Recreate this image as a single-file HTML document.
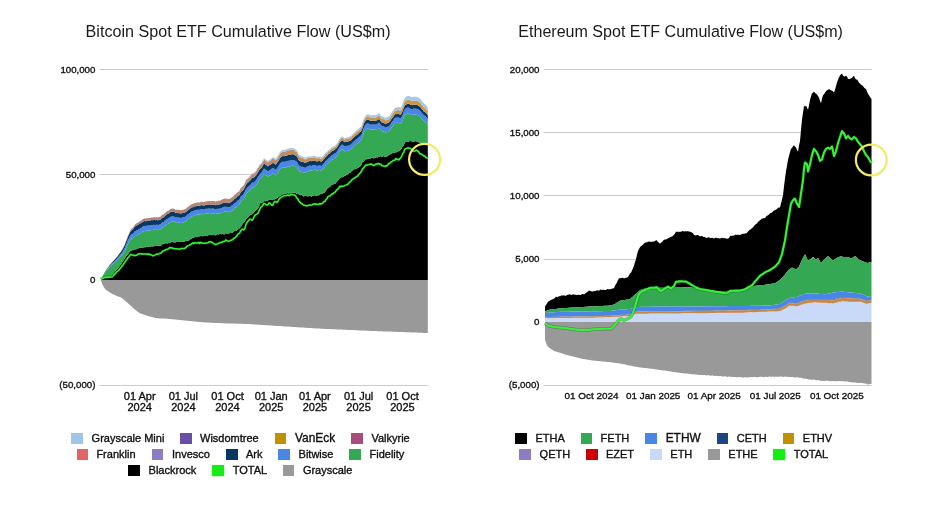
<!DOCTYPE html>
<html><head><meta charset="utf-8"><title>Spot ETF Cumulative Flow</title>
<style>
html,body{margin:0;padding:0;background:#fff;}
body{width:943px;height:506px;position:relative;overflow:hidden;font-family:"Liberation Sans",Arial,sans-serif;color:#222;}
svg{position:absolute;left:0;top:0;}
.t{position:absolute;white-space:nowrap;line-height:14px;height:14px;color:#111;-webkit-text-stroke:0.35px #111;}
.s{position:absolute;width:11.6px;height:11.4px;}
</style></head><body>
<svg width="943" height="506" viewBox="0 0 943 506">
<defs><linearGradient id="thinG" gradientUnits="userSpaceOnUse" x1="100" y1="0" x2="428" y2="0"><stop offset="0" stop-color="#b0807a"/><stop offset="0.45" stop-color="#b98872"/><stop offset="0.7" stop-color="#c6934f"/><stop offset="1" stop-color="#cc9647"/></linearGradient></defs>
<g><rect x="99.5" y="69" width="328.5" height="1" fill="#cacaca"/><rect x="99.5" y="174" width="328.5" height="1" fill="#cacaca"/><rect x="99.5" y="385" width="328.5" height="1" fill="#cacaca"/><rect x="543.5" y="69" width="328" height="1" fill="#cacaca"/><rect x="543.5" y="132" width="328" height="1" fill="#cacaca"/><rect x="543.5" y="195" width="328" height="1" fill="#cacaca"/><rect x="543.5" y="259" width="328" height="1" fill="#cacaca"/><rect x="543.5" y="385" width="328" height="1" fill="#cacaca"/></g>
<g><polygon fill="#999999" points="100.8,280.0 101.8,280.0 102.8,280.0 103.8,280.0 104.8,280.0 105.8,280.0 106.8,280.0 107.8,280.0 108.8,280.0 109.8,280.0 110.8,280.0 111.8,280.0 112.8,280.0 113.8,280.0 114.8,280.0 115.8,280.0 116.8,280.0 117.8,280.0 118.8,280.0 119.8,280.0 120.8,280.0 121.8,280.0 122.8,280.0 123.8,280.0 124.8,280.0 125.8,280.0 126.8,280.0 127.8,280.0 128.8,280.0 129.8,280.0 130.8,280.0 131.8,280.0 132.8,280.0 133.8,280.0 134.8,280.0 135.8,280.0 136.8,280.0 137.8,280.0 138.8,280.0 139.8,280.0 140.8,280.0 141.8,280.0 142.8,280.0 143.8,280.0 144.8,280.0 145.8,280.0 146.8,280.0 147.8,280.0 148.8,280.0 149.8,280.0 150.8,280.0 151.8,280.0 152.8,280.0 153.8,280.0 154.8,280.0 155.8,280.0 156.8,280.0 157.8,280.0 158.8,280.0 159.8,280.0 160.8,280.0 161.8,280.0 162.8,280.0 163.8,280.0 164.8,280.0 165.8,280.0 166.8,280.0 167.8,280.0 168.8,280.0 169.8,280.0 170.8,280.0 171.8,280.0 172.8,280.0 173.8,280.0 174.8,280.0 175.8,280.0 176.8,280.0 177.8,280.0 178.8,280.0 179.8,280.0 180.8,280.0 181.8,280.0 182.8,280.0 183.8,280.0 184.8,280.0 185.8,280.0 186.8,280.0 187.8,280.0 188.8,280.0 189.8,280.0 190.8,280.0 191.8,280.0 192.8,280.0 193.8,280.0 194.8,280.0 195.8,280.0 196.8,280.0 197.8,280.0 198.8,280.0 199.8,280.0 200.8,280.0 201.8,280.0 202.8,280.0 203.8,280.0 204.8,280.0 205.8,280.0 206.8,280.0 207.8,280.0 208.8,280.0 209.8,280.0 210.8,280.0 211.8,280.0 212.8,280.0 213.8,280.0 214.8,280.0 215.8,280.0 216.8,280.0 217.8,280.0 218.8,280.0 219.8,280.0 220.8,280.0 221.8,280.0 222.8,280.0 223.8,280.0 224.8,280.0 225.8,280.0 226.8,280.0 227.8,280.0 228.8,280.0 229.8,280.0 230.8,280.0 231.8,280.0 232.8,280.0 233.8,280.0 234.8,280.0 235.8,280.0 236.8,280.0 237.8,280.0 238.8,280.0 239.8,280.0 240.8,280.0 241.8,280.0 242.8,280.0 243.8,280.0 244.8,280.0 245.8,280.0 246.8,280.0 247.8,280.0 248.8,280.0 249.8,280.0 250.8,280.0 251.8,280.0 252.8,280.0 253.8,280.0 254.8,280.0 255.8,280.0 256.8,280.0 257.8,280.0 258.8,280.0 259.8,280.0 260.8,280.0 261.8,280.0 262.8,280.0 263.8,280.0 264.8,280.0 265.8,280.0 266.8,280.0 267.8,280.0 268.8,280.0 269.8,280.0 270.8,280.0 271.8,280.0 272.8,280.0 273.8,280.0 274.8,280.0 275.8,280.0 276.8,280.0 277.8,280.0 278.8,280.0 279.8,280.0 280.8,280.0 281.8,280.0 282.8,280.0 283.8,280.0 284.8,280.0 285.8,280.0 286.8,280.0 287.8,280.0 288.8,280.0 289.8,280.0 290.8,280.0 291.8,280.0 292.8,280.0 293.8,280.0 294.8,280.0 295.8,280.0 296.8,280.0 297.8,280.0 298.8,280.0 299.8,280.0 300.8,280.0 301.8,280.0 302.8,280.0 303.8,280.0 304.8,280.0 305.8,280.0 306.8,280.0 307.8,280.0 308.8,280.0 309.8,280.0 310.8,280.0 311.8,280.0 312.8,280.0 313.8,280.0 314.8,280.0 315.8,280.0 316.8,280.0 317.8,280.0 318.8,280.0 319.8,280.0 320.8,280.0 321.8,280.0 322.8,280.0 323.8,280.0 324.8,280.0 325.8,280.0 326.8,280.0 327.8,280.0 328.8,280.0 329.8,280.0 330.8,280.0 331.8,280.0 332.8,280.0 333.8,280.0 334.8,280.0 335.8,280.0 336.8,280.0 337.8,280.0 338.8,280.0 339.8,280.0 340.8,280.0 341.8,280.0 342.8,280.0 343.8,280.0 344.8,280.0 345.8,280.0 346.8,280.0 347.8,280.0 348.8,280.0 349.8,280.0 350.8,280.0 351.8,280.0 352.8,280.0 353.8,280.0 354.8,280.0 355.8,280.0 356.8,280.0 357.8,280.0 358.8,280.0 359.8,280.0 360.8,280.0 361.8,280.0 362.8,280.0 363.8,280.0 364.8,280.0 365.8,280.0 366.8,280.0 367.8,280.0 368.8,280.0 369.8,280.0 370.8,280.0 371.8,280.0 372.8,280.0 373.8,280.0 374.8,280.0 375.8,280.0 376.8,280.0 377.8,280.0 378.8,280.0 379.8,280.0 380.8,280.0 381.8,280.0 382.8,280.0 383.8,280.0 384.8,280.0 385.8,280.0 386.8,280.0 387.8,280.0 388.8,280.0 389.8,280.0 390.8,280.0 391.8,280.0 392.8,280.0 393.8,280.0 394.8,280.0 395.8,280.0 396.8,280.0 397.8,280.0 398.8,280.0 399.8,280.0 400.8,280.0 401.8,280.0 402.8,280.0 403.8,280.0 404.8,280.0 405.8,280.0 406.8,280.0 407.8,280.0 408.8,280.0 409.8,280.0 410.8,280.0 411.8,280.0 412.8,280.0 413.8,280.0 414.8,280.0 415.8,280.0 416.8,280.0 417.8,280.0 418.8,280.0 419.8,280.0 420.8,280.0 421.8,280.0 422.8,280.0 423.8,280.0 424.8,280.0 425.8,280.0 426.8,280.0 427.8,280.0 427.8,333.0 426.8,333.0 425.8,332.9 424.8,332.9 423.8,332.9 422.8,332.8 421.8,332.8 420.8,332.7 419.8,332.7 418.8,332.7 417.8,332.6 416.8,332.6 415.8,332.6 414.8,332.5 413.8,332.5 412.8,332.5 411.8,332.4 410.8,332.4 409.8,332.3 408.8,332.3 407.8,332.3 406.8,332.2 405.8,332.2 404.8,332.2 403.8,332.1 402.8,332.1 401.8,332.1 400.8,332.0 399.8,332.0 398.8,331.9 397.8,331.9 396.8,331.9 395.8,331.8 394.8,331.8 393.8,331.8 392.8,331.7 391.8,331.7 390.8,331.6 389.8,331.6 388.8,331.6 387.8,331.5 386.8,331.5 385.8,331.5 384.8,331.4 383.8,331.4 382.8,331.4 381.8,331.3 380.8,331.3 379.8,331.2 378.8,331.2 377.8,331.2 376.8,331.1 375.8,331.1 374.8,331.1 373.8,331.0 372.8,331.0 371.8,330.9 370.8,330.9 369.8,330.9 368.8,330.8 367.8,330.8 366.8,330.7 365.8,330.7 364.8,330.6 363.8,330.6 362.8,330.5 361.8,330.5 360.8,330.5 359.8,330.4 358.8,330.4 357.8,330.3 356.8,330.3 355.8,330.2 354.8,330.2 353.8,330.1 352.8,330.1 351.8,330.1 350.8,330.0 349.8,330.0 348.8,329.9 347.8,329.9 346.8,329.8 345.8,329.8 344.8,329.7 343.8,329.7 342.8,329.7 341.8,329.6 340.8,329.6 339.8,329.5 338.8,329.5 337.8,329.4 336.8,329.4 335.8,329.3 334.8,329.3 333.8,329.3 332.8,329.2 331.8,329.2 330.8,329.1 329.8,329.1 328.8,329.0 327.8,329.0 326.8,328.9 325.8,328.9 324.8,328.9 323.8,328.8 322.8,328.8 321.8,328.7 320.8,328.7 319.8,328.6 318.8,328.6 317.8,328.5 316.8,328.5 315.8,328.4 314.8,328.3 313.8,328.3 312.8,328.2 311.8,328.1 310.8,328.1 309.8,328.0 308.8,327.9 307.8,327.9 306.8,327.8 305.8,327.7 304.8,327.7 303.8,327.6 302.8,327.6 301.8,327.5 300.8,327.4 299.8,327.4 298.8,327.3 297.8,327.2 296.8,327.2 295.8,327.1 294.8,327.0 293.8,327.0 292.8,326.9 291.8,326.8 290.8,326.8 289.8,326.7 288.8,326.6 287.8,326.6 286.8,326.5 285.8,326.4 284.8,326.4 283.8,326.3 282.8,326.3 281.8,326.2 280.8,326.1 279.8,326.1 278.8,326.0 277.8,325.9 276.8,325.9 275.8,325.8 274.8,325.7 273.8,325.7 272.8,325.6 271.8,325.5 270.8,325.5 269.8,325.4 268.8,325.3 267.8,325.3 266.8,325.2 265.8,325.2 264.8,325.1 263.8,325.0 262.8,325.0 261.8,324.9 260.8,324.8 259.8,324.8 258.8,324.7 257.8,324.7 256.8,324.6 255.8,324.5 254.8,324.5 253.8,324.4 252.8,324.3 251.8,324.3 250.8,324.2 249.8,324.1 248.8,324.1 247.8,324.0 246.8,324.0 245.8,323.9 244.8,323.9 243.8,323.9 242.8,323.8 241.8,323.8 240.8,323.8 239.8,323.7 238.8,323.7 237.8,323.7 236.8,323.7 235.8,323.6 234.8,323.6 233.8,323.6 232.8,323.6 231.8,323.5 230.8,323.5 229.8,323.5 228.8,323.5 227.8,323.4 226.8,323.4 225.8,323.4 224.8,323.3 223.8,323.3 222.8,323.3 221.8,323.2 220.8,323.2 219.8,323.1 218.8,323.1 217.8,323.1 216.8,323.0 215.8,323.0 214.8,322.9 213.8,322.9 212.8,322.8 211.8,322.8 210.8,322.7 209.8,322.7 208.8,322.6 207.8,322.6 206.8,322.5 205.8,322.5 204.8,322.4 203.8,322.3 202.8,322.3 201.8,322.2 200.8,322.1 199.8,322.0 198.8,321.9 197.8,321.8 196.8,321.7 195.8,321.6 194.8,321.5 193.8,321.4 192.8,321.3 191.8,321.2 190.8,321.1 189.8,321.0 188.8,320.9 187.8,320.8 186.8,320.7 185.8,320.6 184.8,320.5 183.8,320.4 182.8,320.3 181.8,320.2 180.8,320.1 179.8,320.0 178.8,319.9 177.8,319.8 176.8,319.7 175.8,319.6 174.8,319.5 173.8,319.4 172.8,319.3 171.8,319.2 170.8,319.1 169.8,319.0 168.8,318.9 167.8,318.8 166.8,318.7 165.8,318.6 164.8,318.6 163.8,318.6 162.8,318.5 161.8,318.5 160.8,318.4 159.8,318.4 158.8,318.3 157.8,318.3 156.8,318.1 155.8,317.9 154.8,317.7 153.8,317.5 152.8,317.3 151.8,317.1 150.8,316.8 149.8,316.5 148.8,316.2 147.8,315.9 146.8,315.6 145.8,315.3 144.8,315.0 143.8,314.6 142.8,314.3 141.8,313.9 140.8,313.6 139.8,313.2 138.8,312.4 137.8,311.7 136.8,311.0 135.8,310.3 134.8,309.5 133.8,308.6 132.8,307.7 131.8,306.7 130.8,305.8 129.8,304.9 128.8,304.0 127.8,303.1 126.8,302.2 125.8,301.3 124.8,300.4 123.8,299.6 122.8,298.7 121.8,297.9 120.8,297.5 119.8,297.1 118.8,296.7 117.8,296.3 116.8,295.9 115.8,295.5 114.8,295.1 113.8,294.6 112.8,294.2 111.8,293.6 110.8,293.0 109.8,292.4 108.8,291.8 107.8,291.1 106.8,290.5 105.8,289.7 104.8,288.4 103.8,287.1 102.8,285.5 101.8,282.7 100.8,280.0"/>
<polygon fill="#000000" points="100.8,280.0 101.8,279.5 102.8,278.9 103.8,278.4 104.8,278.1 105.8,277.8 106.8,277.5 107.8,277.3 108.8,276.9 109.8,276.4 110.8,276.0 111.8,275.5 112.8,274.4 113.8,273.2 114.8,272.0 115.8,270.8 116.8,269.6 117.8,268.4 118.8,267.2 119.8,266.0 120.8,264.5 121.8,262.9 122.8,261.4 123.8,259.9 124.8,258.4 125.8,256.4 126.8,255.4 127.8,254.2 128.8,253.0 129.8,251.7 130.8,250.7 131.8,250.4 132.8,249.9 133.8,249.7 134.8,249.2 135.8,249.5 136.8,249.1 137.8,248.2 138.8,248.2 139.8,247.6 140.8,247.7 141.8,247.4 142.8,247.7 143.8,247.2 144.8,247.2 145.8,247.3 146.8,246.8 147.8,247.3 148.8,246.3 149.8,246.8 150.8,246.4 151.8,246.3 152.8,246.4 153.8,246.2 154.8,246.0 155.8,245.4 156.8,245.4 157.8,246.0 158.8,245.7 159.8,245.7 160.8,245.6 161.8,244.9 162.8,243.8 163.8,243.7 164.8,243.7 165.8,243.0 166.8,243.6 167.8,243.3 168.8,242.9 169.8,242.2 170.8,242.6 171.8,241.8 172.8,242.0 173.8,242.2 174.8,242.5 175.8,242.2 176.8,241.8 177.8,242.0 178.8,242.0 179.8,242.0 180.8,241.6 181.8,241.7 182.8,241.6 183.8,241.8 184.8,241.6 185.8,241.1 186.8,240.7 187.8,240.8 188.8,240.4 189.8,239.5 190.8,239.1 191.8,238.6 192.8,237.2 193.8,237.9 194.8,237.0 195.8,237.0 196.8,237.2 197.8,237.0 198.8,236.1 199.8,236.5 200.8,235.7 201.8,235.9 202.8,236.4 203.8,235.8 204.8,235.9 205.8,235.9 206.8,235.9 207.8,235.8 208.8,234.7 209.8,235.1 210.8,235.1 211.8,234.5 212.8,235.0 213.8,235.0 214.8,235.2 215.8,235.2 216.8,234.2 217.8,234.2 218.8,234.6 219.8,233.9 220.8,233.9 221.8,234.3 222.8,233.7 223.8,234.4 224.8,234.3 225.8,233.1 226.8,233.5 227.8,233.6 228.8,233.7 229.8,232.6 230.8,232.3 231.8,233.0 232.8,232.6 233.8,231.2 234.8,231.0 235.8,230.9 236.8,230.5 237.8,229.2 238.8,228.9 239.8,228.1 240.8,226.8 241.8,225.4 242.8,223.8 243.8,222.6 244.8,221.8 245.8,219.4 246.8,218.2 247.8,217.7 248.8,216.3 249.8,215.5 250.8,214.5 251.8,214.4 252.8,213.8 253.8,212.8 254.8,211.3 255.8,210.3 256.8,209.4 257.8,208.6 258.8,206.9 259.8,204.1 260.8,202.8 261.8,203.0 262.8,202.4 263.8,201.1 264.8,201.2 265.8,201.2 266.8,200.8 267.8,201.0 268.8,199.8 269.8,200.0 270.8,199.9 271.8,199.6 272.8,200.3 273.8,199.0 274.8,199.5 275.8,198.5 276.8,198.2 277.8,197.6 278.8,196.5 279.8,196.2 280.8,195.6 281.8,194.9 282.8,194.9 283.8,193.7 284.8,193.5 285.8,193.5 286.8,193.4 287.8,193.0 288.8,193.7 289.8,193.4 290.8,192.5 291.8,192.8 292.8,192.7 293.8,192.9 294.8,192.7 295.8,193.0 296.8,193.8 297.8,193.6 298.8,194.4 299.8,194.7 300.8,195.3 301.8,194.8 302.8,195.9 303.8,196.5 304.8,196.1 305.8,195.7 306.8,196.2 307.8,196.3 308.8,196.2 309.8,195.6 310.8,196.5 311.8,196.4 312.8,195.7 313.8,195.8 314.8,195.0 315.8,196.1 316.8,195.7 317.8,195.3 318.8,195.3 319.8,194.4 320.8,194.1 321.8,193.6 322.8,193.6 323.8,192.6 324.8,192.5 325.8,190.7 326.8,189.4 327.8,187.8 328.8,187.6 329.8,187.0 330.8,186.1 331.8,184.8 332.8,184.9 333.8,183.7 334.8,184.0 335.8,183.2 336.8,181.7 337.8,180.8 338.8,179.7 339.8,178.0 340.8,178.1 341.8,177.1 342.8,177.3 343.8,176.8 344.8,175.4 345.8,175.4 346.8,174.5 347.8,174.4 348.8,173.5 349.8,172.6 350.8,172.4 351.8,170.6 352.8,170.6 353.8,169.8 354.8,168.8 355.8,169.1 356.8,168.3 357.8,168.2 358.8,167.3 359.8,166.4 360.8,165.9 361.8,163.3 362.8,161.8 363.8,161.5 364.8,160.0 365.8,159.0 366.8,159.4 367.8,158.6 368.8,159.1 369.8,158.7 370.8,158.2 371.8,157.8 372.8,157.9 373.8,158.6 374.8,157.8 375.8,157.4 376.8,157.3 377.8,157.6 378.8,156.3 379.8,156.7 380.8,155.9 381.8,157.0 382.8,156.5 383.8,156.0 384.8,157.1 385.8,156.5 386.8,156.6 387.8,156.0 388.8,155.0 389.8,154.6 390.8,154.1 391.8,153.6 392.8,152.9 393.8,152.4 394.8,153.2 395.8,151.9 396.8,152.3 397.8,151.6 398.8,150.9 399.8,150.5 400.8,149.7 401.8,148.2 402.8,146.0 403.8,145.4 404.8,142.4 405.8,142.1 406.8,141.9 407.8,142.0 408.8,141.5 409.8,141.1 410.8,140.9 411.8,141.4 412.8,141.4 413.8,141.4 414.8,141.5 415.8,141.0 416.8,141.5 417.8,141.9 418.8,142.3 419.8,143.0 420.8,142.6 421.8,143.4 422.8,143.4 423.8,144.1 424.8,143.7 425.8,144.3 426.8,144.1 427.8,144.8 427.8,280.0 426.8,280.0 425.8,280.0 424.8,280.0 423.8,280.0 422.8,280.0 421.8,280.0 420.8,280.0 419.8,280.0 418.8,280.0 417.8,280.0 416.8,280.0 415.8,280.0 414.8,280.0 413.8,280.0 412.8,280.0 411.8,280.0 410.8,280.0 409.8,280.0 408.8,280.0 407.8,280.0 406.8,280.0 405.8,280.0 404.8,280.0 403.8,280.0 402.8,280.0 401.8,280.0 400.8,280.0 399.8,280.0 398.8,280.0 397.8,280.0 396.8,280.0 395.8,280.0 394.8,280.0 393.8,280.0 392.8,280.0 391.8,280.0 390.8,280.0 389.8,280.0 388.8,280.0 387.8,280.0 386.8,280.0 385.8,280.0 384.8,280.0 383.8,280.0 382.8,280.0 381.8,280.0 380.8,280.0 379.8,280.0 378.8,280.0 377.8,280.0 376.8,280.0 375.8,280.0 374.8,280.0 373.8,280.0 372.8,280.0 371.8,280.0 370.8,280.0 369.8,280.0 368.8,280.0 367.8,280.0 366.8,280.0 365.8,280.0 364.8,280.0 363.8,280.0 362.8,280.0 361.8,280.0 360.8,280.0 359.8,280.0 358.8,280.0 357.8,280.0 356.8,280.0 355.8,280.0 354.8,280.0 353.8,280.0 352.8,280.0 351.8,280.0 350.8,280.0 349.8,280.0 348.8,280.0 347.8,280.0 346.8,280.0 345.8,280.0 344.8,280.0 343.8,280.0 342.8,280.0 341.8,280.0 340.8,280.0 339.8,280.0 338.8,280.0 337.8,280.0 336.8,280.0 335.8,280.0 334.8,280.0 333.8,280.0 332.8,280.0 331.8,280.0 330.8,280.0 329.8,280.0 328.8,280.0 327.8,280.0 326.8,280.0 325.8,280.0 324.8,280.0 323.8,280.0 322.8,280.0 321.8,280.0 320.8,280.0 319.8,280.0 318.8,280.0 317.8,280.0 316.8,280.0 315.8,280.0 314.8,280.0 313.8,280.0 312.8,280.0 311.8,280.0 310.8,280.0 309.8,280.0 308.8,280.0 307.8,280.0 306.8,280.0 305.8,280.0 304.8,280.0 303.8,280.0 302.8,280.0 301.8,280.0 300.8,280.0 299.8,280.0 298.8,280.0 297.8,280.0 296.8,280.0 295.8,280.0 294.8,280.0 293.8,280.0 292.8,280.0 291.8,280.0 290.8,280.0 289.8,280.0 288.8,280.0 287.8,280.0 286.8,280.0 285.8,280.0 284.8,280.0 283.8,280.0 282.8,280.0 281.8,280.0 280.8,280.0 279.8,280.0 278.8,280.0 277.8,280.0 276.8,280.0 275.8,280.0 274.8,280.0 273.8,280.0 272.8,280.0 271.8,280.0 270.8,280.0 269.8,280.0 268.8,280.0 267.8,280.0 266.8,280.0 265.8,280.0 264.8,280.0 263.8,280.0 262.8,280.0 261.8,280.0 260.8,280.0 259.8,280.0 258.8,280.0 257.8,280.0 256.8,280.0 255.8,280.0 254.8,280.0 253.8,280.0 252.8,280.0 251.8,280.0 250.8,280.0 249.8,280.0 248.8,280.0 247.8,280.0 246.8,280.0 245.8,280.0 244.8,280.0 243.8,280.0 242.8,280.0 241.8,280.0 240.8,280.0 239.8,280.0 238.8,280.0 237.8,280.0 236.8,280.0 235.8,280.0 234.8,280.0 233.8,280.0 232.8,280.0 231.8,280.0 230.8,280.0 229.8,280.0 228.8,280.0 227.8,280.0 226.8,280.0 225.8,280.0 224.8,280.0 223.8,280.0 222.8,280.0 221.8,280.0 220.8,280.0 219.8,280.0 218.8,280.0 217.8,280.0 216.8,280.0 215.8,280.0 214.8,280.0 213.8,280.0 212.8,280.0 211.8,280.0 210.8,280.0 209.8,280.0 208.8,280.0 207.8,280.0 206.8,280.0 205.8,280.0 204.8,280.0 203.8,280.0 202.8,280.0 201.8,280.0 200.8,280.0 199.8,280.0 198.8,280.0 197.8,280.0 196.8,280.0 195.8,280.0 194.8,280.0 193.8,280.0 192.8,280.0 191.8,280.0 190.8,280.0 189.8,280.0 188.8,280.0 187.8,280.0 186.8,280.0 185.8,280.0 184.8,280.0 183.8,280.0 182.8,280.0 181.8,280.0 180.8,280.0 179.8,280.0 178.8,280.0 177.8,280.0 176.8,280.0 175.8,280.0 174.8,280.0 173.8,280.0 172.8,280.0 171.8,280.0 170.8,280.0 169.8,280.0 168.8,280.0 167.8,280.0 166.8,280.0 165.8,280.0 164.8,280.0 163.8,280.0 162.8,280.0 161.8,280.0 160.8,280.0 159.8,280.0 158.8,280.0 157.8,280.0 156.8,280.0 155.8,280.0 154.8,280.0 153.8,280.0 152.8,280.0 151.8,280.0 150.8,280.0 149.8,280.0 148.8,280.0 147.8,280.0 146.8,280.0 145.8,280.0 144.8,280.0 143.8,280.0 142.8,280.0 141.8,280.0 140.8,280.0 139.8,280.0 138.8,280.0 137.8,280.0 136.8,280.0 135.8,280.0 134.8,280.0 133.8,280.0 132.8,280.0 131.8,280.0 130.8,280.0 129.8,280.0 128.8,280.0 127.8,280.0 126.8,280.0 125.8,280.0 124.8,280.0 123.8,280.0 122.8,280.0 121.8,280.0 120.8,280.0 119.8,280.0 118.8,280.0 117.8,280.0 116.8,280.0 115.8,280.0 114.8,280.0 113.8,280.0 112.8,280.0 111.8,280.0 110.8,280.0 109.8,280.0 108.8,280.0 107.8,280.0 106.8,280.0 105.8,280.0 104.8,280.0 103.8,280.0 102.8,280.0 101.8,280.0 100.8,280.0"/>
<polygon fill="#34a853" points="100.8,280.0 101.8,277.9 102.8,275.9 103.8,274.5 104.8,273.0 105.8,271.4 106.8,270.2 107.8,269.1 108.8,268.0 109.8,267.0 110.8,266.0 111.8,265.0 112.8,264.1 113.8,263.3 114.8,262.5 115.8,261.7 116.8,260.6 117.8,259.6 118.8,258.5 119.8,257.3 120.8,256.3 121.8,255.4 122.8,254.0 123.8,252.4 124.8,250.9 125.8,248.4 126.8,246.5 127.8,244.0 128.8,242.5 129.8,240.5 130.8,239.0 131.8,238.4 132.8,238.2 133.8,237.3 134.8,236.1 135.8,236.0 136.8,235.1 137.8,234.9 138.8,234.2 139.8,233.8 140.8,233.1 141.8,232.7 142.8,231.6 143.8,231.2 144.8,230.7 145.8,231.3 146.8,230.5 147.8,230.7 148.8,230.5 149.8,230.6 150.8,230.2 151.8,229.9 152.8,230.0 153.8,229.7 154.8,229.8 155.8,230.0 156.8,229.4 157.8,230.2 158.8,229.7 159.8,229.4 160.8,229.2 161.8,227.8 162.8,227.2 163.8,227.0 164.8,225.7 165.8,225.4 166.8,224.1 167.8,223.9 168.8,223.4 169.8,222.4 170.8,221.9 171.8,221.6 172.8,221.7 173.8,221.6 174.8,222.1 175.8,222.9 176.8,222.4 177.8,222.9 178.8,222.4 179.8,222.7 180.8,222.9 181.8,222.7 182.8,222.5 183.8,222.2 184.8,221.8 185.8,221.2 186.8,220.5 187.8,219.2 188.8,218.8 189.8,217.9 190.8,217.0 191.8,216.3 192.8,216.2 193.8,215.8 194.8,215.0 195.8,215.2 196.8,214.5 197.8,214.5 198.8,214.5 199.8,214.5 200.8,213.9 201.8,213.8 202.8,214.2 203.8,214.3 204.8,214.1 205.8,213.5 206.8,213.5 207.8,213.4 208.8,213.3 209.8,213.0 210.8,213.5 211.8,213.2 212.8,213.2 213.8,213.5 214.8,213.8 215.8,213.9 216.8,213.5 217.8,213.7 218.8,213.2 219.8,213.5 220.8,213.1 221.8,212.6 222.8,212.0 223.8,211.9 224.8,211.5 225.8,211.6 226.8,211.9 227.8,211.8 228.8,212.4 229.8,211.7 230.8,211.5 231.8,210.5 232.8,210.2 233.8,208.9 234.8,207.8 235.8,207.6 236.8,206.4 237.8,205.4 238.8,205.1 239.8,203.6 240.8,201.5 241.8,200.6 242.8,199.8 243.8,198.7 244.8,196.7 245.8,194.6 246.8,193.2 247.8,192.1 248.8,191.7 249.8,190.3 250.8,189.6 251.8,187.9 252.8,187.8 253.8,187.6 254.8,186.5 255.8,185.7 256.8,184.1 257.8,182.4 258.8,180.8 259.8,179.2 260.8,178.7 261.8,177.3 262.8,175.8 263.8,174.0 264.8,174.0 265.8,175.3 266.8,175.5 267.8,176.7 268.8,176.0 269.8,175.5 270.8,175.1 271.8,173.9 272.8,173.6 273.8,173.9 274.8,174.6 275.8,175.5 276.8,174.0 277.8,172.7 278.8,171.2 279.8,169.3 280.8,168.4 281.8,167.7 282.8,167.0 283.8,167.5 284.8,167.5 285.8,167.2 286.8,167.2 287.8,166.5 288.8,166.7 289.8,166.7 290.8,166.1 291.8,165.8 292.8,165.7 293.8,165.7 294.8,166.0 295.8,167.0 296.8,167.1 297.8,168.9 298.8,170.8 299.8,171.4 300.8,171.8 301.8,172.2 302.8,171.9 303.8,172.4 304.8,172.8 305.8,172.7 306.8,171.6 307.8,171.3 308.8,170.9 309.8,170.2 310.8,170.5 311.8,170.7 312.8,169.9 313.8,169.9 314.8,169.6 315.8,170.1 316.8,170.6 317.8,170.4 318.8,170.1 319.8,170.1 320.8,170.4 321.8,170.6 322.8,169.2 323.8,168.0 324.8,167.0 325.8,165.3 326.8,165.0 327.8,163.4 328.8,162.4 329.8,162.0 330.8,160.7 331.8,159.8 332.8,159.2 333.8,158.9 334.8,157.7 335.8,157.6 336.8,156.1 337.8,155.0 338.8,152.8 339.8,151.3 340.8,150.5 341.8,149.2 342.8,149.7 343.8,150.6 344.8,151.5 345.8,150.7 346.8,150.9 347.8,150.7 348.8,150.4 349.8,149.9 350.8,149.6 351.8,148.5 352.8,147.4 353.8,146.5 354.8,145.7 355.8,144.5 356.8,144.0 357.8,143.3 358.8,142.2 359.8,141.3 360.8,140.5 361.8,139.1 362.8,135.8 363.8,132.7 364.8,130.7 365.8,129.5 366.8,128.7 367.8,128.5 368.8,128.7 369.8,129.3 370.8,129.7 371.8,129.6 372.8,129.5 373.8,129.7 374.8,129.7 375.8,129.7 376.8,129.0 377.8,128.9 378.8,127.8 379.8,128.4 380.8,130.1 381.8,131.2 382.8,131.3 383.8,131.5 384.8,132.2 385.8,132.8 386.8,132.0 387.8,131.9 388.8,131.3 389.8,130.5 390.8,128.8 391.8,127.3 392.8,126.1 393.8,124.7 394.8,123.0 395.8,122.8 396.8,123.1 397.8,122.8 398.8,122.9 399.8,123.6 400.8,123.7 401.8,122.0 402.8,120.0 403.8,116.8 404.8,115.0 405.8,114.2 406.8,113.9 407.8,113.4 408.8,113.5 409.8,114.2 410.8,114.9 411.8,114.8 412.8,115.1 413.8,114.3 414.8,114.7 415.8,114.5 416.8,114.8 417.8,115.0 418.8,115.7 419.8,116.2 420.8,117.2 421.8,118.9 422.8,119.8 423.8,121.1 424.8,121.6 425.8,122.4 426.8,123.7 427.8,124.6 427.8,144.8 426.8,144.1 425.8,144.3 424.8,143.7 423.8,144.1 422.8,143.4 421.8,143.4 420.8,142.6 419.8,143.0 418.8,142.3 417.8,141.9 416.8,141.5 415.8,141.0 414.8,141.5 413.8,141.4 412.8,141.4 411.8,141.4 410.8,140.9 409.8,141.1 408.8,141.5 407.8,142.0 406.8,141.9 405.8,142.1 404.8,142.4 403.8,145.4 402.8,146.0 401.8,148.2 400.8,149.7 399.8,150.5 398.8,150.9 397.8,151.6 396.8,152.3 395.8,151.9 394.8,153.2 393.8,152.4 392.8,152.9 391.8,153.6 390.8,154.1 389.8,154.6 388.8,155.0 387.8,156.0 386.8,156.6 385.8,156.5 384.8,157.1 383.8,156.0 382.8,156.5 381.8,157.0 380.8,155.9 379.8,156.7 378.8,156.3 377.8,157.6 376.8,157.3 375.8,157.4 374.8,157.8 373.8,158.6 372.8,157.9 371.8,157.8 370.8,158.2 369.8,158.7 368.8,159.1 367.8,158.6 366.8,159.4 365.8,159.0 364.8,160.0 363.8,161.5 362.8,161.8 361.8,163.3 360.8,165.9 359.8,166.4 358.8,167.3 357.8,168.2 356.8,168.3 355.8,169.1 354.8,168.8 353.8,169.8 352.8,170.6 351.8,170.6 350.8,172.4 349.8,172.6 348.8,173.5 347.8,174.4 346.8,174.5 345.8,175.4 344.8,175.4 343.8,176.8 342.8,177.3 341.8,177.1 340.8,178.1 339.8,178.0 338.8,179.7 337.8,180.8 336.8,181.7 335.8,183.2 334.8,184.0 333.8,183.7 332.8,184.9 331.8,184.8 330.8,186.1 329.8,187.0 328.8,187.6 327.8,187.8 326.8,189.4 325.8,190.7 324.8,192.5 323.8,192.6 322.8,193.6 321.8,193.6 320.8,194.1 319.8,194.4 318.8,195.3 317.8,195.3 316.8,195.7 315.8,196.1 314.8,195.0 313.8,195.8 312.8,195.7 311.8,196.4 310.8,196.5 309.8,195.6 308.8,196.2 307.8,196.3 306.8,196.2 305.8,195.7 304.8,196.1 303.8,196.5 302.8,195.9 301.8,194.8 300.8,195.3 299.8,194.7 298.8,194.4 297.8,193.6 296.8,193.8 295.8,193.0 294.8,192.7 293.8,192.9 292.8,192.7 291.8,192.8 290.8,192.5 289.8,193.4 288.8,193.7 287.8,193.0 286.8,193.4 285.8,193.5 284.8,193.5 283.8,193.7 282.8,194.9 281.8,194.9 280.8,195.6 279.8,196.2 278.8,196.5 277.8,197.6 276.8,198.2 275.8,198.5 274.8,199.5 273.8,199.0 272.8,200.3 271.8,199.6 270.8,199.9 269.8,200.0 268.8,199.8 267.8,201.0 266.8,200.8 265.8,201.2 264.8,201.2 263.8,201.1 262.8,202.4 261.8,203.0 260.8,202.8 259.8,204.1 258.8,206.9 257.8,208.6 256.8,209.4 255.8,210.3 254.8,211.3 253.8,212.8 252.8,213.8 251.8,214.4 250.8,214.5 249.8,215.5 248.8,216.3 247.8,217.7 246.8,218.2 245.8,219.4 244.8,221.8 243.8,222.6 242.8,223.8 241.8,225.4 240.8,226.8 239.8,228.1 238.8,228.9 237.8,229.2 236.8,230.5 235.8,230.9 234.8,231.0 233.8,231.2 232.8,232.6 231.8,233.0 230.8,232.3 229.8,232.6 228.8,233.7 227.8,233.6 226.8,233.5 225.8,233.1 224.8,234.3 223.8,234.4 222.8,233.7 221.8,234.3 220.8,233.9 219.8,233.9 218.8,234.6 217.8,234.2 216.8,234.2 215.8,235.2 214.8,235.2 213.8,235.0 212.8,235.0 211.8,234.5 210.8,235.1 209.8,235.1 208.8,234.7 207.8,235.8 206.8,235.9 205.8,235.9 204.8,235.9 203.8,235.8 202.8,236.4 201.8,235.9 200.8,235.7 199.8,236.5 198.8,236.1 197.8,237.0 196.8,237.2 195.8,237.0 194.8,237.0 193.8,237.9 192.8,237.2 191.8,238.6 190.8,239.1 189.8,239.5 188.8,240.4 187.8,240.8 186.8,240.7 185.8,241.1 184.8,241.6 183.8,241.8 182.8,241.6 181.8,241.7 180.8,241.6 179.8,242.0 178.8,242.0 177.8,242.0 176.8,241.8 175.8,242.2 174.8,242.5 173.8,242.2 172.8,242.0 171.8,241.8 170.8,242.6 169.8,242.2 168.8,242.9 167.8,243.3 166.8,243.6 165.8,243.0 164.8,243.7 163.8,243.7 162.8,243.8 161.8,244.9 160.8,245.6 159.8,245.7 158.8,245.7 157.8,246.0 156.8,245.4 155.8,245.4 154.8,246.0 153.8,246.2 152.8,246.4 151.8,246.3 150.8,246.4 149.8,246.8 148.8,246.3 147.8,247.3 146.8,246.8 145.8,247.3 144.8,247.2 143.8,247.2 142.8,247.7 141.8,247.4 140.8,247.7 139.8,247.6 138.8,248.2 137.8,248.2 136.8,249.1 135.8,249.5 134.8,249.2 133.8,249.7 132.8,249.9 131.8,250.4 130.8,250.7 129.8,251.7 128.8,253.0 127.8,254.2 126.8,255.4 125.8,256.4 124.8,258.4 123.8,259.9 122.8,261.4 121.8,262.9 120.8,264.5 119.8,266.0 118.8,267.2 117.8,268.4 116.8,269.6 115.8,270.8 114.8,272.0 113.8,273.2 112.8,274.4 111.8,275.5 110.8,276.0 109.8,276.4 108.8,276.9 107.8,277.3 106.8,277.5 105.8,277.8 104.8,278.1 103.8,278.4 102.8,278.9 101.8,279.5 100.8,280.0"/>
<polygon fill="#4a86e8" points="100.8,280.0 101.8,277.8 102.8,275.7 103.8,274.2 104.8,272.6 105.8,270.9 106.8,269.6 107.8,268.4 108.8,267.2 109.8,266.1 110.8,265.0 111.8,263.9 112.8,262.9 113.8,262.0 114.8,261.0 115.8,260.1 116.8,259.0 117.8,257.8 118.8,256.6 119.8,255.3 120.8,254.1 121.8,253.0 122.8,251.4 123.8,249.6 124.8,247.9 125.8,245.3 126.8,243.2 127.8,240.5 128.8,238.8 129.8,236.6 130.8,235.0 131.8,234.1 132.8,233.8 133.8,232.7 134.8,231.3 135.8,231.0 136.8,230.2 137.8,229.9 138.8,229.3 139.8,228.8 140.8,228.1 141.8,227.7 142.8,226.6 143.8,226.2 144.8,225.7 145.8,226.3 146.8,225.5 147.8,225.7 148.8,225.5 149.8,225.6 150.8,225.2 151.8,224.9 152.8,225.1 153.8,224.7 154.8,224.9 155.8,225.1 156.8,224.5 157.8,225.2 158.8,224.7 159.8,224.4 160.8,224.2 161.8,222.8 162.8,222.2 163.8,222.0 164.8,220.6 165.8,220.4 166.8,219.1 167.8,218.8 168.8,218.3 169.8,217.3 170.8,216.8 171.8,216.4 172.8,216.6 173.8,216.5 174.8,217.0 175.8,217.8 176.8,217.3 177.8,217.8 178.8,217.4 179.8,217.7 180.8,217.9 181.8,217.7 182.8,217.5 183.8,217.3 184.8,216.9 185.8,216.3 186.8,215.6 187.8,214.3 188.8,214.0 189.8,213.1 190.8,212.2 191.8,211.5 192.8,211.4 193.8,211.0 194.8,210.2 195.8,210.5 196.8,209.7 197.8,209.8 198.8,209.8 199.8,209.8 200.8,209.3 201.8,209.1 202.8,209.5 203.8,209.6 204.8,209.4 205.8,208.8 206.8,208.8 207.8,208.7 208.8,208.6 209.8,208.4 210.8,208.9 211.8,208.5 212.8,208.6 213.8,208.8 214.8,209.1 215.8,209.2 216.8,208.8 217.8,209.0 218.8,208.5 219.8,208.8 220.8,208.3 221.8,207.9 222.8,207.2 223.8,207.1 224.8,206.7 225.8,206.8 226.8,207.0 227.8,207.0 228.8,207.5 229.8,206.9 230.8,206.6 231.8,205.6 232.8,205.3 233.8,204.0 234.8,202.9 235.8,202.7 236.8,201.4 237.8,200.4 238.8,200.2 239.8,198.7 240.8,196.5 241.8,195.7 242.8,194.9 243.8,193.7 244.8,191.7 245.8,189.6 246.8,188.2 247.8,187.1 248.8,186.6 249.8,185.3 250.8,184.5 251.8,182.8 252.8,182.7 253.8,182.5 254.8,181.4 255.8,180.6 256.8,179.0 257.8,177.2 258.8,175.7 259.8,174.0 260.8,173.6 261.8,172.1 262.8,170.6 263.8,168.7 264.8,168.8 265.8,170.1 266.8,170.3 267.8,171.4 268.8,170.7 269.8,170.1 270.8,169.8 271.8,168.5 272.8,168.2 273.8,168.5 274.8,169.1 275.8,170.0 276.8,168.5 277.8,167.2 278.8,165.6 279.8,163.7 280.8,162.8 281.8,162.1 282.8,161.4 283.8,161.9 284.8,161.8 285.8,161.5 286.8,161.4 287.8,160.7 288.8,160.8 289.8,160.8 290.8,160.2 291.8,160.0 292.8,159.9 293.8,160.0 294.8,160.5 295.8,161.5 296.8,161.6 297.8,163.5 298.8,165.5 299.8,166.1 300.8,166.6 301.8,167.0 302.8,166.8 303.8,167.3 304.8,167.7 305.8,167.7 306.8,166.7 307.8,166.4 308.8,166.1 309.8,165.4 310.8,165.7 311.8,165.9 312.8,165.1 313.8,165.1 314.8,164.9 315.8,165.4 316.8,165.9 317.8,165.7 318.8,165.4 319.8,165.5 320.8,165.7 321.8,165.9 322.8,164.6 323.8,163.4 324.8,162.5 325.8,160.7 326.8,160.4 327.8,158.9 328.8,157.9 329.8,157.5 330.8,156.2 331.8,155.3 332.8,154.8 333.8,154.5 334.8,153.3 335.8,153.1 336.8,151.7 337.8,150.5 338.8,148.2 339.8,146.7 340.8,145.8 341.8,144.5 342.8,144.9 343.8,145.8 344.8,146.6 345.8,145.8 346.8,146.0 347.8,145.8 348.8,145.5 349.8,145.0 350.8,144.7 351.8,143.6 352.8,142.5 353.8,141.5 354.8,140.7 355.8,139.6 356.8,139.1 357.8,138.3 358.8,137.2 359.8,136.3 360.8,135.5 361.8,134.1 362.8,130.8 363.8,127.7 364.8,125.7 365.8,124.5 366.8,123.6 367.8,123.5 368.8,123.7 369.8,124.3 370.8,124.7 371.8,124.6 372.8,124.4 373.8,124.7 374.8,124.6 375.8,124.6 376.8,123.9 377.8,123.8 378.8,122.7 379.8,123.3 380.8,125.0 381.8,126.1 382.8,126.2 383.8,126.4 384.8,127.1 385.8,127.7 386.8,126.9 387.8,126.8 388.8,126.2 389.8,125.4 390.8,123.7 391.8,122.1 392.8,121.0 393.8,119.5 394.8,117.9 395.8,117.6 396.8,117.8 397.8,117.5 398.8,117.6 399.8,118.2 400.8,118.2 401.8,116.5 402.8,114.4 403.8,111.2 404.8,109.3 405.8,108.5 406.8,108.1 407.8,107.6 408.8,107.7 409.8,108.2 410.8,108.9 411.8,108.9 412.8,109.1 413.8,108.4 414.8,108.8 415.8,108.6 416.8,109.0 417.8,109.2 418.8,109.8 419.8,110.3 420.8,111.4 421.8,113.1 422.8,114.0 423.8,115.3 424.8,115.8 425.8,116.6 426.8,118.0 427.8,118.9 427.8,124.6 426.8,123.7 425.8,122.4 424.8,121.6 423.8,121.1 422.8,119.8 421.8,118.9 420.8,117.2 419.8,116.2 418.8,115.7 417.8,115.0 416.8,114.8 415.8,114.5 414.8,114.7 413.8,114.3 412.8,115.1 411.8,114.8 410.8,114.9 409.8,114.2 408.8,113.5 407.8,113.4 406.8,113.9 405.8,114.2 404.8,115.0 403.8,116.8 402.8,120.0 401.8,122.0 400.8,123.7 399.8,123.6 398.8,122.9 397.8,122.8 396.8,123.1 395.8,122.8 394.8,123.0 393.8,124.7 392.8,126.1 391.8,127.3 390.8,128.8 389.8,130.5 388.8,131.3 387.8,131.9 386.8,132.0 385.8,132.8 384.8,132.2 383.8,131.5 382.8,131.3 381.8,131.2 380.8,130.1 379.8,128.4 378.8,127.8 377.8,128.9 376.8,129.0 375.8,129.7 374.8,129.7 373.8,129.7 372.8,129.5 371.8,129.6 370.8,129.7 369.8,129.3 368.8,128.7 367.8,128.5 366.8,128.7 365.8,129.5 364.8,130.7 363.8,132.7 362.8,135.8 361.8,139.1 360.8,140.5 359.8,141.3 358.8,142.2 357.8,143.3 356.8,144.0 355.8,144.5 354.8,145.7 353.8,146.5 352.8,147.4 351.8,148.5 350.8,149.6 349.8,149.9 348.8,150.4 347.8,150.7 346.8,150.9 345.8,150.7 344.8,151.5 343.8,150.6 342.8,149.7 341.8,149.2 340.8,150.5 339.8,151.3 338.8,152.8 337.8,155.0 336.8,156.1 335.8,157.6 334.8,157.7 333.8,158.9 332.8,159.2 331.8,159.8 330.8,160.7 329.8,162.0 328.8,162.4 327.8,163.4 326.8,165.0 325.8,165.3 324.8,167.0 323.8,168.0 322.8,169.2 321.8,170.6 320.8,170.4 319.8,170.1 318.8,170.1 317.8,170.4 316.8,170.6 315.8,170.1 314.8,169.6 313.8,169.9 312.8,169.9 311.8,170.7 310.8,170.5 309.8,170.2 308.8,170.9 307.8,171.3 306.8,171.6 305.8,172.7 304.8,172.8 303.8,172.4 302.8,171.9 301.8,172.2 300.8,171.8 299.8,171.4 298.8,170.8 297.8,168.9 296.8,167.1 295.8,167.0 294.8,166.0 293.8,165.7 292.8,165.7 291.8,165.8 290.8,166.1 289.8,166.7 288.8,166.7 287.8,166.5 286.8,167.2 285.8,167.2 284.8,167.5 283.8,167.5 282.8,167.0 281.8,167.7 280.8,168.4 279.8,169.3 278.8,171.2 277.8,172.7 276.8,174.0 275.8,175.5 274.8,174.6 273.8,173.9 272.8,173.6 271.8,173.9 270.8,175.1 269.8,175.5 268.8,176.0 267.8,176.7 266.8,175.5 265.8,175.3 264.8,174.0 263.8,174.0 262.8,175.8 261.8,177.3 260.8,178.7 259.8,179.2 258.8,180.8 257.8,182.4 256.8,184.1 255.8,185.7 254.8,186.5 253.8,187.6 252.8,187.8 251.8,187.9 250.8,189.6 249.8,190.3 248.8,191.7 247.8,192.1 246.8,193.2 245.8,194.6 244.8,196.7 243.8,198.7 242.8,199.8 241.8,200.6 240.8,201.5 239.8,203.6 238.8,205.1 237.8,205.4 236.8,206.4 235.8,207.6 234.8,207.8 233.8,208.9 232.8,210.2 231.8,210.5 230.8,211.5 229.8,211.7 228.8,212.4 227.8,211.8 226.8,211.9 225.8,211.6 224.8,211.5 223.8,211.9 222.8,212.0 221.8,212.6 220.8,213.1 219.8,213.5 218.8,213.2 217.8,213.7 216.8,213.5 215.8,213.9 214.8,213.8 213.8,213.5 212.8,213.2 211.8,213.2 210.8,213.5 209.8,213.0 208.8,213.3 207.8,213.4 206.8,213.5 205.8,213.5 204.8,214.1 203.8,214.3 202.8,214.2 201.8,213.8 200.8,213.9 199.8,214.5 198.8,214.5 197.8,214.5 196.8,214.5 195.8,215.2 194.8,215.0 193.8,215.8 192.8,216.2 191.8,216.3 190.8,217.0 189.8,217.9 188.8,218.8 187.8,219.2 186.8,220.5 185.8,221.2 184.8,221.8 183.8,222.2 182.8,222.5 181.8,222.7 180.8,222.9 179.8,222.7 178.8,222.4 177.8,222.9 176.8,222.4 175.8,222.9 174.8,222.1 173.8,221.6 172.8,221.7 171.8,221.6 170.8,221.9 169.8,222.4 168.8,223.4 167.8,223.9 166.8,224.1 165.8,225.4 164.8,225.7 163.8,227.0 162.8,227.2 161.8,227.8 160.8,229.2 159.8,229.4 158.8,229.7 157.8,230.2 156.8,229.4 155.8,230.0 154.8,229.8 153.8,229.7 152.8,230.0 151.8,229.9 150.8,230.2 149.8,230.6 148.8,230.5 147.8,230.7 146.8,230.5 145.8,231.3 144.8,230.7 143.8,231.2 142.8,231.6 141.8,232.7 140.8,233.1 139.8,233.8 138.8,234.2 137.8,234.9 136.8,235.1 135.8,236.0 134.8,236.1 133.8,237.3 132.8,238.2 131.8,238.4 130.8,239.0 129.8,240.5 128.8,242.5 127.8,244.0 126.8,246.5 125.8,248.4 124.8,250.9 123.8,252.4 122.8,254.0 121.8,255.4 120.8,256.3 119.8,257.3 118.8,258.5 117.8,259.6 116.8,260.6 115.8,261.7 114.8,262.5 113.8,263.3 112.8,264.1 111.8,265.0 110.8,266.0 109.8,267.0 108.8,268.0 107.8,269.1 106.8,270.2 105.8,271.4 104.8,273.0 103.8,274.5 102.8,275.9 101.8,277.9 100.8,280.0"/>
<polygon fill="#073763" points="100.8,280.0 101.8,277.7 102.8,275.5 103.8,273.9 104.8,272.1 105.8,270.4 106.8,269.0 107.8,267.7 108.8,266.4 109.8,265.1 110.8,263.9 111.8,262.7 112.8,261.6 113.8,260.6 114.8,259.5 115.8,258.5 116.8,257.2 117.8,255.9 118.8,254.6 119.8,253.3 120.8,251.9 121.8,250.6 122.8,248.8 123.8,246.9 124.8,245.0 125.8,242.1 126.8,239.9 127.8,237.0 128.8,235.1 129.8,232.7 130.8,230.9 131.8,229.9 132.8,229.4 133.8,228.1 134.8,226.6 135.8,226.1 136.8,225.2 137.8,224.9 138.8,224.3 139.8,223.8 140.8,223.1 141.8,222.8 142.8,221.7 143.8,221.2 144.8,220.8 145.8,221.4 146.8,220.6 147.8,220.8 148.8,220.6 149.8,220.8 150.8,220.3 151.8,220.1 152.8,220.2 153.8,219.9 154.8,220.1 155.8,220.3 156.8,219.7 157.8,220.4 158.8,219.9 159.8,219.6 160.8,219.4 161.8,218.0 162.8,217.4 163.8,217.2 164.8,215.9 165.8,215.6 166.8,214.3 167.8,214.0 168.8,213.5 169.8,212.6 170.8,212.1 171.8,211.7 172.8,211.9 173.8,211.8 174.8,212.3 175.8,213.2 176.8,212.7 177.8,213.3 178.8,212.9 179.8,213.2 180.8,213.4 181.8,213.3 182.8,213.1 183.8,212.9 184.8,212.5 185.8,211.9 186.8,211.3 187.8,210.0 188.8,209.7 189.8,208.8 190.8,208.0 191.8,207.3 192.8,207.3 193.8,206.9 194.8,206.1 195.8,206.4 196.8,205.7 197.8,205.8 198.8,205.8 199.8,205.8 200.8,205.3 201.8,205.1 202.8,205.5 203.8,205.6 204.8,205.4 205.8,204.8 206.8,204.8 207.8,204.7 208.8,204.6 209.8,204.3 210.8,204.8 211.8,204.4 212.8,204.5 213.8,204.7 214.8,205.1 215.8,205.2 216.8,204.7 217.8,204.9 218.8,204.3 219.8,204.6 220.8,204.1 221.8,203.7 222.8,203.0 223.8,202.9 224.8,202.5 225.8,202.5 226.8,202.8 227.8,202.7 228.8,203.2 229.8,202.5 230.8,202.2 231.8,201.3 232.8,200.9 233.8,199.6 234.8,198.5 235.8,198.3 236.8,197.0 237.8,196.0 238.8,195.8 239.8,194.2 240.8,192.0 241.8,191.2 242.8,190.4 243.8,189.2 244.8,187.2 245.8,185.0 246.8,183.6 247.8,182.5 248.8,182.0 249.8,180.6 250.8,179.9 251.8,178.1 252.8,178.0 253.8,177.8 254.8,176.6 255.8,175.8 256.8,174.2 257.8,172.4 258.8,170.8 259.8,169.2 260.8,168.7 261.8,167.2 262.8,165.6 263.8,163.8 264.8,163.8 265.8,165.1 266.8,165.2 267.8,166.4 268.8,165.6 269.8,165.0 270.8,164.6 271.8,163.4 272.8,162.9 273.8,163.2 274.8,163.8 275.8,164.7 276.8,163.1 277.8,161.8 278.8,160.2 279.8,158.3 280.8,157.3 281.8,156.6 282.8,155.8 283.8,156.2 284.8,156.1 285.8,155.8 286.8,155.7 287.8,154.9 288.8,155.0 289.8,154.9 290.8,154.4 291.8,154.3 292.8,154.3 293.8,154.4 294.8,154.9 295.8,156.0 296.8,156.2 297.8,158.2 298.8,160.3 299.8,160.9 300.8,161.5 301.8,162.0 302.8,161.8 303.8,162.3 304.8,162.9 305.8,162.9 306.8,161.9 307.8,161.6 308.8,161.4 309.8,160.8 310.8,161.1 311.8,161.3 312.8,160.6 313.8,160.6 314.8,160.4 315.8,160.9 316.8,161.5 317.8,161.3 318.8,161.0 319.8,161.1 320.8,161.4 321.8,161.6 322.8,160.3 323.8,159.1 324.8,158.2 325.8,156.5 326.8,156.2 327.8,154.7 328.8,153.8 329.8,153.4 330.8,152.1 331.8,151.2 332.8,150.7 333.8,150.5 334.8,149.3 335.8,149.1 336.8,147.6 337.8,146.4 338.8,144.1 339.8,142.5 340.8,141.6 341.8,140.2 342.8,140.6 343.8,141.5 344.8,142.2 345.8,141.5 346.8,141.7 347.8,141.5 348.8,141.2 349.8,140.7 350.8,140.4 351.8,139.4 352.8,138.3 353.8,137.3 354.8,136.5 355.8,135.4 356.8,134.9 357.8,134.2 358.8,133.1 359.8,132.2 360.8,131.5 361.8,130.1 362.8,126.7 363.8,123.7 364.8,121.7 365.8,120.6 366.8,119.7 367.8,119.5 368.8,119.8 369.8,120.4 370.8,120.8 371.8,120.7 372.8,120.6 373.8,120.9 374.8,120.8 375.8,120.8 376.8,120.2 377.8,120.1 378.8,119.0 379.8,119.6 380.8,121.3 381.8,122.4 382.8,122.4 383.8,122.7 384.8,123.4 385.8,124.0 386.8,123.2 387.8,123.1 388.8,122.6 389.8,121.8 390.8,120.0 391.8,118.5 392.8,117.4 393.8,115.9 394.8,114.3 395.8,114.0 396.8,114.2 397.8,113.8 398.8,113.9 399.8,114.5 400.8,114.5 401.8,112.7 402.8,110.6 403.8,107.4 404.8,105.5 405.8,104.6 406.8,104.2 407.8,103.7 408.8,103.7 409.8,104.3 410.8,105.0 411.8,105.0 412.8,105.2 413.8,104.5 414.8,104.8 415.8,104.7 416.8,105.1 417.8,105.3 418.8,105.9 419.8,106.4 420.8,107.5 421.8,109.2 422.8,110.1 423.8,111.4 424.8,111.9 425.8,112.8 426.8,114.1 427.8,115.0 427.8,118.9 426.8,118.0 425.8,116.6 424.8,115.8 423.8,115.3 422.8,114.0 421.8,113.1 420.8,111.4 419.8,110.3 418.8,109.8 417.8,109.2 416.8,109.0 415.8,108.6 414.8,108.8 413.8,108.4 412.8,109.1 411.8,108.9 410.8,108.9 409.8,108.2 408.8,107.7 407.8,107.6 406.8,108.1 405.8,108.5 404.8,109.3 403.8,111.2 402.8,114.4 401.8,116.5 400.8,118.2 399.8,118.2 398.8,117.6 397.8,117.5 396.8,117.8 395.8,117.6 394.8,117.9 393.8,119.5 392.8,121.0 391.8,122.1 390.8,123.7 389.8,125.4 388.8,126.2 387.8,126.8 386.8,126.9 385.8,127.7 384.8,127.1 383.8,126.4 382.8,126.2 381.8,126.1 380.8,125.0 379.8,123.3 378.8,122.7 377.8,123.8 376.8,123.9 375.8,124.6 374.8,124.6 373.8,124.7 372.8,124.4 371.8,124.6 370.8,124.7 369.8,124.3 368.8,123.7 367.8,123.5 366.8,123.6 365.8,124.5 364.8,125.7 363.8,127.7 362.8,130.8 361.8,134.1 360.8,135.5 359.8,136.3 358.8,137.2 357.8,138.3 356.8,139.1 355.8,139.6 354.8,140.7 353.8,141.5 352.8,142.5 351.8,143.6 350.8,144.7 349.8,145.0 348.8,145.5 347.8,145.8 346.8,146.0 345.8,145.8 344.8,146.6 343.8,145.8 342.8,144.9 341.8,144.5 340.8,145.8 339.8,146.7 338.8,148.2 337.8,150.5 336.8,151.7 335.8,153.1 334.8,153.3 333.8,154.5 332.8,154.8 331.8,155.3 330.8,156.2 329.8,157.5 328.8,157.9 327.8,158.9 326.8,160.4 325.8,160.7 324.8,162.5 323.8,163.4 322.8,164.6 321.8,165.9 320.8,165.7 319.8,165.5 318.8,165.4 317.8,165.7 316.8,165.9 315.8,165.4 314.8,164.9 313.8,165.1 312.8,165.1 311.8,165.9 310.8,165.7 309.8,165.4 308.8,166.1 307.8,166.4 306.8,166.7 305.8,167.7 304.8,167.7 303.8,167.3 302.8,166.8 301.8,167.0 300.8,166.6 299.8,166.1 298.8,165.5 297.8,163.5 296.8,161.6 295.8,161.5 294.8,160.5 293.8,160.0 292.8,159.9 291.8,160.0 290.8,160.2 289.8,160.8 288.8,160.8 287.8,160.7 286.8,161.4 285.8,161.5 284.8,161.8 283.8,161.9 282.8,161.4 281.8,162.1 280.8,162.8 279.8,163.7 278.8,165.6 277.8,167.2 276.8,168.5 275.8,170.0 274.8,169.1 273.8,168.5 272.8,168.2 271.8,168.5 270.8,169.8 269.8,170.1 268.8,170.7 267.8,171.4 266.8,170.3 265.8,170.1 264.8,168.8 263.8,168.7 262.8,170.6 261.8,172.1 260.8,173.6 259.8,174.0 258.8,175.7 257.8,177.2 256.8,179.0 255.8,180.6 254.8,181.4 253.8,182.5 252.8,182.7 251.8,182.8 250.8,184.5 249.8,185.3 248.8,186.6 247.8,187.1 246.8,188.2 245.8,189.6 244.8,191.7 243.8,193.7 242.8,194.9 241.8,195.7 240.8,196.5 239.8,198.7 238.8,200.2 237.8,200.4 236.8,201.4 235.8,202.7 234.8,202.9 233.8,204.0 232.8,205.3 231.8,205.6 230.8,206.6 229.8,206.9 228.8,207.5 227.8,207.0 226.8,207.0 225.8,206.8 224.8,206.7 223.8,207.1 222.8,207.2 221.8,207.9 220.8,208.3 219.8,208.8 218.8,208.5 217.8,209.0 216.8,208.8 215.8,209.2 214.8,209.1 213.8,208.8 212.8,208.6 211.8,208.5 210.8,208.9 209.8,208.4 208.8,208.6 207.8,208.7 206.8,208.8 205.8,208.8 204.8,209.4 203.8,209.6 202.8,209.5 201.8,209.1 200.8,209.3 199.8,209.8 198.8,209.8 197.8,209.8 196.8,209.7 195.8,210.5 194.8,210.2 193.8,211.0 192.8,211.4 191.8,211.5 190.8,212.2 189.8,213.1 188.8,214.0 187.8,214.3 186.8,215.6 185.8,216.3 184.8,216.9 183.8,217.3 182.8,217.5 181.8,217.7 180.8,217.9 179.8,217.7 178.8,217.4 177.8,217.8 176.8,217.3 175.8,217.8 174.8,217.0 173.8,216.5 172.8,216.6 171.8,216.4 170.8,216.8 169.8,217.3 168.8,218.3 167.8,218.8 166.8,219.1 165.8,220.4 164.8,220.6 163.8,222.0 162.8,222.2 161.8,222.8 160.8,224.2 159.8,224.4 158.8,224.7 157.8,225.2 156.8,224.5 155.8,225.1 154.8,224.9 153.8,224.7 152.8,225.1 151.8,224.9 150.8,225.2 149.8,225.6 148.8,225.5 147.8,225.7 146.8,225.5 145.8,226.3 144.8,225.7 143.8,226.2 142.8,226.6 141.8,227.7 140.8,228.1 139.8,228.8 138.8,229.3 137.8,229.9 136.8,230.2 135.8,231.0 134.8,231.3 133.8,232.7 132.8,233.8 131.8,234.1 130.8,235.0 129.8,236.6 128.8,238.8 127.8,240.5 126.8,243.2 125.8,245.3 124.8,247.9 123.8,249.6 122.8,251.4 121.8,253.0 120.8,254.1 119.8,255.3 118.8,256.6 117.8,257.8 116.8,259.0 115.8,260.1 114.8,261.0 113.8,262.0 112.8,262.9 111.8,263.9 110.8,265.0 109.8,266.1 108.8,267.2 107.8,268.4 106.8,269.6 105.8,270.9 104.8,272.6 103.8,274.2 102.8,275.7 101.8,277.8 100.8,280.0"/>
<polygon fill="url(#thinG)" points="100.8,280.0 101.8,277.6 102.8,275.5 103.8,273.8 104.8,272.1 105.8,270.4 106.8,268.9 107.8,267.6 108.8,266.3 109.8,265.0 110.8,263.8 111.8,262.5 112.8,261.4 113.8,260.4 114.8,259.3 115.8,258.2 116.8,256.9 117.8,255.6 118.8,254.3 119.8,252.9 120.8,251.5 121.8,250.1 122.8,248.2 123.8,246.3 124.8,244.3 125.8,241.4 126.8,239.0 127.8,236.1 128.8,234.1 129.8,231.6 130.8,229.6 131.8,228.5 132.8,227.8 133.8,226.4 134.8,224.7 135.8,224.1 136.8,223.0 137.8,222.7 138.8,221.9 139.8,221.3 140.8,220.6 141.8,220.2 142.8,219.1 143.8,218.7 144.8,218.2 145.8,218.8 146.8,218.0 147.8,218.2 148.8,218.0 149.8,218.1 150.8,217.7 151.8,217.4 152.8,217.5 153.8,217.2 154.8,217.3 155.8,217.5 156.8,216.9 157.8,217.6 158.8,217.1 159.8,216.7 160.8,216.6 161.8,215.1 162.8,214.5 163.8,214.3 164.8,212.9 165.8,212.6 166.8,211.3 167.8,211.0 168.8,210.5 169.8,209.5 170.8,209.0 171.8,208.6 172.8,208.7 173.8,208.6 174.8,209.2 175.8,210.0 176.8,209.5 177.8,210.1 178.8,209.7 179.8,210.0 180.8,210.2 181.8,210.0 182.8,209.9 183.8,209.6 184.8,209.2 185.8,208.7 186.8,208.0 187.8,206.7 188.8,206.4 189.8,205.5 190.8,204.7 191.8,204.0 192.8,204.0 193.8,203.5 194.8,202.8 195.8,203.1 196.8,202.4 197.8,202.4 198.8,202.5 199.8,202.5 200.8,201.9 201.8,201.7 202.8,202.1 203.8,202.2 204.8,202.0 205.8,201.3 206.8,201.3 207.8,201.2 208.8,201.1 209.8,200.8 210.8,201.3 211.8,200.9 212.8,200.9 213.8,201.1 214.8,201.4 215.8,201.5 216.8,201.0 217.8,201.2 218.8,200.6 219.8,200.8 220.8,200.3 221.8,199.8 222.8,199.1 223.8,199.0 224.8,198.6 225.8,198.5 226.8,198.8 227.8,198.7 228.8,199.2 229.8,198.5 230.8,198.2 231.8,197.2 232.8,196.9 233.8,195.6 234.8,194.5 235.8,194.3 236.8,193.0 237.8,192.0 238.8,191.8 239.8,190.2 240.8,188.0 241.8,187.2 242.8,186.4 243.8,185.2 244.8,183.2 245.8,181.1 246.8,179.7 247.8,178.6 248.8,178.1 249.8,176.7 250.8,175.9 251.8,174.2 252.8,174.1 253.8,173.9 254.8,172.7 255.8,171.9 256.8,170.3 257.8,168.5 258.8,167.0 259.8,165.3 260.8,164.8 261.8,163.3 262.8,161.8 263.8,159.9 264.8,160.0 265.8,161.2 266.8,161.3 267.8,162.4 268.8,161.6 269.8,161.0 270.8,160.6 271.8,159.3 272.8,158.8 273.8,159.1 274.8,159.6 275.8,160.5 276.8,158.9 277.8,157.5 278.8,155.9 279.8,154.0 280.8,153.0 281.8,152.2 282.8,151.3 283.8,151.7 284.8,151.6 285.8,151.2 286.8,151.1 287.8,150.2 288.8,150.3 289.8,150.2 290.8,149.7 291.8,149.7 292.8,149.8 293.8,150.0 294.8,150.6 295.8,151.7 296.8,152.1 297.8,154.1 298.8,156.3 299.8,157.0 300.8,157.6 301.8,158.2 302.8,158.1 303.8,158.7 304.8,159.2 305.8,159.4 306.8,158.4 307.8,158.2 308.8,158.0 309.8,157.5 310.8,157.9 311.8,158.1 312.8,157.4 313.8,157.5 314.8,157.3 315.8,157.8 316.8,158.4 317.8,158.2 318.8,158.0 319.8,158.2 320.8,158.5 321.8,158.7 322.8,157.4 323.8,156.3 324.8,155.4 325.8,153.7 326.8,153.5 327.8,152.0 328.8,151.1 329.8,150.8 330.8,149.5 331.8,148.7 332.8,148.2 333.8,147.9 334.8,146.8 335.8,146.6 336.8,145.1 337.8,143.9 338.8,141.6 339.8,140.0 340.8,139.1 341.8,137.7 342.8,138.1 343.8,138.9 344.8,139.7 345.8,138.9 346.8,139.1 347.8,138.9 348.8,138.6 349.8,138.0 350.8,137.7 351.8,136.6 352.8,135.5 353.8,134.5 354.8,133.7 355.8,132.6 356.8,132.0 357.8,131.3 358.8,130.2 359.8,129.3 360.8,128.5 361.8,127.1 362.8,123.7 363.8,120.7 364.8,118.6 365.8,117.4 366.8,116.5 367.8,116.3 368.8,116.6 369.8,117.2 370.8,117.5 371.8,117.4 372.8,117.2 373.8,117.5 374.8,117.4 375.8,117.4 376.8,116.8 377.8,116.6 378.8,115.5 379.8,116.1 380.8,117.8 381.8,119.0 382.8,119.0 383.8,119.2 384.8,119.9 385.8,120.5 386.8,119.7 387.8,119.6 388.8,119.0 389.8,118.2 390.8,116.5 391.8,115.0 392.8,113.8 393.8,112.3 394.8,110.7 395.8,110.4 396.8,110.5 397.8,110.1 398.8,110.1 399.8,110.7 400.8,110.6 401.8,108.9 402.8,106.7 403.8,103.4 404.8,101.5 405.8,100.6 406.8,100.2 407.8,99.6 408.8,99.6 409.8,100.1 410.8,100.8 411.8,100.8 412.8,101.0 413.8,100.3 414.8,100.7 415.8,100.5 416.8,100.9 417.8,101.1 418.8,101.8 419.8,102.3 420.8,103.3 421.8,105.1 422.8,106.0 423.8,107.3 424.8,107.8 425.8,108.7 426.8,110.0 427.8,110.9 427.8,115.0 426.8,114.1 425.8,112.8 424.8,111.9 423.8,111.4 422.8,110.1 421.8,109.2 420.8,107.5 419.8,106.4 418.8,105.9 417.8,105.3 416.8,105.1 415.8,104.7 414.8,104.8 413.8,104.5 412.8,105.2 411.8,105.0 410.8,105.0 409.8,104.3 408.8,103.7 407.8,103.7 406.8,104.2 405.8,104.6 404.8,105.5 403.8,107.4 402.8,110.6 401.8,112.7 400.8,114.5 399.8,114.5 398.8,113.9 397.8,113.8 396.8,114.2 395.8,114.0 394.8,114.3 393.8,115.9 392.8,117.4 391.8,118.5 390.8,120.0 389.8,121.8 388.8,122.6 387.8,123.1 386.8,123.2 385.8,124.0 384.8,123.4 383.8,122.7 382.8,122.4 381.8,122.4 380.8,121.3 379.8,119.6 378.8,119.0 377.8,120.1 376.8,120.2 375.8,120.8 374.8,120.8 373.8,120.9 372.8,120.6 371.8,120.7 370.8,120.8 369.8,120.4 368.8,119.8 367.8,119.5 366.8,119.7 365.8,120.6 364.8,121.7 363.8,123.7 362.8,126.7 361.8,130.1 360.8,131.5 359.8,132.2 358.8,133.1 357.8,134.2 356.8,134.9 355.8,135.4 354.8,136.5 353.8,137.3 352.8,138.3 351.8,139.4 350.8,140.4 349.8,140.7 348.8,141.2 347.8,141.5 346.8,141.7 345.8,141.5 344.8,142.2 343.8,141.5 342.8,140.6 341.8,140.2 340.8,141.6 339.8,142.5 338.8,144.1 337.8,146.4 336.8,147.6 335.8,149.1 334.8,149.3 333.8,150.5 332.8,150.7 331.8,151.2 330.8,152.1 329.8,153.4 328.8,153.8 327.8,154.7 326.8,156.2 325.8,156.5 324.8,158.2 323.8,159.1 322.8,160.3 321.8,161.6 320.8,161.4 319.8,161.1 318.8,161.0 317.8,161.3 316.8,161.5 315.8,160.9 314.8,160.4 313.8,160.6 312.8,160.6 311.8,161.3 310.8,161.1 309.8,160.8 308.8,161.4 307.8,161.6 306.8,161.9 305.8,162.9 304.8,162.9 303.8,162.3 302.8,161.8 301.8,162.0 300.8,161.5 299.8,160.9 298.8,160.3 297.8,158.2 296.8,156.2 295.8,156.0 294.8,154.9 293.8,154.4 292.8,154.3 291.8,154.3 290.8,154.4 289.8,154.9 288.8,155.0 287.8,154.9 286.8,155.7 285.8,155.8 284.8,156.1 283.8,156.2 282.8,155.8 281.8,156.6 280.8,157.3 279.8,158.3 278.8,160.2 277.8,161.8 276.8,163.1 275.8,164.7 274.8,163.8 273.8,163.2 272.8,162.9 271.8,163.4 270.8,164.6 269.8,165.0 268.8,165.6 267.8,166.4 266.8,165.2 265.8,165.1 264.8,163.8 263.8,163.8 262.8,165.6 261.8,167.2 260.8,168.7 259.8,169.2 258.8,170.8 257.8,172.4 256.8,174.2 255.8,175.8 254.8,176.6 253.8,177.8 252.8,178.0 251.8,178.1 250.8,179.9 249.8,180.6 248.8,182.0 247.8,182.5 246.8,183.6 245.8,185.0 244.8,187.2 243.8,189.2 242.8,190.4 241.8,191.2 240.8,192.0 239.8,194.2 238.8,195.8 237.8,196.0 236.8,197.0 235.8,198.3 234.8,198.5 233.8,199.6 232.8,200.9 231.8,201.3 230.8,202.2 229.8,202.5 228.8,203.2 227.8,202.7 226.8,202.8 225.8,202.5 224.8,202.5 223.8,202.9 222.8,203.0 221.8,203.7 220.8,204.1 219.8,204.6 218.8,204.3 217.8,204.9 216.8,204.7 215.8,205.2 214.8,205.1 213.8,204.7 212.8,204.5 211.8,204.4 210.8,204.8 209.8,204.3 208.8,204.6 207.8,204.7 206.8,204.8 205.8,204.8 204.8,205.4 203.8,205.6 202.8,205.5 201.8,205.1 200.8,205.3 199.8,205.8 198.8,205.8 197.8,205.8 196.8,205.7 195.8,206.4 194.8,206.1 193.8,206.9 192.8,207.3 191.8,207.3 190.8,208.0 189.8,208.8 188.8,209.7 187.8,210.0 186.8,211.3 185.8,211.9 184.8,212.5 183.8,212.9 182.8,213.1 181.8,213.3 180.8,213.4 179.8,213.2 178.8,212.9 177.8,213.3 176.8,212.7 175.8,213.2 174.8,212.3 173.8,211.8 172.8,211.9 171.8,211.7 170.8,212.1 169.8,212.6 168.8,213.5 167.8,214.0 166.8,214.3 165.8,215.6 164.8,215.9 163.8,217.2 162.8,217.4 161.8,218.0 160.8,219.4 159.8,219.6 158.8,219.9 157.8,220.4 156.8,219.7 155.8,220.3 154.8,220.1 153.8,219.9 152.8,220.2 151.8,220.1 150.8,220.3 149.8,220.8 148.8,220.6 147.8,220.8 146.8,220.6 145.8,221.4 144.8,220.8 143.8,221.2 142.8,221.7 141.8,222.8 140.8,223.1 139.8,223.8 138.8,224.3 137.8,224.9 136.8,225.2 135.8,226.1 134.8,226.6 133.8,228.1 132.8,229.4 131.8,229.9 130.8,230.9 129.8,232.7 128.8,235.1 127.8,237.0 126.8,239.9 125.8,242.1 124.8,245.0 123.8,246.9 122.8,248.8 121.8,250.6 120.8,251.9 119.8,253.3 118.8,254.6 117.8,255.9 116.8,257.2 115.8,258.5 114.8,259.5 113.8,260.6 112.8,261.6 111.8,262.7 110.8,263.9 109.8,265.1 108.8,266.4 107.8,267.7 106.8,269.0 105.8,270.4 104.8,272.1 103.8,273.9 102.8,275.5 101.8,277.7 100.8,280.0"/>
<polygon fill="#a9c6e4" points="100.8,280.0 101.8,277.6 102.8,275.5 103.8,273.8 104.8,272.1 105.8,270.4 106.8,268.9 107.8,267.6 108.8,266.3 109.8,265.0 110.8,263.8 111.8,262.5 112.8,261.4 113.8,260.4 114.8,259.3 115.8,258.2 116.8,256.9 117.8,255.6 118.8,254.3 119.8,252.9 120.8,251.5 121.8,250.1 122.8,248.2 123.8,246.3 124.8,244.3 125.8,241.4 126.8,239.0 127.8,236.1 128.8,234.1 129.8,231.6 130.8,229.6 131.8,228.5 132.8,227.8 133.8,226.4 134.8,224.7 135.8,224.1 136.8,223.0 137.8,222.7 138.8,221.9 139.8,221.3 140.8,220.6 141.8,220.2 142.8,219.1 143.8,218.7 144.8,218.2 145.8,218.8 146.8,218.0 147.8,218.2 148.8,218.0 149.8,218.1 150.8,217.7 151.8,217.4 152.8,217.5 153.8,217.2 154.8,217.3 155.8,217.5 156.8,216.9 157.8,217.6 158.8,217.1 159.8,216.7 160.8,216.6 161.8,215.1 162.8,214.5 163.8,214.3 164.8,212.9 165.8,212.6 166.8,211.3 167.8,211.0 168.8,210.5 169.8,209.5 170.8,209.0 171.8,208.6 172.8,208.7 173.8,208.6 174.8,209.2 175.8,210.0 176.8,209.5 177.8,210.1 178.8,209.7 179.8,210.0 180.8,210.2 181.8,210.0 182.8,209.9 183.8,209.6 184.8,209.2 185.8,208.7 186.8,208.0 187.8,206.7 188.8,206.4 189.8,205.5 190.8,204.7 191.8,204.0 192.8,204.0 193.8,203.5 194.8,202.8 195.8,203.1 196.8,202.4 197.8,202.4 198.8,202.5 199.8,202.5 200.8,201.9 201.8,201.7 202.8,202.1 203.8,202.2 204.8,202.0 205.8,201.3 206.8,201.3 207.8,201.2 208.8,201.1 209.8,200.8 210.8,201.3 211.8,200.9 212.8,200.9 213.8,201.1 214.8,201.4 215.8,201.5 216.8,201.0 217.8,201.2 218.8,200.6 219.8,200.8 220.8,200.3 221.8,199.8 222.8,199.1 223.8,199.0 224.8,198.6 225.8,198.5 226.8,198.8 227.8,198.7 228.8,199.2 229.8,198.5 230.8,198.2 231.8,197.1 232.8,196.8 233.8,195.4 234.8,194.3 235.8,194.1 236.8,192.8 237.8,191.7 238.8,191.5 239.8,189.9 240.8,187.7 241.8,186.8 242.8,186.0 243.8,184.7 244.8,182.7 245.8,180.5 246.8,179.1 247.8,177.9 248.8,177.4 249.8,176.0 250.8,175.2 251.8,173.4 252.8,173.2 253.8,173.0 254.8,171.8 255.8,170.9 256.8,169.3 257.8,167.5 258.8,165.9 259.8,164.2 260.8,163.6 261.8,162.1 262.8,160.5 263.8,158.6 264.8,158.6 265.8,159.8 266.8,159.9 267.8,161.0 268.8,160.2 269.8,159.6 270.8,159.1 271.8,157.8 272.8,157.3 273.8,157.6 274.8,158.1 275.8,158.9 276.8,157.3 277.8,155.9 278.8,154.3 279.8,152.3 280.8,151.3 281.8,150.5 282.8,149.6 283.8,150.0 284.8,149.8 285.8,149.4 286.8,149.2 287.8,148.4 288.8,148.4 289.8,148.3 290.8,147.9 291.8,147.8 292.8,147.9 293.8,148.2 294.8,148.8 295.8,150.0 296.8,150.3 297.8,152.4 298.8,154.6 299.8,155.3 300.8,156.0 301.8,156.5 302.8,156.4 303.8,157.1 304.8,157.6 305.8,157.8 306.8,156.9 307.8,156.7 308.8,156.5 309.8,156.0 310.8,156.4 311.8,156.6 312.8,155.9 313.8,156.0 314.8,155.8 315.8,156.4 316.8,157.0 317.8,156.8 318.8,156.6 319.8,156.7 320.8,157.1 321.8,157.3 322.8,156.0 323.8,154.9 324.8,154.0 325.8,152.3 326.8,152.1 327.8,150.7 328.8,149.7 329.8,149.4 330.8,148.2 331.8,147.3 332.8,146.8 333.8,146.6 334.8,145.5 335.8,145.3 336.8,143.8 337.8,142.5 338.8,140.2 339.8,138.7 340.8,137.7 341.8,136.3 342.8,136.7 343.8,137.5 344.8,138.3 345.8,137.5 346.8,137.6 347.8,137.4 348.8,137.1 349.8,136.5 350.8,136.1 351.8,135.0 352.8,133.9 353.8,132.9 354.8,132.0 355.8,130.9 356.8,130.3 357.8,129.5 358.8,128.4 359.8,127.5 360.8,126.7 361.8,125.2 362.8,121.8 363.8,118.7 364.8,116.7 365.8,115.4 366.8,114.5 367.8,114.3 368.8,114.5 369.8,115.1 370.8,115.4 371.8,115.3 372.8,115.1 373.8,115.3 374.8,115.2 375.8,115.2 376.8,114.5 377.8,114.3 378.8,113.2 379.8,113.7 380.8,115.4 381.8,116.5 382.8,116.5 383.8,116.7 384.8,117.3 385.8,117.9 386.8,117.1 387.8,117.0 388.8,116.4 389.8,115.5 390.8,113.8 391.8,112.2 392.8,111.0 393.8,109.5 394.8,107.8 395.8,107.4 396.8,107.6 397.8,107.0 398.8,107.0 399.8,107.5 400.8,107.4 401.8,105.6 402.8,103.3 403.8,100.0 404.8,98.0 405.8,97.0 406.8,96.5 407.8,95.9 408.8,95.8 409.8,96.2 410.8,96.9 411.8,96.9 412.8,97.1 413.8,96.4 414.8,96.8 415.8,96.7 416.8,97.0 417.8,97.2 418.8,97.9 419.8,98.5 420.8,99.5 421.8,101.2 422.8,102.1 423.8,103.5 424.8,104.0 425.8,104.9 426.8,106.2 427.8,107.1 427.8,110.9 426.8,110.0 425.8,108.7 424.8,107.8 423.8,107.3 422.8,106.0 421.8,105.1 420.8,103.3 419.8,102.3 418.8,101.8 417.8,101.1 416.8,100.9 415.8,100.5 414.8,100.7 413.8,100.3 412.8,101.0 411.8,100.8 410.8,100.8 409.8,100.1 408.8,99.6 407.8,99.6 406.8,100.2 405.8,100.6 404.8,101.5 403.8,103.4 402.8,106.7 401.8,108.9 400.8,110.6 399.8,110.7 398.8,110.1 397.8,110.1 396.8,110.5 395.8,110.4 394.8,110.7 393.8,112.3 392.8,113.8 391.8,115.0 390.8,116.5 389.8,118.2 388.8,119.0 387.8,119.6 386.8,119.7 385.8,120.5 384.8,119.9 383.8,119.2 382.8,119.0 381.8,119.0 380.8,117.8 379.8,116.1 378.8,115.5 377.8,116.6 376.8,116.8 375.8,117.4 374.8,117.4 373.8,117.5 372.8,117.2 371.8,117.4 370.8,117.5 369.8,117.2 368.8,116.6 367.8,116.3 366.8,116.5 365.8,117.4 364.8,118.6 363.8,120.7 362.8,123.7 361.8,127.1 360.8,128.5 359.8,129.3 358.8,130.2 357.8,131.3 356.8,132.0 355.8,132.6 354.8,133.7 353.8,134.5 352.8,135.5 351.8,136.6 350.8,137.7 349.8,138.0 348.8,138.6 347.8,138.9 346.8,139.1 345.8,138.9 344.8,139.7 343.8,138.9 342.8,138.1 341.8,137.7 340.8,139.1 339.8,140.0 338.8,141.6 337.8,143.9 336.8,145.1 335.8,146.6 334.8,146.8 333.8,147.9 332.8,148.2 331.8,148.7 330.8,149.5 329.8,150.8 328.8,151.1 327.8,152.0 326.8,153.5 325.8,153.7 324.8,155.4 323.8,156.3 322.8,157.4 321.8,158.7 320.8,158.5 319.8,158.2 318.8,158.0 317.8,158.2 316.8,158.4 315.8,157.8 314.8,157.3 313.8,157.5 312.8,157.4 311.8,158.1 310.8,157.9 309.8,157.5 308.8,158.0 307.8,158.2 306.8,158.4 305.8,159.4 304.8,159.2 303.8,158.7 302.8,158.1 301.8,158.2 300.8,157.6 299.8,157.0 298.8,156.3 297.8,154.1 296.8,152.1 295.8,151.7 294.8,150.6 293.8,150.0 292.8,149.8 291.8,149.7 290.8,149.7 289.8,150.2 288.8,150.3 287.8,150.2 286.8,151.1 285.8,151.2 284.8,151.6 283.8,151.7 282.8,151.3 281.8,152.2 280.8,153.0 279.8,154.0 278.8,155.9 277.8,157.5 276.8,158.9 275.8,160.5 274.8,159.6 273.8,159.1 272.8,158.8 271.8,159.3 270.8,160.6 269.8,161.0 268.8,161.6 267.8,162.4 266.8,161.3 265.8,161.2 264.8,160.0 263.8,159.9 262.8,161.8 261.8,163.3 260.8,164.8 259.8,165.3 258.8,167.0 257.8,168.5 256.8,170.3 255.8,171.9 254.8,172.7 253.8,173.9 252.8,174.1 251.8,174.2 250.8,175.9 249.8,176.7 248.8,178.1 247.8,178.6 246.8,179.7 245.8,181.1 244.8,183.2 243.8,185.2 242.8,186.4 241.8,187.2 240.8,188.0 239.8,190.2 238.8,191.8 237.8,192.0 236.8,193.0 235.8,194.3 234.8,194.5 233.8,195.6 232.8,196.9 231.8,197.2 230.8,198.2 229.8,198.5 228.8,199.2 227.8,198.7 226.8,198.8 225.8,198.5 224.8,198.6 223.8,199.0 222.8,199.1 221.8,199.8 220.8,200.3 219.8,200.8 218.8,200.6 217.8,201.2 216.8,201.0 215.8,201.5 214.8,201.4 213.8,201.1 212.8,200.9 211.8,200.9 210.8,201.3 209.8,200.8 208.8,201.1 207.8,201.2 206.8,201.3 205.8,201.3 204.8,202.0 203.8,202.2 202.8,202.1 201.8,201.7 200.8,201.9 199.8,202.5 198.8,202.5 197.8,202.4 196.8,202.4 195.8,203.1 194.8,202.8 193.8,203.5 192.8,204.0 191.8,204.0 190.8,204.7 189.8,205.5 188.8,206.4 187.8,206.7 186.8,208.0 185.8,208.7 184.8,209.2 183.8,209.6 182.8,209.9 181.8,210.0 180.8,210.2 179.8,210.0 178.8,209.7 177.8,210.1 176.8,209.5 175.8,210.0 174.8,209.2 173.8,208.6 172.8,208.7 171.8,208.6 170.8,209.0 169.8,209.5 168.8,210.5 167.8,211.0 166.8,211.3 165.8,212.6 164.8,212.9 163.8,214.3 162.8,214.5 161.8,215.1 160.8,216.6 159.8,216.7 158.8,217.1 157.8,217.6 156.8,216.9 155.8,217.5 154.8,217.3 153.8,217.2 152.8,217.5 151.8,217.4 150.8,217.7 149.8,218.1 148.8,218.0 147.8,218.2 146.8,218.0 145.8,218.8 144.8,218.2 143.8,218.7 142.8,219.1 141.8,220.2 140.8,220.6 139.8,221.3 138.8,221.9 137.8,222.7 136.8,223.0 135.8,224.1 134.8,224.7 133.8,226.4 132.8,227.8 131.8,228.5 130.8,229.6 129.8,231.6 128.8,234.1 127.8,236.1 126.8,239.0 125.8,241.4 124.8,244.3 123.8,246.3 122.8,248.2 121.8,250.1 120.8,251.5 119.8,252.9 118.8,254.3 117.8,255.6 116.8,256.9 115.8,258.2 114.8,259.3 113.8,260.4 112.8,261.4 111.8,262.5 110.8,263.8 109.8,265.0 108.8,266.3 107.8,267.6 106.8,268.9 105.8,270.4 104.8,272.1 103.8,273.8 102.8,275.5 101.8,277.6 100.8,280.0"/>
<polyline fill="none" stroke="#0c5a0c" stroke-opacity="0.45" stroke-width="2.8" stroke-linejoin="round" points="100.8,279.3 101.8,278.4 102.8,278.3 103.8,277.6 104.8,277.2 105.8,277.6 106.8,277.1 107.8,277.5 108.8,276.9 109.8,277.2 110.8,276.9 111.8,276.9 112.8,276.4 113.8,275.1 114.8,274.1 115.8,273.1 116.8,271.8 117.8,271.2 118.8,270.2 119.8,268.8 120.8,267.7 121.8,266.3 122.8,265.3 123.8,263.6 124.8,262.4 125.8,260.7 126.8,259.5 127.8,257.9 128.8,257.0 129.8,255.3 130.8,254.5 131.8,254.9 132.8,254.9 133.8,255.6 134.8,255.3 135.8,255.4 136.8,255.2 137.8,254.1 138.8,254.1 139.8,253.6 140.8,254.0 141.8,253.8 142.8,254.1 143.8,253.9 144.8,253.9 145.8,254.0 146.8,254.0 147.8,254.4 148.8,253.9 149.8,254.8 150.8,254.5 151.8,255.2 152.8,255.8 153.8,255.5 154.8,255.2 155.8,254.7 156.8,254.0 157.8,254.4 158.8,253.9 159.8,253.3 160.8,253.3 161.8,252.3 162.8,251.0 163.8,250.8 164.8,250.3 165.8,249.6 166.8,249.5 167.8,249.3 168.8,248.5 169.8,247.4 170.8,248.0 171.8,247.8 172.8,248.2 173.8,248.4 174.8,248.8 175.8,248.7 176.8,248.9 177.8,248.7 178.8,249.2 179.8,249.3 180.8,248.6 181.8,248.5 182.8,248.4 183.8,248.5 184.8,248.3 185.8,247.7 186.8,246.5 187.8,245.9 188.8,245.6 189.8,244.9 190.8,244.5 191.8,243.7 192.8,242.8 193.8,243.6 194.8,242.7 195.8,242.7 196.8,243.1 197.8,243.2 198.8,242.2 199.8,243.4 200.8,242.4 201.8,242.8 202.8,243.3 203.8,243.2 204.8,243.2 205.8,243.1 206.8,243.0 207.8,243.0 208.8,242.0 209.8,241.7 210.8,242.0 211.8,242.1 212.8,242.9 213.8,243.6 214.8,244.0 215.8,244.7 216.8,244.0 217.8,243.7 218.8,243.3 219.8,242.6 220.8,242.5 221.8,242.6 222.8,241.6 223.8,241.6 224.8,241.2 225.8,239.9 226.8,240.8 227.8,241.1 228.8,241.2 229.8,240.9 230.8,240.2 231.8,240.2 232.8,239.5 233.8,238.2 234.8,237.9 235.8,237.0 236.8,236.2 237.8,234.2 238.8,233.7 239.8,232.5 240.8,230.8 241.8,229.4 242.8,229.2 243.8,230.0 244.8,228.6 245.8,224.9 246.8,223.0 247.8,221.5 248.8,220.2 249.8,219.2 250.8,219.3 251.8,220.3 252.8,219.5 253.8,217.3 254.8,215.4 255.8,214.6 256.8,214.3 257.8,213.4 258.8,211.6 259.8,209.1 260.8,207.2 261.8,206.7 262.8,205.3 263.8,203.3 264.8,204.0 265.8,204.3 266.8,205.0 267.8,205.1 268.8,203.1 269.8,202.9 270.8,204.1 271.8,205.2 272.8,205.3 273.8,202.5 274.8,201.5 275.8,201.6 276.8,202.4 277.8,201.8 278.8,199.5 279.8,198.3 280.8,197.6 281.8,196.9 282.8,196.6 283.8,195.7 284.8,195.4 285.8,195.7 286.8,195.4 287.8,194.8 288.8,195.6 289.8,195.4 290.8,194.3 291.8,194.4 292.8,194.8 293.8,195.1 294.8,195.1 295.8,196.2 296.8,198.0 297.8,198.9 298.8,200.9 299.8,202.0 300.8,203.3 301.8,203.4 302.8,204.7 303.8,205.2 304.8,205.3 305.8,205.7 306.8,205.8 307.8,205.5 308.8,205.4 309.8,204.9 310.8,205.1 311.8,205.2 312.8,204.3 313.8,204.2 314.8,203.8 315.8,204.2 316.8,204.1 317.8,204.4 318.8,204.5 319.8,203.4 320.8,204.0 321.8,203.5 322.8,203.1 323.8,201.6 324.8,201.5 325.8,199.8 326.8,198.8 327.8,196.8 328.8,196.4 329.8,196.0 330.8,195.0 331.8,193.9 332.8,194.0 333.8,192.8 334.8,192.4 335.8,191.2 336.8,189.8 337.8,189.2 338.8,188.0 339.8,186.3 340.8,186.7 341.8,186.0 342.8,186.4 343.8,186.1 344.8,185.4 345.8,185.1 346.8,184.7 347.8,184.3 348.8,183.0 349.8,182.1 350.8,181.4 351.8,179.9 352.8,179.2 353.8,178.7 354.8,177.7 355.8,177.3 356.8,176.5 357.8,175.9 358.8,174.3 359.8,173.3 360.8,172.4 361.8,170.3 362.8,168.5 363.8,167.9 364.8,166.2 365.8,165.0 366.8,165.4 367.8,164.8 368.8,164.7 369.8,164.2 370.8,164.1 371.8,164.3 372.8,165.0 373.8,165.6 374.8,164.8 375.8,164.1 376.8,163.8 377.8,164.0 378.8,163.4 379.8,164.5 380.8,164.3 381.8,165.6 382.8,166.0 383.8,166.1 384.8,166.4 385.8,165.7 386.8,165.9 387.8,165.1 388.8,163.4 389.8,163.2 390.8,162.1 391.8,161.7 392.8,160.8 393.8,160.3 394.8,160.3 395.8,158.5 396.8,159.4 397.8,159.1 398.8,159.9 399.8,158.8 400.8,157.7 401.8,156.1 402.8,153.2 403.8,152.2 404.8,149.1 405.8,148.6 406.8,148.3 407.8,147.8 408.8,147.9 409.8,148.3 410.8,148.7 411.8,149.7 412.8,150.9 413.8,151.2 414.8,151.0 415.8,150.5 416.8,150.3 417.8,150.9 418.8,152.1 419.8,153.8 420.8,153.8 421.8,154.5 422.8,154.9 423.8,156.1 424.8,155.8 425.8,157.5 426.8,157.8 427.8,158.8"/>
<polyline fill="none" stroke="#38f238" stroke-width="1.5" stroke-linejoin="round" points="100.8,279.3 101.8,278.4 102.8,278.3 103.8,277.6 104.8,277.2 105.8,277.6 106.8,277.1 107.8,277.5 108.8,276.9 109.8,277.2 110.8,276.9 111.8,276.9 112.8,276.4 113.8,275.1 114.8,274.1 115.8,273.1 116.8,271.8 117.8,271.2 118.8,270.2 119.8,268.8 120.8,267.7 121.8,266.3 122.8,265.3 123.8,263.6 124.8,262.4 125.8,260.7 126.8,259.5 127.8,257.9 128.8,257.0 129.8,255.3 130.8,254.5 131.8,254.9 132.8,254.9 133.8,255.6 134.8,255.3 135.8,255.4 136.8,255.2 137.8,254.1 138.8,254.1 139.8,253.6 140.8,254.0 141.8,253.8 142.8,254.1 143.8,253.9 144.8,253.9 145.8,254.0 146.8,254.0 147.8,254.4 148.8,253.9 149.8,254.8 150.8,254.5 151.8,255.2 152.8,255.8 153.8,255.5 154.8,255.2 155.8,254.7 156.8,254.0 157.8,254.4 158.8,253.9 159.8,253.3 160.8,253.3 161.8,252.3 162.8,251.0 163.8,250.8 164.8,250.3 165.8,249.6 166.8,249.5 167.8,249.3 168.8,248.5 169.8,247.4 170.8,248.0 171.8,247.8 172.8,248.2 173.8,248.4 174.8,248.8 175.8,248.7 176.8,248.9 177.8,248.7 178.8,249.2 179.8,249.3 180.8,248.6 181.8,248.5 182.8,248.4 183.8,248.5 184.8,248.3 185.8,247.7 186.8,246.5 187.8,245.9 188.8,245.6 189.8,244.9 190.8,244.5 191.8,243.7 192.8,242.8 193.8,243.6 194.8,242.7 195.8,242.7 196.8,243.1 197.8,243.2 198.8,242.2 199.8,243.4 200.8,242.4 201.8,242.8 202.8,243.3 203.8,243.2 204.8,243.2 205.8,243.1 206.8,243.0 207.8,243.0 208.8,242.0 209.8,241.7 210.8,242.0 211.8,242.1 212.8,242.9 213.8,243.6 214.8,244.0 215.8,244.7 216.8,244.0 217.8,243.7 218.8,243.3 219.8,242.6 220.8,242.5 221.8,242.6 222.8,241.6 223.8,241.6 224.8,241.2 225.8,239.9 226.8,240.8 227.8,241.1 228.8,241.2 229.8,240.9 230.8,240.2 231.8,240.2 232.8,239.5 233.8,238.2 234.8,237.9 235.8,237.0 236.8,236.2 237.8,234.2 238.8,233.7 239.8,232.5 240.8,230.8 241.8,229.4 242.8,229.2 243.8,230.0 244.8,228.6 245.8,224.9 246.8,223.0 247.8,221.5 248.8,220.2 249.8,219.2 250.8,219.3 251.8,220.3 252.8,219.5 253.8,217.3 254.8,215.4 255.8,214.6 256.8,214.3 257.8,213.4 258.8,211.6 259.8,209.1 260.8,207.2 261.8,206.7 262.8,205.3 263.8,203.3 264.8,204.0 265.8,204.3 266.8,205.0 267.8,205.1 268.8,203.1 269.8,202.9 270.8,204.1 271.8,205.2 272.8,205.3 273.8,202.5 274.8,201.5 275.8,201.6 276.8,202.4 277.8,201.8 278.8,199.5 279.8,198.3 280.8,197.6 281.8,196.9 282.8,196.6 283.8,195.7 284.8,195.4 285.8,195.7 286.8,195.4 287.8,194.8 288.8,195.6 289.8,195.4 290.8,194.3 291.8,194.4 292.8,194.8 293.8,195.1 294.8,195.1 295.8,196.2 296.8,198.0 297.8,198.9 298.8,200.9 299.8,202.0 300.8,203.3 301.8,203.4 302.8,204.7 303.8,205.2 304.8,205.3 305.8,205.7 306.8,205.8 307.8,205.5 308.8,205.4 309.8,204.9 310.8,205.1 311.8,205.2 312.8,204.3 313.8,204.2 314.8,203.8 315.8,204.2 316.8,204.1 317.8,204.4 318.8,204.5 319.8,203.4 320.8,204.0 321.8,203.5 322.8,203.1 323.8,201.6 324.8,201.5 325.8,199.8 326.8,198.8 327.8,196.8 328.8,196.4 329.8,196.0 330.8,195.0 331.8,193.9 332.8,194.0 333.8,192.8 334.8,192.4 335.8,191.2 336.8,189.8 337.8,189.2 338.8,188.0 339.8,186.3 340.8,186.7 341.8,186.0 342.8,186.4 343.8,186.1 344.8,185.4 345.8,185.1 346.8,184.7 347.8,184.3 348.8,183.0 349.8,182.1 350.8,181.4 351.8,179.9 352.8,179.2 353.8,178.7 354.8,177.7 355.8,177.3 356.8,176.5 357.8,175.9 358.8,174.3 359.8,173.3 360.8,172.4 361.8,170.3 362.8,168.5 363.8,167.9 364.8,166.2 365.8,165.0 366.8,165.4 367.8,164.8 368.8,164.7 369.8,164.2 370.8,164.1 371.8,164.3 372.8,165.0 373.8,165.6 374.8,164.8 375.8,164.1 376.8,163.8 377.8,164.0 378.8,163.4 379.8,164.5 380.8,164.3 381.8,165.6 382.8,166.0 383.8,166.1 384.8,166.4 385.8,165.7 386.8,165.9 387.8,165.1 388.8,163.4 389.8,163.2 390.8,162.1 391.8,161.7 392.8,160.8 393.8,160.3 394.8,160.3 395.8,158.5 396.8,159.4 397.8,159.1 398.8,159.9 399.8,158.8 400.8,157.7 401.8,156.1 402.8,153.2 403.8,152.2 404.8,149.1 405.8,148.6 406.8,148.3 407.8,147.8 408.8,147.9 409.8,148.3 410.8,148.7 411.8,149.7 412.8,150.9 413.8,151.2 414.8,151.0 415.8,150.5 416.8,150.3 417.8,150.9 418.8,152.1 419.8,153.8 420.8,153.8 421.8,154.5 422.8,154.9 423.8,156.1 424.8,155.8 425.8,157.5 426.8,157.8 427.8,158.8"/>
<circle cx="424.6" cy="159.4" r="15.5" fill="none" stroke="#f3ea6a" stroke-width="2.2"/></g>
<g><polygon fill="#999999" points="545.0,322.0 546.0,322.0 547.0,322.0 548.0,322.0 549.0,322.0 550.0,322.0 551.0,322.0 552.0,322.0 553.0,322.0 554.0,322.0 555.0,322.0 556.0,322.0 557.0,322.0 558.0,322.0 559.0,322.0 560.0,322.0 561.0,322.0 562.0,322.0 563.0,322.0 564.0,322.0 565.0,322.0 566.0,322.0 567.0,322.0 568.0,322.0 569.0,322.0 570.0,322.0 571.0,322.0 572.0,322.0 573.0,322.0 574.0,322.0 575.0,322.0 576.0,322.0 577.0,322.0 578.0,322.0 579.0,322.0 580.0,322.0 581.0,322.0 582.0,322.0 583.0,322.0 584.0,322.0 585.0,322.0 586.0,322.0 587.0,322.0 588.0,322.0 589.0,322.0 590.0,322.0 591.0,322.0 592.0,322.0 593.0,322.0 594.0,322.0 595.0,322.0 596.0,322.0 597.0,322.0 598.0,322.0 599.0,322.0 600.0,322.0 601.0,322.0 602.0,322.0 603.0,322.0 604.0,322.0 605.0,322.0 606.0,322.0 607.0,322.0 608.0,322.0 609.0,322.0 610.0,322.0 611.0,322.0 612.0,322.0 613.0,322.0 614.0,322.0 615.0,322.0 616.0,322.0 617.0,322.0 618.0,322.0 619.0,322.0 620.0,322.0 621.0,322.0 622.0,322.0 623.0,322.0 624.0,322.0 625.0,322.0 626.0,322.0 627.0,322.0 628.0,322.0 629.0,322.0 630.0,322.0 631.0,322.0 632.0,322.0 633.0,322.0 634.0,322.0 635.0,322.0 636.0,322.0 637.0,322.0 638.0,322.0 639.0,322.0 640.0,322.0 641.0,322.0 642.0,322.0 643.0,322.0 644.0,322.0 645.0,322.0 646.0,322.0 647.0,322.0 648.0,322.0 649.0,322.0 650.0,322.0 651.0,322.0 652.0,322.0 653.0,322.0 654.0,322.0 655.0,322.0 656.0,322.0 657.0,322.0 658.0,322.0 659.0,322.0 660.0,322.0 661.0,322.0 662.0,322.0 663.0,322.0 664.0,322.0 665.0,322.0 666.0,322.0 667.0,322.0 668.0,322.0 669.0,322.0 670.0,322.0 671.0,322.0 672.0,322.0 673.0,322.0 674.0,322.0 675.0,322.0 676.0,322.0 677.0,322.0 678.0,322.0 679.0,322.0 680.0,322.0 681.0,322.0 682.0,322.0 683.0,322.0 684.0,322.0 685.0,322.0 686.0,322.0 687.0,322.0 688.0,322.0 689.0,322.0 690.0,322.0 691.0,322.0 692.0,322.0 693.0,322.0 694.0,322.0 695.0,322.0 696.0,322.0 697.0,322.0 698.0,322.0 699.0,322.0 700.0,322.0 701.0,322.0 702.0,322.0 703.0,322.0 704.0,322.0 705.0,322.0 706.0,322.0 707.0,322.0 708.0,322.0 709.0,322.0 710.0,322.0 711.0,322.0 712.0,322.0 713.0,322.0 714.0,322.0 715.0,322.0 716.0,322.0 717.0,322.0 718.0,322.0 719.0,322.0 720.0,322.0 721.0,322.0 722.0,322.0 723.0,322.0 724.0,322.0 725.0,322.0 726.0,322.0 727.0,322.0 728.0,322.0 729.0,322.0 730.0,322.0 731.0,322.0 732.0,322.0 733.0,322.0 734.0,322.0 735.0,322.0 736.0,322.0 737.0,322.0 738.0,322.0 739.0,322.0 740.0,322.0 741.0,322.0 742.0,322.0 743.0,322.0 744.0,322.0 745.0,322.0 746.0,322.0 747.0,322.0 748.0,322.0 749.0,322.0 750.0,322.0 751.0,322.0 752.0,322.0 753.0,322.0 754.0,322.0 755.0,322.0 756.0,322.0 757.0,322.0 758.0,322.0 759.0,322.0 760.0,322.0 761.0,322.0 762.0,322.0 763.0,322.0 764.0,322.0 765.0,322.0 766.0,322.0 767.0,322.0 768.0,322.0 769.0,322.0 770.0,322.0 771.0,322.0 772.0,322.0 773.0,322.0 774.0,322.0 775.0,322.0 776.0,322.0 777.0,322.0 778.0,322.0 779.0,322.0 780.0,322.0 781.0,322.0 782.0,322.0 783.0,322.0 784.0,322.0 785.0,322.0 786.0,322.0 787.0,322.0 788.0,322.0 789.0,322.0 790.0,322.0 791.0,322.0 792.0,322.0 793.0,322.0 794.0,322.0 795.0,322.0 796.0,322.0 797.0,322.0 798.0,322.0 799.0,322.0 800.0,322.0 801.0,322.0 802.0,322.0 803.0,322.0 804.0,322.0 805.0,322.0 806.0,322.0 807.0,322.0 808.0,322.0 809.0,322.0 810.0,322.0 811.0,322.0 812.0,322.0 813.0,322.0 814.0,322.0 815.0,322.0 816.0,322.0 817.0,322.0 818.0,322.0 819.0,322.0 820.0,322.0 821.0,322.0 822.0,322.0 823.0,322.0 824.0,322.0 825.0,322.0 826.0,322.0 827.0,322.0 828.0,322.0 829.0,322.0 830.0,322.0 831.0,322.0 832.0,322.0 833.0,322.0 834.0,322.0 835.0,322.0 836.0,322.0 837.0,322.0 838.0,322.0 839.0,322.0 840.0,322.0 841.0,322.0 842.0,322.0 843.0,322.0 844.0,322.0 845.0,322.0 846.0,322.0 847.0,322.0 848.0,322.0 849.0,322.0 850.0,322.0 851.0,322.0 852.0,322.0 853.0,322.0 854.0,322.0 855.0,322.0 856.0,322.0 857.0,322.0 858.0,322.0 859.0,322.0 860.0,322.0 861.0,322.0 862.0,322.0 863.0,322.0 864.0,322.0 865.0,322.0 866.0,322.0 867.0,322.0 868.0,322.0 869.0,322.0 870.0,322.0 871.5,322.0 871.5,384.0 870.0,384.0 869.0,384.2 868.0,384.5 867.0,384.2 866.0,383.5 865.0,383.4 864.0,383.5 863.0,383.3 862.0,382.7 861.0,383.0 860.0,383.0 859.0,382.7 858.0,382.9 857.0,383.1 856.0,382.4 855.0,382.4 854.0,382.5 853.0,382.3 852.0,382.5 851.0,382.1 850.0,382.3 849.0,382.0 848.0,381.6 847.0,381.6 846.0,381.2 845.0,381.8 844.0,381.3 843.0,381.2 842.0,380.9 841.0,381.3 840.0,380.9 839.0,381.0 838.0,381.3 837.0,381.2 836.0,381.0 835.0,381.3 834.0,381.2 833.0,381.1 832.0,381.3 831.0,381.2 830.0,381.1 829.0,381.3 828.0,380.6 827.0,380.7 826.0,380.5 825.0,381.1 824.0,381.0 823.0,380.7 822.0,380.9 821.0,380.5 820.0,380.9 819.0,380.1 818.0,380.1 817.0,380.6 816.0,380.0 815.0,380.1 814.0,379.6 813.0,379.6 812.0,379.8 811.0,379.9 810.0,379.3 809.0,379.4 808.0,379.5 807.0,379.0 806.0,378.6 805.0,378.9 804.0,378.7 803.0,378.0 802.0,378.4 801.0,377.6 800.0,378.0 799.0,377.5 798.0,377.6 797.0,377.2 796.0,377.3 795.0,377.5 794.0,377.6 793.0,377.1 792.0,376.9 791.0,377.1 790.0,376.9 789.0,377.1 788.0,376.9 787.0,376.7 786.0,376.8 785.0,376.4 784.0,376.9 783.0,377.0 782.0,376.5 781.0,376.5 780.0,376.8 779.0,376.5 778.0,377.0 777.0,376.8 776.0,376.6 775.0,376.8 774.0,376.9 773.0,376.6 772.0,376.4 771.0,377.0 770.0,376.4 769.0,376.6 768.0,376.9 767.0,376.9 766.0,376.8 765.0,376.7 764.0,377.3 763.0,377.3 762.0,376.8 761.0,376.8 760.0,376.8 759.0,377.0 758.0,377.1 757.0,377.5 756.0,377.0 755.0,377.0 754.0,377.0 753.0,377.1 752.0,377.2 751.0,377.0 750.0,376.9 749.0,377.5 748.0,377.4 747.0,377.2 746.0,377.7 745.0,377.1 744.0,377.5 743.0,377.8 742.0,377.3 741.0,377.6 740.0,377.0 739.0,377.2 738.0,376.9 737.0,377.4 736.0,377.0 735.0,377.0 734.0,377.0 733.0,376.9 732.0,376.7 731.0,377.1 730.0,376.7 729.0,376.6 728.0,376.5 727.0,376.9 726.0,376.4 725.0,376.3 724.0,376.2 723.0,376.7 722.0,376.4 721.0,376.0 720.0,376.0 719.0,376.2 718.0,375.9 717.0,376.0 716.0,375.7 715.0,376.0 714.0,375.9 713.0,375.5 712.0,375.5 711.0,375.8 710.0,375.7 709.0,375.3 708.0,375.1 707.0,375.5 706.0,375.2 705.0,375.0 704.0,374.9 703.0,375.0 702.0,375.2 701.0,374.8 700.0,375.1 699.0,374.9 698.0,374.8 697.0,374.6 696.0,374.4 695.0,374.6 694.0,374.3 693.0,374.2 692.0,374.4 691.0,374.1 690.0,373.9 689.0,373.8 688.0,373.7 687.0,373.5 686.0,373.5 685.0,373.6 684.0,373.5 683.0,373.3 682.0,373.1 681.0,373.0 680.0,373.0 679.0,372.8 678.0,372.6 677.0,372.5 676.0,372.4 675.0,372.0 674.0,372.1 673.0,371.9 672.0,371.7 671.0,371.6 670.0,371.4 669.0,371.2 668.0,371.1 667.0,371.0 666.0,370.7 665.0,370.6 664.0,370.6 663.0,370.4 662.0,370.3 661.0,370.2 660.0,370.0 659.0,369.8 658.0,369.7 657.0,369.5 656.0,369.4 655.0,369.3 654.0,369.1 653.0,368.9 652.0,368.8 651.0,368.7 650.0,368.5 649.0,368.4 648.0,368.3 647.0,368.2 646.0,368.1 645.0,368.0 644.0,367.9 643.0,367.8 642.0,367.7 641.0,367.6 640.0,367.5 639.0,367.3 638.0,367.1 637.0,366.9 636.0,366.7 635.0,366.6 634.0,366.4 633.0,366.2 632.0,366.0 631.0,365.8 630.0,365.6 629.0,365.4 628.0,365.2 627.0,365.0 626.0,364.8 625.0,364.5 624.0,364.3 623.0,364.1 622.0,363.9 621.0,363.7 620.0,363.6 619.0,363.4 618.0,363.3 617.0,363.1 616.0,363.0 615.0,362.9 614.0,362.7 613.0,362.6 612.0,362.4 611.0,362.3 610.0,362.2 609.0,362.1 608.0,362.0 607.0,361.9 606.0,361.8 605.0,361.7 604.0,361.6 603.0,361.5 602.0,361.4 601.0,361.3 600.0,361.2 599.0,361.1 598.0,361.0 597.0,360.9 596.0,360.8 595.0,360.7 594.0,360.6 593.0,360.5 592.0,360.4 591.0,360.2 590.0,360.1 589.0,359.9 588.0,359.7 587.0,359.6 586.0,359.4 585.0,359.2 584.0,359.1 583.0,358.9 582.0,358.7 581.0,358.4 580.0,358.2 579.0,358.0 578.0,357.8 577.0,357.5 576.0,357.3 575.0,357.1 574.0,356.8 573.0,356.6 572.0,356.3 571.0,356.1 570.0,355.8 569.0,355.5 568.0,355.2 567.0,355.0 566.0,354.7 565.0,354.4 564.0,354.1 563.0,353.8 562.0,353.4 561.0,353.1 560.0,352.8 559.0,352.5 558.0,352.2 557.0,351.9 556.0,351.5 555.0,351.2 554.0,350.9 553.0,350.3 552.0,349.6 551.0,349.0 550.0,348.4 549.0,347.4 548.0,346.5 547.0,345.5 546.0,342.6 545.0,339.8"/>
<polygon fill="#000000" points="545.0,306.5 546.0,304.9 547.0,303.4 548.0,301.8 549.0,301.2 550.0,300.6 551.0,300.0 552.0,299.4 553.0,299.3 554.0,298.6 555.0,297.9 556.0,296.5 557.0,297.3 558.0,297.1 559.0,296.0 560.0,296.4 561.0,295.5 562.0,295.4 563.0,295.5 564.0,295.2 565.0,295.8 566.0,295.7 567.0,295.0 568.0,294.8 569.0,294.4 570.0,294.2 571.0,295.0 572.0,294.8 573.0,294.2 574.0,294.7 575.0,294.6 576.0,295.1 577.0,295.0 578.0,294.8 579.0,294.7 580.0,295.0 581.0,295.0 582.0,294.1 583.0,293.9 584.0,294.5 585.0,293.5 586.0,293.1 587.0,292.0 588.0,291.5 589.0,290.5 590.0,290.7 591.0,291.3 592.0,291.5 593.0,291.4 594.0,291.1 595.0,291.1 596.0,290.7 597.0,290.3 598.0,290.5 599.0,290.7 600.0,289.8 601.0,289.6 602.0,290.3 603.0,289.6 604.0,290.0 605.0,289.9 606.0,290.0 607.0,289.2 608.0,289.0 609.0,289.5 610.0,289.3 611.0,288.9 612.0,288.8 613.0,288.3 614.0,288.3 615.0,285.6 616.0,284.2 617.0,282.4 618.0,279.9 619.0,278.4 620.0,278.1 621.0,278.3 622.0,277.8 623.0,277.7 624.0,278.6 625.0,277.9 626.0,277.8 627.0,277.6 628.0,276.9 629.0,275.3 630.0,273.5 631.0,272.8 632.0,270.6 633.0,268.3 634.0,265.5 635.0,262.2 636.0,259.2 637.0,254.5 638.0,251.1 639.0,248.9 640.0,247.2 641.0,246.1 642.0,245.4 643.0,244.6 644.0,243.5 645.0,242.7 646.0,242.2 647.0,242.5 648.0,241.4 649.0,241.7 650.0,241.5 651.0,241.9 652.0,241.8 653.0,241.5 654.0,241.4 655.0,241.1 656.0,240.2 657.0,240.6 658.0,241.9 659.0,242.7 660.0,243.8 661.0,242.6 662.0,242.2 663.0,240.7 664.0,239.7 665.0,239.6 666.0,239.6 667.0,238.9 668.0,238.2 669.0,237.7 670.0,237.4 671.0,236.7 672.0,236.4 673.0,235.8 674.0,234.7 675.0,233.5 676.0,231.6 677.0,232.0 678.0,231.6 679.0,232.2 680.0,231.4 681.0,232.0 682.0,231.0 683.0,231.1 684.0,231.7 685.0,231.1 686.0,231.6 687.0,231.3 688.0,231.0 689.0,231.7 690.0,231.6 691.0,232.3 692.0,232.6 693.0,233.3 694.0,234.9 695.0,235.2 696.0,235.5 697.0,235.0 698.0,234.9 699.0,235.7 700.0,236.2 701.0,236.3 702.0,235.9 703.0,236.4 704.0,237.2 705.0,236.7 706.0,237.9 707.0,238.1 708.0,237.3 709.0,237.2 710.0,238.3 711.0,238.1 712.0,237.8 713.0,237.9 714.0,238.5 715.0,237.9 716.0,237.5 717.0,238.2 718.0,237.9 719.0,238.3 720.0,238.7 721.0,238.0 722.0,237.9 723.0,237.7 724.0,238.6 725.0,237.7 726.0,238.7 727.0,238.4 728.0,238.7 729.0,237.8 730.0,236.3 731.0,235.5 732.0,236.3 733.0,235.3 734.0,235.7 735.0,234.8 736.0,234.8 737.0,235.1 738.0,234.5 739.0,235.0 740.0,235.1 741.0,234.3 742.0,234.2 743.0,233.6 744.0,233.9 745.0,233.2 746.0,233.6 747.0,232.7 748.0,231.6 749.0,230.6 750.0,229.6 751.0,229.2 752.0,227.9 753.0,227.5 754.0,226.0 755.0,225.0 756.0,223.9 757.0,223.5 758.0,221.7 759.0,221.2 760.0,220.2 761.0,219.4 762.0,218.5 763.0,218.6 764.0,218.0 765.0,218.2 766.0,216.6 767.0,215.8 768.0,215.3 769.0,214.5 770.0,213.3 771.0,212.9 772.0,212.5 773.0,211.6 774.0,210.5 775.0,210.2 776.0,209.5 777.0,208.9 778.0,207.7 779.0,207.4 780.0,207.5 781.0,203.5 782.0,199.5 783.0,195.3 784.0,186.4 785.0,178.5 786.0,171.3 787.0,165.7 788.0,159.7 789.0,156.0 790.0,152.2 791.0,148.8 792.0,148.0 793.0,146.3 794.0,145.2 795.0,146.4 796.0,147.5 797.0,149.9 798.0,151.4 799.0,145.4 800.0,140.9 801.0,130.0 802.0,119.6 803.0,112.7 804.0,106.0 805.0,106.6 806.0,105.8 807.0,107.7 808.0,109.8 809.0,105.5 810.0,99.8 811.0,96.6 812.0,93.2 813.0,92.8 814.0,91.5 815.0,93.1 816.0,93.7 817.0,94.4 818.0,96.1 819.0,97.8 820.0,100.8 821.0,103.3 822.0,98.8 823.0,95.3 824.0,94.2 825.0,92.7 826.0,91.2 827.0,90.2 828.0,89.7 829.0,89.1 830.0,89.7 831.0,90.2 832.0,90.8 833.0,91.2 834.0,92.7 835.0,89.8 836.0,86.2 837.0,82.6 838.0,79.7 839.0,77.2 840.0,75.6 841.0,74.3 842.0,73.5 843.0,75.6 844.0,76.5 845.0,76.5 846.0,75.5 847.0,76.7 848.0,78.7 849.0,79.1 850.0,79.0 851.0,78.3 852.0,78.0 853.0,76.4 854.0,75.7 855.0,78.0 856.0,79.5 857.0,79.6 858.0,80.7 859.0,82.8 860.0,83.6 861.0,84.7 862.0,85.2 863.0,86.1 864.0,87.6 865.0,88.6 866.0,89.0 867.0,91.4 868.0,93.7 869.0,95.3 870.0,97.0 871.5,99.0 871.5,262.2 870.0,262.5 869.0,262.6 868.0,262.8 867.0,263.0 866.0,262.6 865.0,262.2 864.0,261.8 863.0,261.4 862.0,260.9 861.0,260.5 860.0,260.1 859.0,259.6 858.0,258.7 857.0,257.8 856.0,256.9 855.0,256.0 854.0,256.7 853.0,257.4 852.0,258.0 851.0,258.7 850.0,258.1 849.0,257.5 848.0,256.9 847.0,257.2 846.0,257.5 845.0,257.8 844.0,257.4 843.0,256.9 842.0,256.4 841.0,256.0 840.0,256.4 839.0,256.9 838.0,257.4 837.0,257.8 836.0,258.5 835.0,259.1 834.0,259.8 833.0,260.5 832.0,259.6 831.0,258.7 830.0,257.8 829.0,256.9 828.0,256.0 827.0,256.9 826.0,257.8 825.0,258.7 824.0,259.6 823.0,260.7 822.0,261.9 821.0,263.0 820.0,261.3 819.0,259.5 818.0,257.8 817.0,258.7 816.0,259.6 815.0,258.7 814.0,257.8 813.0,256.9 812.0,257.8 811.0,258.7 810.0,259.3 809.0,259.9 808.0,260.5 807.0,258.4 806.0,256.3 805.0,254.2 804.0,256.0 803.0,257.8 802.0,259.6 801.0,262.0 800.0,264.3 799.0,266.7 798.0,267.6 797.0,268.5 796.0,269.4 795.0,268.9 794.0,268.5 793.0,268.1 792.0,267.6 791.0,268.2 790.0,268.8 789.0,269.4 788.0,270.6 787.0,271.9 786.0,273.1 785.0,274.4 784.0,275.6 783.0,276.7 782.0,277.8 781.0,278.9 780.0,280.0 779.0,280.6 778.0,281.3 777.0,281.9 776.0,282.6 775.0,283.2 774.0,283.4 773.0,283.5 772.0,283.7 771.0,283.8 770.0,284.0 769.0,284.2 768.0,284.3 767.0,284.5 766.0,284.6 765.0,284.8 764.0,284.9 763.0,285.0 762.0,285.1 761.0,285.2 760.0,285.3 759.0,285.4 758.0,285.5 757.0,285.6 756.0,285.7 755.0,285.8 754.0,286.2 753.0,286.5 752.0,286.9 751.0,287.2 750.0,287.6 749.0,288.0 748.0,288.4 747.0,288.7 746.0,289.1 745.0,289.5 744.0,289.6 743.0,289.8 742.0,289.9 741.0,290.0 740.0,290.1 739.0,290.3 738.0,290.4 737.0,290.5 736.0,290.7 735.0,290.8 734.0,290.9 733.0,291.1 732.0,291.2 731.0,291.4 730.0,291.6 729.0,291.7 728.0,291.9 727.0,292.0 726.0,291.9 725.0,291.9 724.0,291.8 723.0,291.7 722.0,291.6 721.0,291.6 720.0,291.5 719.0,291.4 718.0,291.3 717.0,291.2 716.0,291.1 715.0,291.0 714.0,290.9 713.0,290.8 712.0,290.7 711.0,290.6 710.0,290.5 709.0,290.4 708.0,290.2 707.0,290.1 706.0,290.0 705.0,289.9 704.0,289.7 703.0,289.6 702.0,289.5 701.0,289.3 700.0,289.2 699.0,289.0 698.0,288.8 697.0,288.6 696.0,288.4 695.0,288.2 694.0,288.0 693.0,287.8 692.0,287.6 691.0,287.4 690.0,287.2 689.0,287.2 688.0,287.2 687.0,287.3 686.0,287.3 685.0,287.3 684.0,287.3 683.0,287.3 682.0,287.4 681.0,287.4 680.0,287.4 679.0,287.4 678.0,287.4 677.0,287.5 676.0,287.5 675.0,287.5 674.0,287.5 673.0,287.5 672.0,287.6 671.0,287.6 670.0,287.6 669.0,287.6 668.0,287.6 667.0,287.7 666.0,287.7 665.0,287.7 664.0,287.7 663.0,287.7 662.0,287.8 661.0,287.8 660.0,287.8 659.0,287.8 658.0,287.8 657.0,287.8 656.0,287.8 655.0,287.8 654.0,287.8 653.0,287.8 652.0,287.8 651.0,287.8 650.0,287.8 649.0,287.9 648.0,288.1 647.0,288.2 646.0,288.4 645.0,288.5 644.0,288.8 643.0,289.1 642.0,289.4 641.0,289.7 640.0,290.0 639.0,290.9 638.0,291.9 637.0,292.8 636.0,293.7 635.0,294.6 634.0,295.5 633.0,296.4 632.0,297.2 631.0,298.1 630.0,299.0 629.0,299.2 628.0,299.4 627.0,299.5 626.0,299.7 625.0,299.9 624.0,300.1 623.0,300.3 622.0,300.4 621.0,300.6 620.0,300.8 619.0,301.4 618.0,302.0 617.0,302.6 616.0,303.3 615.0,303.9 614.0,304.5 613.0,304.8 612.0,305.1 611.0,305.3 610.0,305.6 609.0,305.6 608.0,305.7 607.0,305.7 606.0,305.8 605.0,305.8 604.0,305.8 603.0,305.9 602.0,305.9 601.0,306.0 600.0,306.0 599.0,306.1 598.0,306.1 597.0,306.2 596.0,306.2 595.0,306.3 594.0,306.3 593.0,306.4 592.0,306.4 591.0,306.5 590.0,306.5 589.0,306.6 588.0,306.6 587.0,306.7 586.0,306.7 585.0,306.8 584.0,306.9 583.0,306.9 582.0,307.0 581.0,307.0 580.0,307.1 579.0,307.2 578.0,307.2 577.0,307.3 576.0,307.3 575.0,307.4 574.0,307.5 573.0,307.5 572.0,307.6 571.0,307.6 570.0,307.7 569.0,307.8 568.0,307.8 567.0,307.9 566.0,308.0 565.0,308.0 564.0,308.1 563.0,308.2 562.0,308.3 561.0,308.3 560.0,308.4 559.0,308.5 558.0,308.6 557.0,308.8 556.0,308.9 555.0,309.0 554.0,309.1 553.0,309.2 552.0,309.4 551.0,309.5 550.0,309.6 549.0,309.9 548.0,310.3 547.0,310.6 546.0,311.0 545.0,311.3"/>
<polygon fill="#34a853" points="545.0,311.3 546.0,311.0 547.0,310.6 548.0,310.3 549.0,309.9 550.0,309.6 551.0,309.5 552.0,309.4 553.0,309.2 554.0,309.1 555.0,309.0 556.0,308.9 557.0,308.8 558.0,308.6 559.0,308.5 560.0,308.4 561.0,308.3 562.0,308.3 563.0,308.2 564.0,308.1 565.0,308.0 566.0,308.0 567.0,307.9 568.0,307.8 569.0,307.8 570.0,307.7 571.0,307.6 572.0,307.6 573.0,307.5 574.0,307.5 575.0,307.4 576.0,307.3 577.0,307.3 578.0,307.2 579.0,307.2 580.0,307.1 581.0,307.0 582.0,307.0 583.0,306.9 584.0,306.9 585.0,306.8 586.0,306.7 587.0,306.7 588.0,306.6 589.0,306.6 590.0,306.5 591.0,306.5 592.0,306.4 593.0,306.4 594.0,306.3 595.0,306.3 596.0,306.2 597.0,306.2 598.0,306.1 599.0,306.1 600.0,306.0 601.0,306.0 602.0,305.9 603.0,305.9 604.0,305.8 605.0,305.8 606.0,305.8 607.0,305.7 608.0,305.7 609.0,305.6 610.0,305.6 611.0,305.3 612.0,305.1 613.0,304.8 614.0,304.5 615.0,303.9 616.0,303.3 617.0,302.6 618.0,302.0 619.0,301.4 620.0,300.8 621.0,300.6 622.0,300.4 623.0,300.3 624.0,300.1 625.0,299.9 626.0,299.7 627.0,299.5 628.0,299.4 629.0,299.2 630.0,299.0 631.0,298.1 632.0,297.2 633.0,296.4 634.0,295.5 635.0,294.6 636.0,293.7 637.0,292.8 638.0,291.9 639.0,290.9 640.0,290.0 641.0,289.7 642.0,289.4 643.0,289.1 644.0,288.8 645.0,288.5 646.0,288.4 647.0,288.2 648.0,288.1 649.0,287.9 650.0,287.8 651.0,287.8 652.0,287.8 653.0,287.8 654.0,287.8 655.0,287.8 656.0,287.8 657.0,287.8 658.0,287.8 659.0,287.8 660.0,287.8 661.0,287.8 662.0,287.8 663.0,287.7 664.0,287.7 665.0,287.7 666.0,287.7 667.0,287.7 668.0,287.6 669.0,287.6 670.0,287.6 671.0,287.6 672.0,287.6 673.0,287.5 674.0,287.5 675.0,287.5 676.0,287.5 677.0,287.5 678.0,287.4 679.0,287.4 680.0,287.4 681.0,287.4 682.0,287.4 683.0,287.3 684.0,287.3 685.0,287.3 686.0,287.3 687.0,287.3 688.0,287.2 689.0,287.2 690.0,287.2 691.0,287.4 692.0,287.6 693.0,287.8 694.0,288.0 695.0,288.2 696.0,288.4 697.0,288.6 698.0,288.8 699.0,289.0 700.0,289.2 701.0,289.3 702.0,289.5 703.0,289.6 704.0,289.7 705.0,289.9 706.0,290.0 707.0,290.1 708.0,290.2 709.0,290.4 710.0,290.5 711.0,290.6 712.0,290.7 713.0,290.8 714.0,290.9 715.0,291.0 716.0,291.1 717.0,291.2 718.0,291.3 719.0,291.4 720.0,291.5 721.0,291.6 722.0,291.6 723.0,291.7 724.0,291.8 725.0,291.9 726.0,291.9 727.0,292.0 728.0,291.9 729.0,291.7 730.0,291.6 731.0,291.4 732.0,291.2 733.0,291.1 734.0,290.9 735.0,290.8 736.0,290.7 737.0,290.5 738.0,290.4 739.0,290.3 740.0,290.1 741.0,290.0 742.0,289.9 743.0,289.8 744.0,289.6 745.0,289.5 746.0,289.1 747.0,288.7 748.0,288.4 749.0,288.0 750.0,287.6 751.0,287.2 752.0,286.9 753.0,286.5 754.0,286.2 755.0,285.8 756.0,285.7 757.0,285.6 758.0,285.5 759.0,285.4 760.0,285.3 761.0,285.2 762.0,285.1 763.0,285.0 764.0,284.9 765.0,284.8 766.0,284.6 767.0,284.5 768.0,284.3 769.0,284.2 770.0,284.0 771.0,283.8 772.0,283.7 773.0,283.5 774.0,283.4 775.0,283.2 776.0,282.6 777.0,281.9 778.0,281.3 779.0,280.6 780.0,280.0 781.0,278.9 782.0,277.8 783.0,276.7 784.0,275.6 785.0,274.4 786.0,273.1 787.0,271.9 788.0,270.6 789.0,269.4 790.0,268.8 791.0,268.2 792.0,267.6 793.0,268.1 794.0,268.5 795.0,268.9 796.0,269.4 797.0,268.5 798.0,267.6 799.0,266.7 800.0,264.3 801.0,262.0 802.0,259.6 803.0,257.8 804.0,256.0 805.0,254.2 806.0,256.3 807.0,258.4 808.0,260.5 809.0,259.9 810.0,259.3 811.0,258.7 812.0,257.8 813.0,256.9 814.0,257.8 815.0,258.7 816.0,259.6 817.0,258.7 818.0,257.8 819.0,259.5 820.0,261.3 821.0,263.0 822.0,261.9 823.0,260.7 824.0,259.6 825.0,258.7 826.0,257.8 827.0,256.9 828.0,256.0 829.0,256.9 830.0,257.8 831.0,258.7 832.0,259.6 833.0,260.5 834.0,259.8 835.0,259.1 836.0,258.5 837.0,257.8 838.0,257.4 839.0,256.9 840.0,256.4 841.0,256.0 842.0,256.4 843.0,256.9 844.0,257.4 845.0,257.8 846.0,257.5 847.0,257.2 848.0,256.9 849.0,257.5 850.0,258.1 851.0,258.7 852.0,258.0 853.0,257.4 854.0,256.7 855.0,256.0 856.0,256.9 857.0,257.8 858.0,258.7 859.0,259.6 860.0,260.1 861.0,260.5 862.0,260.9 863.0,261.4 864.0,261.8 865.0,262.2 866.0,262.6 867.0,263.0 868.0,262.8 869.0,262.6 870.0,262.5 871.5,262.2 871.5,297.0 870.0,296.7 869.0,296.5 868.0,296.4 867.0,296.2 866.0,296.0 865.0,295.6 864.0,295.1 863.0,294.7 862.0,294.3 861.0,293.8 860.0,293.4 859.0,293.3 858.0,293.2 857.0,293.1 856.0,293.0 855.0,292.9 854.0,292.8 853.0,292.7 852.0,292.6 851.0,292.5 850.0,292.4 849.0,292.3 848.0,292.2 847.0,292.1 846.0,292.0 845.0,291.9 844.0,291.8 843.0,291.7 842.0,291.6 841.0,291.7 840.0,291.8 839.0,291.9 838.0,292.0 837.0,292.1 836.0,292.2 835.0,292.3 834.0,292.4 833.0,292.5 832.0,292.7 831.0,292.9 830.0,293.2 829.0,293.4 828.0,293.6 827.0,293.9 826.0,294.1 825.0,294.3 824.0,294.2 823.0,294.1 822.0,294.0 821.0,293.9 820.0,293.9 819.0,293.8 818.0,293.7 817.0,293.6 816.0,293.5 815.0,293.4 814.0,293.4 813.0,293.4 812.0,293.4 811.0,293.4 810.0,293.4 809.0,293.4 808.0,293.4 807.0,293.4 806.0,293.6 805.0,293.9 804.0,294.1 803.0,294.3 802.0,294.8 801.0,295.2 800.0,295.6 799.0,296.1 798.0,296.6 797.0,297.0 796.0,297.1 795.0,297.2 794.0,297.3 793.0,297.5 792.0,297.6 791.0,297.7 790.0,297.8 789.0,298.3 788.0,298.9 787.0,299.4 786.0,300.0 785.0,300.5 784.0,301.2 783.0,301.9 782.0,302.6 781.0,303.3 780.0,304.0 779.0,304.1 778.0,304.3 777.0,304.4 776.0,304.5 775.0,304.7 774.0,304.8 773.0,305.0 772.0,305.1 771.0,305.2 770.0,305.4 769.0,305.5 768.0,305.5 767.0,305.5 766.0,305.6 765.0,305.6 764.0,305.6 763.0,305.6 762.0,305.6 761.0,305.7 760.0,305.7 759.0,305.7 758.0,305.7 757.0,305.7 756.0,305.8 755.0,305.8 754.0,305.8 753.0,305.8 752.0,305.8 751.0,305.8 750.0,305.9 749.0,305.9 748.0,305.9 747.0,305.9 746.0,305.9 745.0,306.0 744.0,306.0 743.0,306.0 742.0,306.0 741.0,306.0 740.0,306.0 739.0,306.0 738.0,306.0 737.0,306.1 736.0,306.1 735.0,306.1 734.0,306.1 733.0,306.1 732.0,306.1 731.0,306.1 730.0,306.1 729.0,306.1 728.0,306.1 727.0,306.2 726.0,306.2 725.0,306.2 724.0,306.2 723.0,306.2 722.0,306.2 721.0,306.2 720.0,306.2 719.0,306.2 718.0,306.2 717.0,306.2 716.0,306.3 715.0,306.3 714.0,306.3 713.0,306.3 712.0,306.3 711.0,306.3 710.0,306.3 709.0,306.3 708.0,306.3 707.0,306.3 706.0,306.3 705.0,306.4 704.0,306.4 703.0,306.4 702.0,306.4 701.0,306.4 700.0,306.4 699.0,306.4 698.0,306.4 697.0,306.4 696.0,306.4 695.0,306.5 694.0,306.5 693.0,306.5 692.0,306.5 691.0,306.5 690.0,306.5 689.0,306.5 688.0,306.5 687.0,306.5 686.0,306.5 685.0,306.5 684.0,306.5 683.0,306.5 682.0,306.5 681.0,306.5 680.0,306.5 679.0,306.5 678.0,306.5 677.0,306.6 676.0,306.6 675.0,306.6 674.0,306.6 673.0,306.6 672.0,306.6 671.0,306.6 670.0,306.6 669.0,306.6 668.0,306.6 667.0,306.6 666.0,306.6 665.0,306.6 664.0,306.6 663.0,306.6 662.0,306.6 661.0,306.6 660.0,306.6 659.0,306.6 658.0,306.6 657.0,306.6 656.0,306.6 655.0,306.6 654.0,306.6 653.0,306.6 652.0,306.7 651.0,306.7 650.0,306.7 649.0,306.7 648.0,306.7 647.0,306.7 646.0,306.7 645.0,306.7 644.0,306.7 643.0,306.7 642.0,306.7 641.0,306.7 640.0,306.7 639.0,306.9 638.0,307.0 637.0,307.1 636.0,307.3 635.0,307.6 634.0,307.9 633.0,308.1 632.0,308.4 631.0,308.7 630.0,309.0 629.0,309.1 628.0,309.1 627.0,309.2 626.0,309.3 625.0,309.4 624.0,309.4 623.0,309.5 622.0,309.6 621.0,309.6 620.0,309.7 619.0,309.8 618.0,310.0 617.0,310.1 616.0,310.2 615.0,310.4 614.0,310.5 613.0,310.6 612.0,310.7 611.0,310.9 610.0,311.0 609.0,311.0 608.0,311.0 607.0,311.1 606.0,311.1 605.0,311.1 604.0,311.1 603.0,311.1 602.0,311.2 601.0,311.2 600.0,311.2 599.0,311.2 598.0,311.2 597.0,311.2 596.0,311.3 595.0,311.3 594.0,311.3 593.0,311.3 592.0,311.3 591.0,311.3 590.0,311.4 589.0,311.4 588.0,311.4 587.0,311.4 586.0,311.4 585.0,311.4 584.0,311.4 583.0,311.5 582.0,311.5 581.0,311.5 580.0,311.5 579.0,311.5 578.0,311.5 577.0,311.5 576.0,311.6 575.0,311.6 574.0,311.6 573.0,311.6 572.0,311.6 571.0,311.6 570.0,311.6 569.0,311.7 568.0,311.7 567.0,311.7 566.0,311.7 565.0,311.7 564.0,311.7 563.0,311.8 562.0,311.8 561.0,311.8 560.0,311.8 559.0,311.9 558.0,312.0 557.0,312.0 556.0,312.1 555.0,312.2 554.0,312.3 553.0,312.4 552.0,312.4 551.0,312.5 550.0,312.6 549.0,312.7 548.0,312.8 547.0,312.8 546.0,312.9 545.0,313.0"/>
<polygon fill="#4a86e8" points="545.0,313.0 546.0,312.9 547.0,312.8 548.0,312.8 549.0,312.7 550.0,312.6 551.0,312.5 552.0,312.4 553.0,312.4 554.0,312.3 555.0,312.2 556.0,312.1 557.0,312.0 558.0,312.0 559.0,311.9 560.0,311.8 561.0,311.8 562.0,311.8 563.0,311.8 564.0,311.7 565.0,311.7 566.0,311.7 567.0,311.7 568.0,311.7 569.0,311.7 570.0,311.6 571.0,311.6 572.0,311.6 573.0,311.6 574.0,311.6 575.0,311.6 576.0,311.6 577.0,311.5 578.0,311.5 579.0,311.5 580.0,311.5 581.0,311.5 582.0,311.5 583.0,311.5 584.0,311.4 585.0,311.4 586.0,311.4 587.0,311.4 588.0,311.4 589.0,311.4 590.0,311.4 591.0,311.3 592.0,311.3 593.0,311.3 594.0,311.3 595.0,311.3 596.0,311.3 597.0,311.2 598.0,311.2 599.0,311.2 600.0,311.2 601.0,311.2 602.0,311.2 603.0,311.1 604.0,311.1 605.0,311.1 606.0,311.1 607.0,311.1 608.0,311.0 609.0,311.0 610.0,311.0 611.0,310.9 612.0,310.7 613.0,310.6 614.0,310.5 615.0,310.4 616.0,310.2 617.0,310.1 618.0,310.0 619.0,309.8 620.0,309.7 621.0,309.6 622.0,309.6 623.0,309.5 624.0,309.4 625.0,309.4 626.0,309.3 627.0,309.2 628.0,309.1 629.0,309.1 630.0,309.0 631.0,308.7 632.0,308.4 633.0,308.1 634.0,307.9 635.0,307.6 636.0,307.3 637.0,307.1 638.0,307.0 639.0,306.9 640.0,306.7 641.0,306.7 642.0,306.7 643.0,306.7 644.0,306.7 645.0,306.7 646.0,306.7 647.0,306.7 648.0,306.7 649.0,306.7 650.0,306.7 651.0,306.7 652.0,306.7 653.0,306.6 654.0,306.6 655.0,306.6 656.0,306.6 657.0,306.6 658.0,306.6 659.0,306.6 660.0,306.6 661.0,306.6 662.0,306.6 663.0,306.6 664.0,306.6 665.0,306.6 666.0,306.6 667.0,306.6 668.0,306.6 669.0,306.6 670.0,306.6 671.0,306.6 672.0,306.6 673.0,306.6 674.0,306.6 675.0,306.6 676.0,306.6 677.0,306.6 678.0,306.5 679.0,306.5 680.0,306.5 681.0,306.5 682.0,306.5 683.0,306.5 684.0,306.5 685.0,306.5 686.0,306.5 687.0,306.5 688.0,306.5 689.0,306.5 690.0,306.5 691.0,306.5 692.0,306.5 693.0,306.5 694.0,306.5 695.0,306.5 696.0,306.4 697.0,306.4 698.0,306.4 699.0,306.4 700.0,306.4 701.0,306.4 702.0,306.4 703.0,306.4 704.0,306.4 705.0,306.4 706.0,306.3 707.0,306.3 708.0,306.3 709.0,306.3 710.0,306.3 711.0,306.3 712.0,306.3 713.0,306.3 714.0,306.3 715.0,306.3 716.0,306.3 717.0,306.2 718.0,306.2 719.0,306.2 720.0,306.2 721.0,306.2 722.0,306.2 723.0,306.2 724.0,306.2 725.0,306.2 726.0,306.2 727.0,306.2 728.0,306.1 729.0,306.1 730.0,306.1 731.0,306.1 732.0,306.1 733.0,306.1 734.0,306.1 735.0,306.1 736.0,306.1 737.0,306.1 738.0,306.0 739.0,306.0 740.0,306.0 741.0,306.0 742.0,306.0 743.0,306.0 744.0,306.0 745.0,306.0 746.0,305.9 747.0,305.9 748.0,305.9 749.0,305.9 750.0,305.9 751.0,305.8 752.0,305.8 753.0,305.8 754.0,305.8 755.0,305.8 756.0,305.8 757.0,305.7 758.0,305.7 759.0,305.7 760.0,305.7 761.0,305.7 762.0,305.6 763.0,305.6 764.0,305.6 765.0,305.6 766.0,305.6 767.0,305.5 768.0,305.5 769.0,305.5 770.0,305.4 771.0,305.2 772.0,305.1 773.0,305.0 774.0,304.8 775.0,304.7 776.0,304.5 777.0,304.4 778.0,304.3 779.0,304.1 780.0,304.0 781.0,303.3 782.0,302.6 783.0,301.9 784.0,301.2 785.0,300.5 786.0,300.0 787.0,299.4 788.0,298.9 789.0,298.3 790.0,297.8 791.0,297.7 792.0,297.6 793.0,297.5 794.0,297.3 795.0,297.2 796.0,297.1 797.0,297.0 798.0,296.6 799.0,296.1 800.0,295.6 801.0,295.2 802.0,294.8 803.0,294.3 804.0,294.1 805.0,293.9 806.0,293.6 807.0,293.4 808.0,293.4 809.0,293.4 810.0,293.4 811.0,293.4 812.0,293.4 813.0,293.4 814.0,293.4 815.0,293.4 816.0,293.5 817.0,293.6 818.0,293.7 819.0,293.8 820.0,293.9 821.0,293.9 822.0,294.0 823.0,294.1 824.0,294.2 825.0,294.3 826.0,294.1 827.0,293.9 828.0,293.6 829.0,293.4 830.0,293.2 831.0,292.9 832.0,292.7 833.0,292.5 834.0,292.4 835.0,292.3 836.0,292.2 837.0,292.1 838.0,292.0 839.0,291.9 840.0,291.8 841.0,291.7 842.0,291.6 843.0,291.7 844.0,291.8 845.0,291.9 846.0,292.0 847.0,292.1 848.0,292.2 849.0,292.3 850.0,292.4 851.0,292.5 852.0,292.6 853.0,292.7 854.0,292.8 855.0,292.9 856.0,293.0 857.0,293.1 858.0,293.2 859.0,293.3 860.0,293.4 861.0,293.8 862.0,294.3 863.0,294.7 864.0,295.1 865.0,295.6 866.0,296.0 867.0,296.2 868.0,296.4 869.0,296.5 870.0,296.7 871.5,297.0 871.5,300.0 870.0,300.1 869.0,300.2 868.0,300.3 867.0,300.4 866.0,300.5 865.0,300.1 864.0,299.8 863.0,299.4 862.0,299.1 861.0,298.8 860.0,298.4 859.0,298.3 858.0,298.3 857.0,298.2 856.0,298.1 855.0,298.1 854.0,298.0 853.0,297.9 852.0,297.9 851.0,297.8 850.0,297.7 849.0,297.7 848.0,297.6 847.0,297.6 846.0,297.5 845.0,297.5 844.0,297.4 843.0,297.4 842.0,297.3 841.0,297.6 840.0,297.8 839.0,298.1 838.0,298.3 837.0,298.6 836.0,298.8 835.0,299.1 834.0,299.3 833.0,299.6 832.0,299.6 831.0,299.6 830.0,299.6 829.0,299.6 828.0,299.6 827.0,299.6 826.0,299.6 825.0,299.6 824.0,299.6 823.0,299.6 822.0,299.6 821.0,299.6 820.0,299.6 819.0,299.6 818.0,299.6 817.0,299.6 816.0,299.6 815.0,299.6 814.0,299.6 813.0,299.6 812.0,299.6 811.0,299.6 810.0,299.6 809.0,299.6 808.0,299.8 807.0,299.9 806.0,300.1 805.0,300.2 804.0,300.4 803.0,300.5 802.0,300.9 801.0,301.4 800.0,301.9 799.0,302.3 798.0,302.8 797.0,303.2 796.0,303.1 795.0,303.0 794.0,302.9 793.0,302.8 792.0,302.7 791.0,302.6 790.0,302.5 789.0,303.1 788.0,303.7 787.0,304.3 786.0,304.9 785.0,305.5 784.0,306.1 783.0,306.6 782.0,307.2 781.0,307.7 780.0,308.3 779.0,308.4 778.0,308.5 777.0,308.5 776.0,308.6 775.0,308.7 774.0,308.8 773.0,308.9 772.0,309.0 771.0,309.0 770.0,309.1 769.0,309.2 768.0,309.2 767.0,309.3 766.0,309.3 765.0,309.3 764.0,309.4 763.0,309.4 762.0,309.4 761.0,309.4 760.0,309.5 759.0,309.5 758.0,309.5 757.0,309.6 756.0,309.6 755.0,309.6 754.0,309.7 753.0,309.7 752.0,309.7 751.0,309.8 750.0,309.8 749.0,309.8 748.0,309.8 747.0,309.9 746.0,309.9 745.0,309.9 744.0,310.0 743.0,310.0 742.0,310.0 741.0,310.0 740.0,310.0 739.0,310.1 738.0,310.1 737.0,310.1 736.0,310.1 735.0,310.1 734.0,310.1 733.0,310.2 732.0,310.2 731.0,310.2 730.0,310.2 729.0,310.2 728.0,310.2 727.0,310.2 726.0,310.3 725.0,310.3 724.0,310.3 723.0,310.3 722.0,310.3 721.0,310.3 720.0,310.3 719.0,310.4 718.0,310.4 717.0,310.4 716.0,310.4 715.0,310.4 714.0,310.4 713.0,310.5 712.0,310.5 711.0,310.5 710.0,310.5 709.0,310.5 708.0,310.5 707.0,310.5 706.0,310.6 705.0,310.6 704.0,310.6 703.0,310.6 702.0,310.6 701.0,310.6 700.0,310.6 699.0,310.7 698.0,310.7 697.0,310.7 696.0,310.7 695.0,310.7 694.0,310.7 693.0,310.8 692.0,310.8 691.0,310.8 690.0,310.8 689.0,310.8 688.0,310.8 687.0,310.8 686.0,310.8 685.0,310.8 684.0,310.8 683.0,310.9 682.0,310.9 681.0,310.9 680.0,310.9 679.0,310.9 678.0,310.9 677.0,310.9 676.0,310.9 675.0,310.9 674.0,310.9 673.0,310.9 672.0,310.9 671.0,311.0 670.0,311.0 669.0,311.0 668.0,311.0 667.0,311.0 666.0,311.0 665.0,311.0 664.0,311.0 663.0,311.0 662.0,311.0 661.0,311.0 660.0,311.0 659.0,311.0 658.0,311.1 657.0,311.1 656.0,311.1 655.0,311.1 654.0,311.1 653.0,311.1 652.0,311.1 651.0,311.1 650.0,311.1 649.0,311.1 648.0,311.1 647.0,311.1 646.0,311.2 645.0,311.2 644.0,311.2 643.0,311.2 642.0,311.2 641.0,311.2 640.0,311.2 639.0,311.3 638.0,311.4 637.0,311.4 636.0,311.5 635.0,312.0 634.0,312.5 633.0,312.9 632.0,313.4 631.0,313.9 630.0,314.4 629.0,314.4 628.0,314.5 627.0,314.5 626.0,314.6 625.0,314.6 624.0,314.6 623.0,314.7 622.0,314.7 621.0,314.8 620.0,314.8 619.0,314.9 618.0,315.0 617.0,315.0 616.0,315.1 615.0,315.2 614.0,315.3 613.0,315.4 612.0,315.4 611.0,315.5 610.0,315.6 609.0,315.6 608.0,315.7 607.0,315.7 606.0,315.8 605.0,315.8 604.0,315.8 603.0,315.9 602.0,315.9 601.0,316.0 600.0,316.0 599.0,316.0 598.0,316.0 597.0,316.0 596.0,316.1 595.0,316.1 594.0,316.1 593.0,316.1 592.0,316.1 591.0,316.1 590.0,316.1 589.0,316.2 588.0,316.2 587.0,316.2 586.0,316.2 585.0,316.2 584.0,316.2 583.0,316.3 582.0,316.3 581.0,316.3 580.0,316.3 579.0,316.3 578.0,316.3 577.0,316.3 576.0,316.4 575.0,316.4 574.0,316.4 573.0,316.4 572.0,316.4 571.0,316.4 570.0,316.5 569.0,316.5 568.0,316.5 567.0,316.5 566.0,316.5 565.0,316.5 564.0,316.5 563.0,316.6 562.0,316.6 561.0,316.6 560.0,316.6 559.0,316.6 558.0,316.7 557.0,316.7 556.0,316.7 555.0,316.7 554.0,316.8 553.0,316.8 552.0,316.8 551.0,316.8 550.0,316.9 549.0,316.9 548.0,316.9 547.0,316.9 546.0,317.0 545.0,317.0"/>
<polygon fill="#5b5560" points="545.0,317.0 546.0,317.0 547.0,316.9 548.0,316.9 549.0,316.9 550.0,316.9 551.0,316.8 552.0,316.8 553.0,316.8 554.0,316.8 555.0,316.7 556.0,316.7 557.0,316.7 558.0,316.7 559.0,316.6 560.0,316.6 561.0,316.6 562.0,316.6 563.0,316.6 564.0,316.5 565.0,316.5 566.0,316.5 567.0,316.5 568.0,316.5 569.0,316.5 570.0,316.5 571.0,316.4 572.0,316.4 573.0,316.4 574.0,316.4 575.0,316.4 576.0,316.4 577.0,316.3 578.0,316.3 579.0,316.3 580.0,316.3 581.0,316.3 582.0,316.3 583.0,316.3 584.0,316.2 585.0,316.2 586.0,316.2 587.0,316.2 588.0,316.2 589.0,316.2 590.0,316.1 591.0,316.1 592.0,316.1 593.0,316.1 594.0,316.1 595.0,316.1 596.0,316.1 597.0,316.0 598.0,316.0 599.0,316.0 600.0,316.0 601.0,316.0 602.0,315.9 603.0,315.9 604.0,315.8 605.0,315.8 606.0,315.8 607.0,315.7 608.0,315.7 609.0,315.6 610.0,315.6 611.0,315.5 612.0,315.4 613.0,315.4 614.0,315.3 615.0,315.2 616.0,315.1 617.0,315.0 618.0,315.0 619.0,314.9 620.0,314.8 621.0,314.8 622.0,314.7 623.0,314.7 624.0,314.6 625.0,314.6 626.0,314.6 627.0,314.5 628.0,314.5 629.0,314.4 630.0,314.4 631.0,313.9 632.0,313.4 633.0,312.9 634.0,312.5 635.0,312.0 636.0,311.5 637.0,311.4 638.0,311.4 639.0,311.3 640.0,311.2 641.0,311.2 642.0,311.2 643.0,311.2 644.0,311.2 645.0,311.2 646.0,311.2 647.0,311.1 648.0,311.1 649.0,311.1 650.0,311.1 651.0,311.1 652.0,311.1 653.0,311.1 654.0,311.1 655.0,311.1 656.0,311.1 657.0,311.1 658.0,311.1 659.0,311.0 660.0,311.0 661.0,311.0 662.0,311.0 663.0,311.0 664.0,311.0 665.0,311.0 666.0,311.0 667.0,311.0 668.0,311.0 669.0,311.0 670.0,311.0 671.0,311.0 672.0,310.9 673.0,310.9 674.0,310.9 675.0,310.9 676.0,310.9 677.0,310.9 678.0,310.9 679.0,310.9 680.0,310.9 681.0,310.9 682.0,310.9 683.0,310.9 684.0,310.8 685.0,310.8 686.0,310.8 687.0,310.8 688.0,310.8 689.0,310.8 690.0,310.8 691.0,310.8 692.0,310.8 693.0,310.8 694.0,310.7 695.0,310.7 696.0,310.7 697.0,310.7 698.0,310.7 699.0,310.7 700.0,310.6 701.0,310.6 702.0,310.6 703.0,310.6 704.0,310.6 705.0,310.6 706.0,310.6 707.0,310.5 708.0,310.5 709.0,310.5 710.0,310.5 711.0,310.5 712.0,310.5 713.0,310.5 714.0,310.4 715.0,310.4 716.0,310.4 717.0,310.4 718.0,310.4 719.0,310.4 720.0,310.3 721.0,310.3 722.0,310.3 723.0,310.3 724.0,310.3 725.0,310.3 726.0,310.3 727.0,310.2 728.0,310.2 729.0,310.2 730.0,310.2 731.0,310.2 732.0,310.2 733.0,310.2 734.0,310.1 735.0,310.1 736.0,310.1 737.0,310.1 738.0,310.1 739.0,310.1 740.0,310.0 741.0,310.0 742.0,310.0 743.0,310.0 744.0,310.0 745.0,309.9 746.0,309.9 747.0,309.9 748.0,309.8 749.0,309.8 750.0,309.8 751.0,309.8 752.0,309.7 753.0,309.7 754.0,309.7 755.0,309.6 756.0,309.6 757.0,309.6 758.0,309.5 759.0,309.5 760.0,309.5 761.0,309.4 762.0,309.4 763.0,309.4 764.0,309.4 765.0,309.3 766.0,309.3 767.0,309.3 768.0,309.2 769.0,309.2 770.0,309.1 771.0,309.0 772.0,309.0 773.0,308.9 774.0,308.8 775.0,308.7 776.0,308.6 777.0,308.5 778.0,308.5 779.0,308.4 780.0,308.3 781.0,307.7 782.0,307.2 783.0,306.6 784.0,306.1 785.0,305.5 786.0,304.9 787.0,304.3 788.0,303.7 789.0,303.1 790.0,302.5 791.0,302.6 792.0,302.7 793.0,302.8 794.0,302.9 795.0,303.0 796.0,303.1 797.0,303.2 798.0,302.8 799.0,302.3 800.0,301.9 801.0,301.4 802.0,300.9 803.0,300.5 804.0,300.4 805.0,300.2 806.0,300.1 807.0,299.9 808.0,299.8 809.0,299.6 810.0,299.6 811.0,299.6 812.0,299.6 813.0,299.6 814.0,299.6 815.0,299.6 816.0,299.6 817.0,299.6 818.0,299.6 819.0,299.6 820.0,299.6 821.0,299.6 822.0,299.6 823.0,299.6 824.0,299.6 825.0,299.6 826.0,299.6 827.0,299.6 828.0,299.6 829.0,299.6 830.0,299.6 831.0,299.6 832.0,299.6 833.0,299.6 834.0,299.3 835.0,299.1 836.0,298.8 837.0,298.6 838.0,298.3 839.0,298.1 840.0,297.8 841.0,297.6 842.0,297.3 843.0,297.4 844.0,297.4 845.0,297.5 846.0,297.5 847.0,297.6 848.0,297.6 849.0,297.7 850.0,297.7 851.0,297.8 852.0,297.9 853.0,297.9 854.0,298.0 855.0,298.1 856.0,298.1 857.0,298.2 858.0,298.3 859.0,298.3 860.0,298.4 861.0,298.8 862.0,299.1 863.0,299.4 864.0,299.8 865.0,300.1 866.0,300.5 867.0,300.4 868.0,300.3 869.0,300.2 870.0,300.1 871.5,300.0 871.5,300.4 870.0,300.6 869.0,300.7 868.0,300.8 867.0,300.9 866.0,301.0 865.0,300.6 864.0,300.3 863.0,299.9 862.0,299.6 861.0,299.3 860.0,298.9 859.0,298.8 858.0,298.8 857.0,298.7 856.0,298.7 855.0,298.6 854.0,298.6 853.0,298.5 852.0,298.4 851.0,298.4 850.0,298.3 849.0,298.3 848.0,298.2 847.0,298.2 846.0,298.1 845.0,298.0 844.0,298.0 843.0,297.9 842.0,297.9 841.0,298.1 840.0,298.4 839.0,298.6 838.0,298.9 837.0,299.2 836.0,299.4 835.0,299.7 834.0,299.9 833.0,300.2 832.0,300.2 831.0,300.2 830.0,300.1 829.0,300.1 828.0,300.1 827.0,300.1 826.0,300.1 825.0,300.1 824.0,300.1 823.0,300.1 822.0,300.1 821.0,300.1 820.0,300.1 819.0,300.1 818.0,300.0 817.0,300.0 816.0,300.0 815.0,300.0 814.0,300.0 813.0,300.0 812.0,300.1 811.0,300.1 810.0,300.1 809.0,300.1 808.0,300.3 807.0,300.4 806.0,300.6 805.0,300.7 804.0,300.9 803.0,301.0 802.0,301.5 801.0,301.9 800.0,302.4 799.0,302.8 798.0,303.2 797.0,303.7 796.0,303.6 795.0,303.5 794.0,303.4 793.0,303.3 792.0,303.2 791.0,303.1 790.0,303.0 789.0,303.6 788.0,304.2 787.0,304.8 786.0,305.4 785.0,306.0 784.0,306.5 783.0,307.1 782.0,307.7 781.0,308.2 780.0,308.8 779.0,308.8 778.0,308.9 777.0,309.0 776.0,309.1 775.0,309.1 774.0,309.2 773.0,309.3 772.0,309.3 771.0,309.4 770.0,309.5 769.0,309.6 768.0,309.6 767.0,309.6 766.0,309.7 765.0,309.7 764.0,309.7 763.0,309.8 762.0,309.8 761.0,309.8 760.0,309.9 759.0,309.9 758.0,309.9 757.0,310.0 756.0,310.0 755.0,310.0 754.0,310.0 753.0,310.1 752.0,310.1 751.0,310.1 750.0,310.2 749.0,310.2 748.0,310.2 747.0,310.3 746.0,310.3 745.0,310.3 744.0,310.4 743.0,310.4 742.0,310.4 741.0,310.4 740.0,310.5 739.0,310.5 738.0,310.5 737.0,310.5 736.0,310.5 735.0,310.5 734.0,310.5 733.0,310.6 732.0,310.6 731.0,310.6 730.0,310.6 729.0,310.6 728.0,310.6 727.0,310.6 726.0,310.7 725.0,310.7 724.0,310.7 723.0,310.7 722.0,310.7 721.0,310.7 720.0,310.7 719.0,310.8 718.0,310.8 717.0,310.8 716.0,310.8 715.0,310.8 714.0,310.8 713.0,310.9 712.0,310.9 711.0,310.9 710.0,310.9 709.0,310.9 708.0,310.9 707.0,310.9 706.0,311.0 705.0,311.0 704.0,311.0 703.0,311.0 702.0,311.0 701.0,311.0 700.0,311.0 699.0,311.1 698.0,311.1 697.0,311.1 696.0,311.1 695.0,311.1 694.0,311.1 693.0,311.1 692.0,311.2 691.0,311.2 690.0,311.2 689.0,311.2 688.0,311.2 687.0,311.2 686.0,311.2 685.0,311.2 684.0,311.2 683.0,311.2 682.0,311.3 681.0,311.3 680.0,311.3 679.0,311.3 678.0,311.3 677.0,311.3 676.0,311.3 675.0,311.3 674.0,311.3 673.0,311.3 672.0,311.3 671.0,311.3 670.0,311.3 669.0,311.4 668.0,311.4 667.0,311.4 666.0,311.4 665.0,311.4 664.0,311.4 663.0,311.4 662.0,311.4 661.0,311.4 660.0,311.4 659.0,311.4 658.0,311.4 657.0,311.4 656.0,311.5 655.0,311.5 654.0,311.5 653.0,311.5 652.0,311.5 651.0,311.5 650.0,311.5 649.0,311.5 648.0,311.5 647.0,311.5 646.0,311.5 645.0,311.5 644.0,311.5 643.0,311.6 642.0,311.6 641.0,311.6 640.0,311.6 639.0,311.6 638.0,311.7 637.0,311.8 636.0,311.9 635.0,312.3 634.0,312.8 633.0,313.3 632.0,313.7 631.0,314.2 630.0,314.7 629.0,314.7 628.0,314.7 627.0,314.8 626.0,314.8 625.0,314.9 624.0,314.9 623.0,315.0 622.0,315.0 621.0,315.0 620.0,315.1 619.0,315.2 618.0,315.2 617.0,315.3 616.0,315.4 615.0,315.5 614.0,315.5 613.0,315.6 612.0,315.7 611.0,315.8 610.0,315.9 609.0,315.9 608.0,315.9 607.0,316.0 606.0,316.0 605.0,316.1 604.0,316.1 603.0,316.1 602.0,316.2 601.0,316.2 600.0,316.3 599.0,316.3 598.0,316.3 597.0,316.3 596.0,316.3 595.0,316.3 594.0,316.3 593.0,316.4 592.0,316.4 591.0,316.4 590.0,316.4 589.0,316.4 588.0,316.4 587.0,316.4 586.0,316.5 585.0,316.5 584.0,316.5 583.0,316.5 582.0,316.5 581.0,316.5 580.0,316.5 579.0,316.6 578.0,316.6 577.0,316.6 576.0,316.6 575.0,316.6 574.0,316.6 573.0,316.6 572.0,316.7 571.0,316.7 570.0,316.7 569.0,316.7 568.0,316.7 567.0,316.7 566.0,316.7 565.0,316.8 564.0,316.8 563.0,316.8 562.0,316.8 561.0,316.8 560.0,316.8 559.0,316.9 558.0,316.9 557.0,316.9 556.0,316.9 555.0,317.0 554.0,317.0 553.0,317.0 552.0,317.0 551.0,317.1 550.0,317.1 549.0,317.1 548.0,317.1 547.0,317.2 546.0,317.2 545.0,317.2"/>
<polygon fill="#c18a48" points="545.0,317.2 546.0,317.2 547.0,317.2 548.0,317.1 549.0,317.1 550.0,317.1 551.0,317.1 552.0,317.0 553.0,317.0 554.0,317.0 555.0,317.0 556.0,316.9 557.0,316.9 558.0,316.9 559.0,316.9 560.0,316.8 561.0,316.8 562.0,316.8 563.0,316.8 564.0,316.8 565.0,316.8 566.0,316.7 567.0,316.7 568.0,316.7 569.0,316.7 570.0,316.7 571.0,316.7 572.0,316.7 573.0,316.6 574.0,316.6 575.0,316.6 576.0,316.6 577.0,316.6 578.0,316.6 579.0,316.6 580.0,316.5 581.0,316.5 582.0,316.5 583.0,316.5 584.0,316.5 585.0,316.5 586.0,316.5 587.0,316.4 588.0,316.4 589.0,316.4 590.0,316.4 591.0,316.4 592.0,316.4 593.0,316.4 594.0,316.3 595.0,316.3 596.0,316.3 597.0,316.3 598.0,316.3 599.0,316.3 600.0,316.3 601.0,316.2 602.0,316.2 603.0,316.1 604.0,316.1 605.0,316.1 606.0,316.0 607.0,316.0 608.0,315.9 609.0,315.9 610.0,315.9 611.0,315.8 612.0,315.7 613.0,315.6 614.0,315.5 615.0,315.5 616.0,315.4 617.0,315.3 618.0,315.2 619.0,315.2 620.0,315.1 621.0,315.0 622.0,315.0 623.0,315.0 624.0,314.9 625.0,314.9 626.0,314.8 627.0,314.8 628.0,314.7 629.0,314.7 630.0,314.7 631.0,314.2 632.0,313.7 633.0,313.3 634.0,312.8 635.0,312.3 636.0,311.9 637.0,311.8 638.0,311.7 639.0,311.6 640.0,311.6 641.0,311.6 642.0,311.6 643.0,311.6 644.0,311.5 645.0,311.5 646.0,311.5 647.0,311.5 648.0,311.5 649.0,311.5 650.0,311.5 651.0,311.5 652.0,311.5 653.0,311.5 654.0,311.5 655.0,311.5 656.0,311.5 657.0,311.4 658.0,311.4 659.0,311.4 660.0,311.4 661.0,311.4 662.0,311.4 663.0,311.4 664.0,311.4 665.0,311.4 666.0,311.4 667.0,311.4 668.0,311.4 669.0,311.4 670.0,311.3 671.0,311.3 672.0,311.3 673.0,311.3 674.0,311.3 675.0,311.3 676.0,311.3 677.0,311.3 678.0,311.3 679.0,311.3 680.0,311.3 681.0,311.3 682.0,311.3 683.0,311.2 684.0,311.2 685.0,311.2 686.0,311.2 687.0,311.2 688.0,311.2 689.0,311.2 690.0,311.2 691.0,311.2 692.0,311.2 693.0,311.1 694.0,311.1 695.0,311.1 696.0,311.1 697.0,311.1 698.0,311.1 699.0,311.1 700.0,311.0 701.0,311.0 702.0,311.0 703.0,311.0 704.0,311.0 705.0,311.0 706.0,311.0 707.0,310.9 708.0,310.9 709.0,310.9 710.0,310.9 711.0,310.9 712.0,310.9 713.0,310.9 714.0,310.8 715.0,310.8 716.0,310.8 717.0,310.8 718.0,310.8 719.0,310.8 720.0,310.7 721.0,310.7 722.0,310.7 723.0,310.7 724.0,310.7 725.0,310.7 726.0,310.7 727.0,310.6 728.0,310.6 729.0,310.6 730.0,310.6 731.0,310.6 732.0,310.6 733.0,310.6 734.0,310.5 735.0,310.5 736.0,310.5 737.0,310.5 738.0,310.5 739.0,310.5 740.0,310.5 741.0,310.4 742.0,310.4 743.0,310.4 744.0,310.4 745.0,310.3 746.0,310.3 747.0,310.3 748.0,310.2 749.0,310.2 750.0,310.2 751.0,310.1 752.0,310.1 753.0,310.1 754.0,310.0 755.0,310.0 756.0,310.0 757.0,310.0 758.0,309.9 759.0,309.9 760.0,309.9 761.0,309.8 762.0,309.8 763.0,309.8 764.0,309.7 765.0,309.7 766.0,309.7 767.0,309.6 768.0,309.6 769.0,309.6 770.0,309.5 771.0,309.4 772.0,309.3 773.0,309.3 774.0,309.2 775.0,309.1 776.0,309.1 777.0,309.0 778.0,308.9 779.0,308.8 780.0,308.8 781.0,308.2 782.0,307.7 783.0,307.1 784.0,306.5 785.0,306.0 786.0,305.4 787.0,304.8 788.0,304.2 789.0,303.6 790.0,303.0 791.0,303.1 792.0,303.2 793.0,303.3 794.0,303.4 795.0,303.5 796.0,303.6 797.0,303.7 798.0,303.2 799.0,302.8 800.0,302.4 801.0,301.9 802.0,301.5 803.0,301.0 804.0,300.9 805.0,300.7 806.0,300.6 807.0,300.4 808.0,300.3 809.0,300.1 810.0,300.1 811.0,300.1 812.0,300.1 813.0,300.0 814.0,300.0 815.0,300.0 816.0,300.0 817.0,300.0 818.0,300.0 819.0,300.1 820.0,300.1 821.0,300.1 822.0,300.1 823.0,300.1 824.0,300.1 825.0,300.1 826.0,300.1 827.0,300.1 828.0,300.1 829.0,300.1 830.0,300.1 831.0,300.2 832.0,300.2 833.0,300.2 834.0,299.9 835.0,299.7 836.0,299.4 837.0,299.2 838.0,298.9 839.0,298.6 840.0,298.4 841.0,298.1 842.0,297.9 843.0,297.9 844.0,298.0 845.0,298.0 846.0,298.1 847.0,298.2 848.0,298.2 849.0,298.3 850.0,298.3 851.0,298.4 852.0,298.4 853.0,298.5 854.0,298.6 855.0,298.6 856.0,298.7 857.0,298.7 858.0,298.8 859.0,298.8 860.0,298.9 861.0,299.3 862.0,299.6 863.0,299.9 864.0,300.3 865.0,300.6 866.0,301.0 867.0,300.9 868.0,300.8 869.0,300.7 870.0,300.6 871.5,300.4 871.5,302.8 870.0,303.0 869.0,303.1 868.0,303.2 867.0,303.4 866.0,303.5 865.0,303.2 864.0,302.8 863.0,302.5 862.0,302.2 861.0,301.8 860.0,301.5 859.0,301.5 858.0,301.5 857.0,301.5 856.0,301.5 855.0,301.4 854.0,301.4 853.0,301.4 852.0,301.4 851.0,301.4 850.0,301.3 849.0,301.3 848.0,301.2 847.0,301.2 846.0,301.1 845.0,301.0 844.0,301.0 843.0,300.9 842.0,300.8 841.0,301.1 840.0,301.3 839.0,301.6 838.0,301.8 837.0,302.1 836.0,302.4 835.0,302.6 834.0,302.9 833.0,303.1 832.0,303.1 831.0,303.0 830.0,303.0 829.0,302.9 828.0,302.9 827.0,302.8 826.0,302.7 825.0,302.7 824.0,302.6 823.0,302.6 822.0,302.5 821.0,302.5 820.0,302.4 819.0,302.4 818.0,302.3 817.0,302.3 816.0,302.2 815.0,302.2 814.0,302.3 813.0,302.4 812.0,302.4 811.0,302.5 810.0,302.6 809.0,302.7 808.0,302.9 807.0,303.1 806.0,303.3 805.0,303.5 804.0,303.7 803.0,303.9 802.0,304.2 801.0,304.6 800.0,305.0 799.0,305.4 798.0,305.8 797.0,306.2 796.0,306.1 795.0,306.0 794.0,305.8 793.0,305.7 792.0,305.6 791.0,305.5 790.0,305.3 789.0,306.0 788.0,306.6 787.0,307.2 786.0,307.9 785.0,308.5 784.0,309.0 783.0,309.6 782.0,310.1 781.0,310.6 780.0,311.1 779.0,311.2 778.0,311.2 777.0,311.2 776.0,311.2 775.0,311.3 774.0,311.3 773.0,311.3 772.0,311.4 771.0,311.4 770.0,311.4 769.0,311.4 768.0,311.5 767.0,311.5 766.0,311.6 765.0,311.6 764.0,311.6 763.0,311.7 762.0,311.7 761.0,311.8 760.0,311.8 759.0,311.8 758.0,311.9 757.0,311.9 756.0,312.0 755.0,312.0 754.0,312.0 753.0,312.1 752.0,312.1 751.0,312.2 750.0,312.2 749.0,312.2 748.0,312.3 747.0,312.3 746.0,312.4 745.0,312.4 744.0,312.5 743.0,312.5 742.0,312.5 741.0,312.5 740.0,312.5 739.0,312.5 738.0,312.6 737.0,312.6 736.0,312.6 735.0,312.6 734.0,312.6 733.0,312.6 732.0,312.6 731.0,312.7 730.0,312.7 729.0,312.7 728.0,312.7 727.0,312.7 726.0,312.7 725.0,312.7 724.0,312.7 723.0,312.8 722.0,312.8 721.0,312.8 720.0,312.8 719.0,312.8 718.0,312.8 717.0,312.8 716.0,312.9 715.0,312.9 714.0,312.9 713.0,312.9 712.0,312.9 711.0,312.9 710.0,312.9 709.0,313.0 708.0,313.0 707.0,313.0 706.0,313.0 705.0,313.0 704.0,313.0 703.0,313.0 702.0,313.0 701.0,313.1 700.0,313.1 699.0,313.1 698.0,313.1 697.0,313.1 696.0,313.1 695.0,313.1 694.0,313.2 693.0,313.2 692.0,313.2 691.0,313.2 690.0,313.2 689.0,313.2 688.0,313.2 687.0,313.2 686.0,313.2 685.0,313.2 684.0,313.2 683.0,313.3 682.0,313.3 681.0,313.3 680.0,313.3 679.0,313.3 678.0,313.3 677.0,313.3 676.0,313.3 675.0,313.3 674.0,313.3 673.0,313.3 672.0,313.3 671.0,313.3 670.0,313.3 669.0,313.3 668.0,313.3 667.0,313.4 666.0,313.4 665.0,313.4 664.0,313.4 663.0,313.4 662.0,313.4 661.0,313.4 660.0,313.4 659.0,313.4 658.0,313.4 657.0,313.4 656.0,313.4 655.0,313.4 654.0,313.4 653.0,313.4 652.0,313.4 651.0,313.5 650.0,313.5 649.0,313.5 648.0,313.5 647.0,313.5 646.0,313.5 645.0,313.5 644.0,313.5 643.0,313.5 642.0,313.5 641.0,313.5 640.0,313.5 639.0,313.6 638.0,313.6 637.0,313.6 636.0,313.6 635.0,314.0 634.0,314.4 633.0,314.8 632.0,315.2 631.0,315.6 630.0,315.9 629.0,316.0 628.0,316.1 627.0,316.1 626.0,316.2 625.0,316.2 624.0,316.3 623.0,316.3 622.0,316.4 621.0,316.5 620.0,316.5 619.0,316.6 618.0,316.6 617.0,316.7 616.0,316.8 615.0,316.8 614.0,316.9 613.0,317.0 612.0,317.0 611.0,317.1 610.0,317.1 609.0,317.2 608.0,317.2 607.0,317.3 606.0,317.3 605.0,317.3 604.0,317.4 603.0,317.4 602.0,317.5 601.0,317.5 600.0,317.5 599.0,317.6 598.0,317.6 597.0,317.6 596.0,317.6 595.0,317.6 594.0,317.6 593.0,317.6 592.0,317.6 591.0,317.6 590.0,317.7 589.0,317.7 588.0,317.7 587.0,317.7 586.0,317.7 585.0,317.7 584.0,317.7 583.0,317.7 582.0,317.7 581.0,317.8 580.0,317.8 579.0,317.8 578.0,317.8 577.0,317.8 576.0,317.8 575.0,317.8 574.0,317.8 573.0,317.8 572.0,317.8 571.0,317.9 570.0,317.9 569.0,317.9 568.0,317.9 567.0,317.9 566.0,317.9 565.0,317.9 564.0,317.9 563.0,317.9 562.0,318.0 561.0,318.0 560.0,318.0 559.0,318.0 558.0,318.0 557.0,318.1 556.0,318.1 555.0,318.1 554.0,318.1 553.0,318.2 552.0,318.2 551.0,318.2 550.0,318.2 549.0,318.3 548.0,318.3 547.0,318.3 546.0,318.3 545.0,318.4"/>
<polygon fill="#c9694a" points="545.0,318.4 546.0,318.3 547.0,318.3 548.0,318.3 549.0,318.3 550.0,318.2 551.0,318.2 552.0,318.2 553.0,318.2 554.0,318.1 555.0,318.1 556.0,318.1 557.0,318.1 558.0,318.0 559.0,318.0 560.0,318.0 561.0,318.0 562.0,318.0 563.0,317.9 564.0,317.9 565.0,317.9 566.0,317.9 567.0,317.9 568.0,317.9 569.0,317.9 570.0,317.9 571.0,317.9 572.0,317.8 573.0,317.8 574.0,317.8 575.0,317.8 576.0,317.8 577.0,317.8 578.0,317.8 579.0,317.8 580.0,317.8 581.0,317.8 582.0,317.7 583.0,317.7 584.0,317.7 585.0,317.7 586.0,317.7 587.0,317.7 588.0,317.7 589.0,317.7 590.0,317.7 591.0,317.6 592.0,317.6 593.0,317.6 594.0,317.6 595.0,317.6 596.0,317.6 597.0,317.6 598.0,317.6 599.0,317.6 600.0,317.5 601.0,317.5 602.0,317.5 603.0,317.4 604.0,317.4 605.0,317.3 606.0,317.3 607.0,317.3 608.0,317.2 609.0,317.2 610.0,317.1 611.0,317.1 612.0,317.0 613.0,317.0 614.0,316.9 615.0,316.8 616.0,316.8 617.0,316.7 618.0,316.6 619.0,316.6 620.0,316.5 621.0,316.5 622.0,316.4 623.0,316.3 624.0,316.3 625.0,316.2 626.0,316.2 627.0,316.1 628.0,316.1 629.0,316.0 630.0,315.9 631.0,315.6 632.0,315.2 633.0,314.8 634.0,314.4 635.0,314.0 636.0,313.6 637.0,313.6 638.0,313.6 639.0,313.6 640.0,313.5 641.0,313.5 642.0,313.5 643.0,313.5 644.0,313.5 645.0,313.5 646.0,313.5 647.0,313.5 648.0,313.5 649.0,313.5 650.0,313.5 651.0,313.5 652.0,313.4 653.0,313.4 654.0,313.4 655.0,313.4 656.0,313.4 657.0,313.4 658.0,313.4 659.0,313.4 660.0,313.4 661.0,313.4 662.0,313.4 663.0,313.4 664.0,313.4 665.0,313.4 666.0,313.4 667.0,313.4 668.0,313.3 669.0,313.3 670.0,313.3 671.0,313.3 672.0,313.3 673.0,313.3 674.0,313.3 675.0,313.3 676.0,313.3 677.0,313.3 678.0,313.3 679.0,313.3 680.0,313.3 681.0,313.3 682.0,313.3 683.0,313.3 684.0,313.2 685.0,313.2 686.0,313.2 687.0,313.2 688.0,313.2 689.0,313.2 690.0,313.2 691.0,313.2 692.0,313.2 693.0,313.2 694.0,313.2 695.0,313.1 696.0,313.1 697.0,313.1 698.0,313.1 699.0,313.1 700.0,313.1 701.0,313.1 702.0,313.0 703.0,313.0 704.0,313.0 705.0,313.0 706.0,313.0 707.0,313.0 708.0,313.0 709.0,313.0 710.0,312.9 711.0,312.9 712.0,312.9 713.0,312.9 714.0,312.9 715.0,312.9 716.0,312.9 717.0,312.8 718.0,312.8 719.0,312.8 720.0,312.8 721.0,312.8 722.0,312.8 723.0,312.8 724.0,312.7 725.0,312.7 726.0,312.7 727.0,312.7 728.0,312.7 729.0,312.7 730.0,312.7 731.0,312.7 732.0,312.6 733.0,312.6 734.0,312.6 735.0,312.6 736.0,312.6 737.0,312.6 738.0,312.6 739.0,312.5 740.0,312.5 741.0,312.5 742.0,312.5 743.0,312.5 744.0,312.5 745.0,312.4 746.0,312.4 747.0,312.3 748.0,312.3 749.0,312.2 750.0,312.2 751.0,312.2 752.0,312.1 753.0,312.1 754.0,312.0 755.0,312.0 756.0,312.0 757.0,311.9 758.0,311.9 759.0,311.8 760.0,311.8 761.0,311.8 762.0,311.7 763.0,311.7 764.0,311.6 765.0,311.6 766.0,311.6 767.0,311.5 768.0,311.5 769.0,311.4 770.0,311.4 771.0,311.4 772.0,311.4 773.0,311.3 774.0,311.3 775.0,311.3 776.0,311.2 777.0,311.2 778.0,311.2 779.0,311.2 780.0,311.1 781.0,310.6 782.0,310.1 783.0,309.6 784.0,309.0 785.0,308.5 786.0,307.9 787.0,307.2 788.0,306.6 789.0,306.0 790.0,305.3 791.0,305.5 792.0,305.6 793.0,305.7 794.0,305.8 795.0,306.0 796.0,306.1 797.0,306.2 798.0,305.8 799.0,305.4 800.0,305.0 801.0,304.6 802.0,304.2 803.0,303.9 804.0,303.7 805.0,303.5 806.0,303.3 807.0,303.1 808.0,302.9 809.0,302.7 810.0,302.6 811.0,302.5 812.0,302.4 813.0,302.4 814.0,302.3 815.0,302.2 816.0,302.2 817.0,302.3 818.0,302.3 819.0,302.4 820.0,302.4 821.0,302.5 822.0,302.5 823.0,302.6 824.0,302.6 825.0,302.7 826.0,302.7 827.0,302.8 828.0,302.9 829.0,302.9 830.0,303.0 831.0,303.0 832.0,303.1 833.0,303.1 834.0,302.9 835.0,302.6 836.0,302.4 837.0,302.1 838.0,301.8 839.0,301.6 840.0,301.3 841.0,301.1 842.0,300.8 843.0,300.9 844.0,301.0 845.0,301.0 846.0,301.1 847.0,301.2 848.0,301.2 849.0,301.3 850.0,301.3 851.0,301.4 852.0,301.4 853.0,301.4 854.0,301.4 855.0,301.4 856.0,301.5 857.0,301.5 858.0,301.5 859.0,301.5 860.0,301.5 861.0,301.8 862.0,302.2 863.0,302.5 864.0,302.8 865.0,303.2 866.0,303.5 867.0,303.4 868.0,303.2 869.0,303.1 870.0,303.0 871.5,302.8 871.5,303.2 870.0,303.4 869.0,303.6 868.0,303.7 867.0,303.9 866.0,304.0 865.0,303.7 864.0,303.3 863.0,303.0 862.0,302.7 861.0,302.3 860.0,302.0 859.0,302.0 858.0,302.0 857.0,302.0 856.0,302.0 855.0,302.0 854.0,302.0 853.0,302.0 852.0,302.0 851.0,302.0 850.0,301.9 849.0,301.9 848.0,301.8 847.0,301.7 846.0,301.7 845.0,301.6 844.0,301.5 843.0,301.5 842.0,301.4 841.0,301.7 840.0,301.9 839.0,302.2 838.0,302.4 837.0,302.7 836.0,302.9 835.0,303.2 834.0,303.4 833.0,303.7 832.0,303.6 831.0,303.6 830.0,303.5 829.0,303.4 828.0,303.4 827.0,303.3 826.0,303.3 825.0,303.2 824.0,303.1 823.0,303.1 822.0,303.0 821.0,303.0 820.0,302.9 819.0,302.8 818.0,302.8 817.0,302.7 816.0,302.7 815.0,302.6 814.0,302.7 813.0,302.8 812.0,302.9 811.0,303.0 810.0,303.1 809.0,303.2 808.0,303.4 807.0,303.6 806.0,303.8 805.0,304.0 804.0,304.2 803.0,304.4 802.0,304.8 801.0,305.2 800.0,305.5 799.0,305.9 798.0,306.3 797.0,306.7 796.0,306.6 795.0,306.4 794.0,306.3 793.0,306.2 792.0,306.1 791.0,305.9 790.0,305.8 789.0,306.4 788.0,307.1 787.0,307.7 786.0,308.4 785.0,309.0 784.0,309.5 783.0,310.0 782.0,310.6 781.0,311.1 780.0,311.6 779.0,311.6 778.0,311.6 777.0,311.7 776.0,311.7 775.0,311.7 774.0,311.7 773.0,311.7 772.0,311.7 771.0,311.8 770.0,311.8 769.0,311.8 768.0,311.8 767.0,311.9 766.0,311.9 765.0,312.0 764.0,312.0 763.0,312.1 762.0,312.1 761.0,312.1 760.0,312.2 759.0,312.2 758.0,312.3 757.0,312.3 756.0,312.4 755.0,312.4 754.0,312.4 753.0,312.5 752.0,312.5 751.0,312.6 750.0,312.6 749.0,312.6 748.0,312.7 747.0,312.7 746.0,312.8 745.0,312.8 744.0,312.9 743.0,312.9 742.0,312.9 741.0,312.9 740.0,312.9 739.0,313.0 738.0,313.0 737.0,313.0 736.0,313.0 735.0,313.0 734.0,313.0 733.0,313.0 732.0,313.0 731.0,313.1 730.0,313.1 729.0,313.1 728.0,313.1 727.0,313.1 726.0,313.1 725.0,313.1 724.0,313.2 723.0,313.2 722.0,313.2 721.0,313.2 720.0,313.2 719.0,313.2 718.0,313.2 717.0,313.2 716.0,313.3 715.0,313.3 714.0,313.3 713.0,313.3 712.0,313.3 711.0,313.3 710.0,313.3 709.0,313.3 708.0,313.4 707.0,313.4 706.0,313.4 705.0,313.4 704.0,313.4 703.0,313.4 702.0,313.4 701.0,313.5 700.0,313.5 699.0,313.5 698.0,313.5 697.0,313.5 696.0,313.5 695.0,313.5 694.0,313.5 693.0,313.6 692.0,313.6 691.0,313.6 690.0,313.6 689.0,313.6 688.0,313.6 687.0,313.6 686.0,313.6 685.0,313.6 684.0,313.6 683.0,313.6 682.0,313.6 681.0,313.7 680.0,313.7 679.0,313.7 678.0,313.7 677.0,313.7 676.0,313.7 675.0,313.7 674.0,313.7 673.0,313.7 672.0,313.7 671.0,313.7 670.0,313.7 669.0,313.7 668.0,313.7 667.0,313.7 666.0,313.7 665.0,313.8 664.0,313.8 663.0,313.8 662.0,313.8 661.0,313.8 660.0,313.8 659.0,313.8 658.0,313.8 657.0,313.8 656.0,313.8 655.0,313.8 654.0,313.8 653.0,313.8 652.0,313.8 651.0,313.8 650.0,313.8 649.0,313.8 648.0,313.9 647.0,313.9 646.0,313.9 645.0,313.9 644.0,313.9 643.0,313.9 642.0,313.9 641.0,313.9 640.0,313.9 639.0,313.9 638.0,313.9 637.0,314.0 636.0,314.0 635.0,314.4 634.0,314.7 633.0,315.1 632.0,315.5 631.0,315.8 630.0,316.2 629.0,316.3 628.0,316.3 627.0,316.4 626.0,316.4 625.0,316.5 624.0,316.6 623.0,316.6 622.0,316.7 621.0,316.7 620.0,316.8 619.0,316.9 618.0,316.9 617.0,317.0 616.0,317.0 615.0,317.1 614.0,317.2 613.0,317.2 612.0,317.3 611.0,317.3 610.0,317.4 609.0,317.4 608.0,317.5 607.0,317.5 606.0,317.6 605.0,317.6 604.0,317.6 603.0,317.7 602.0,317.7 601.0,317.8 600.0,317.8 599.0,317.8 598.0,317.8 597.0,317.8 596.0,317.8 595.0,317.9 594.0,317.9 593.0,317.9 592.0,317.9 591.0,317.9 590.0,317.9 589.0,317.9 588.0,317.9 587.0,317.9 586.0,317.9 585.0,317.9 584.0,318.0 583.0,318.0 582.0,318.0 581.0,318.0 580.0,318.0 579.0,318.0 578.0,318.0 577.0,318.0 576.0,318.0 575.0,318.1 574.0,318.1 573.0,318.1 572.0,318.1 571.0,318.1 570.0,318.1 569.0,318.1 568.0,318.1 567.0,318.1 566.0,318.1 565.0,318.1 564.0,318.2 563.0,318.2 562.0,318.2 561.0,318.2 560.0,318.2 559.0,318.2 558.0,318.3 557.0,318.3 556.0,318.3 555.0,318.3 554.0,318.4 553.0,318.4 552.0,318.4 551.0,318.4 550.0,318.5 549.0,318.5 548.0,318.5 547.0,318.5 546.0,318.6 545.0,318.6"/>
<polygon fill="#c9daf8" points="545.0,318.6 546.0,318.6 547.0,318.5 548.0,318.5 549.0,318.5 550.0,318.5 551.0,318.4 552.0,318.4 553.0,318.4 554.0,318.4 555.0,318.3 556.0,318.3 557.0,318.3 558.0,318.3 559.0,318.2 560.0,318.2 561.0,318.2 562.0,318.2 563.0,318.2 564.0,318.2 565.0,318.1 566.0,318.1 567.0,318.1 568.0,318.1 569.0,318.1 570.0,318.1 571.0,318.1 572.0,318.1 573.0,318.1 574.0,318.1 575.0,318.1 576.0,318.0 577.0,318.0 578.0,318.0 579.0,318.0 580.0,318.0 581.0,318.0 582.0,318.0 583.0,318.0 584.0,318.0 585.0,317.9 586.0,317.9 587.0,317.9 588.0,317.9 589.0,317.9 590.0,317.9 591.0,317.9 592.0,317.9 593.0,317.9 594.0,317.9 595.0,317.9 596.0,317.8 597.0,317.8 598.0,317.8 599.0,317.8 600.0,317.8 601.0,317.8 602.0,317.7 603.0,317.7 604.0,317.6 605.0,317.6 606.0,317.6 607.0,317.5 608.0,317.5 609.0,317.4 610.0,317.4 611.0,317.3 612.0,317.3 613.0,317.2 614.0,317.2 615.0,317.1 616.0,317.0 617.0,317.0 618.0,316.9 619.0,316.9 620.0,316.8 621.0,316.7 622.0,316.7 623.0,316.6 624.0,316.6 625.0,316.5 626.0,316.4 627.0,316.4 628.0,316.3 629.0,316.3 630.0,316.2 631.0,315.8 632.0,315.5 633.0,315.1 634.0,314.7 635.0,314.4 636.0,314.0 637.0,314.0 638.0,313.9 639.0,313.9 640.0,313.9 641.0,313.9 642.0,313.9 643.0,313.9 644.0,313.9 645.0,313.9 646.0,313.9 647.0,313.9 648.0,313.9 649.0,313.8 650.0,313.8 651.0,313.8 652.0,313.8 653.0,313.8 654.0,313.8 655.0,313.8 656.0,313.8 657.0,313.8 658.0,313.8 659.0,313.8 660.0,313.8 661.0,313.8 662.0,313.8 663.0,313.8 664.0,313.8 665.0,313.8 666.0,313.7 667.0,313.7 668.0,313.7 669.0,313.7 670.0,313.7 671.0,313.7 672.0,313.7 673.0,313.7 674.0,313.7 675.0,313.7 676.0,313.7 677.0,313.7 678.0,313.7 679.0,313.7 680.0,313.7 681.0,313.7 682.0,313.6 683.0,313.6 684.0,313.6 685.0,313.6 686.0,313.6 687.0,313.6 688.0,313.6 689.0,313.6 690.0,313.6 691.0,313.6 692.0,313.6 693.0,313.6 694.0,313.5 695.0,313.5 696.0,313.5 697.0,313.5 698.0,313.5 699.0,313.5 700.0,313.5 701.0,313.5 702.0,313.4 703.0,313.4 704.0,313.4 705.0,313.4 706.0,313.4 707.0,313.4 708.0,313.4 709.0,313.3 710.0,313.3 711.0,313.3 712.0,313.3 713.0,313.3 714.0,313.3 715.0,313.3 716.0,313.3 717.0,313.2 718.0,313.2 719.0,313.2 720.0,313.2 721.0,313.2 722.0,313.2 723.0,313.2 724.0,313.2 725.0,313.1 726.0,313.1 727.0,313.1 728.0,313.1 729.0,313.1 730.0,313.1 731.0,313.1 732.0,313.0 733.0,313.0 734.0,313.0 735.0,313.0 736.0,313.0 737.0,313.0 738.0,313.0 739.0,313.0 740.0,312.9 741.0,312.9 742.0,312.9 743.0,312.9 744.0,312.9 745.0,312.8 746.0,312.8 747.0,312.7 748.0,312.7 749.0,312.6 750.0,312.6 751.0,312.6 752.0,312.5 753.0,312.5 754.0,312.4 755.0,312.4 756.0,312.4 757.0,312.3 758.0,312.3 759.0,312.2 760.0,312.2 761.0,312.1 762.0,312.1 763.0,312.1 764.0,312.0 765.0,312.0 766.0,311.9 767.0,311.9 768.0,311.8 769.0,311.8 770.0,311.8 771.0,311.8 772.0,311.7 773.0,311.7 774.0,311.7 775.0,311.7 776.0,311.7 777.0,311.7 778.0,311.6 779.0,311.6 780.0,311.6 781.0,311.1 782.0,310.6 783.0,310.0 784.0,309.5 785.0,309.0 786.0,308.4 787.0,307.7 788.0,307.1 789.0,306.4 790.0,305.8 791.0,305.9 792.0,306.1 793.0,306.2 794.0,306.3 795.0,306.4 796.0,306.6 797.0,306.7 798.0,306.3 799.0,305.9 800.0,305.5 801.0,305.2 802.0,304.8 803.0,304.4 804.0,304.2 805.0,304.0 806.0,303.8 807.0,303.6 808.0,303.4 809.0,303.2 810.0,303.1 811.0,303.0 812.0,302.9 813.0,302.8 814.0,302.7 815.0,302.6 816.0,302.7 817.0,302.7 818.0,302.8 819.0,302.8 820.0,302.9 821.0,303.0 822.0,303.0 823.0,303.1 824.0,303.1 825.0,303.2 826.0,303.3 827.0,303.3 828.0,303.4 829.0,303.4 830.0,303.5 831.0,303.6 832.0,303.6 833.0,303.7 834.0,303.4 835.0,303.2 836.0,302.9 837.0,302.7 838.0,302.4 839.0,302.2 840.0,301.9 841.0,301.7 842.0,301.4 843.0,301.5 844.0,301.5 845.0,301.6 846.0,301.7 847.0,301.7 848.0,301.8 849.0,301.9 850.0,301.9 851.0,302.0 852.0,302.0 853.0,302.0 854.0,302.0 855.0,302.0 856.0,302.0 857.0,302.0 858.0,302.0 859.0,302.0 860.0,302.0 861.0,302.3 862.0,302.7 863.0,303.0 864.0,303.3 865.0,303.7 866.0,304.0 867.0,303.9 868.0,303.7 869.0,303.6 870.0,303.4 871.5,303.2 871.5,322.0 870.0,322.0 869.0,322.0 868.0,322.0 867.0,322.0 866.0,322.0 865.0,322.0 864.0,322.0 863.0,322.0 862.0,322.0 861.0,322.0 860.0,322.0 859.0,322.0 858.0,322.0 857.0,322.0 856.0,322.0 855.0,322.0 854.0,322.0 853.0,322.0 852.0,322.0 851.0,322.0 850.0,322.0 849.0,322.0 848.0,322.0 847.0,322.0 846.0,322.0 845.0,322.0 844.0,322.0 843.0,322.0 842.0,322.0 841.0,322.0 840.0,322.0 839.0,322.0 838.0,322.0 837.0,322.0 836.0,322.0 835.0,322.0 834.0,322.0 833.0,322.0 832.0,322.0 831.0,322.0 830.0,322.0 829.0,322.0 828.0,322.0 827.0,322.0 826.0,322.0 825.0,322.0 824.0,322.0 823.0,322.0 822.0,322.0 821.0,322.0 820.0,322.0 819.0,322.0 818.0,322.0 817.0,322.0 816.0,322.0 815.0,322.0 814.0,322.0 813.0,322.0 812.0,322.0 811.0,322.0 810.0,322.0 809.0,322.0 808.0,322.0 807.0,322.0 806.0,322.0 805.0,322.0 804.0,322.0 803.0,322.0 802.0,322.0 801.0,322.0 800.0,322.0 799.0,322.0 798.0,322.0 797.0,322.0 796.0,322.0 795.0,322.0 794.0,322.0 793.0,322.0 792.0,322.0 791.0,322.0 790.0,322.0 789.0,322.0 788.0,322.0 787.0,322.0 786.0,322.0 785.0,322.0 784.0,322.0 783.0,322.0 782.0,322.0 781.0,322.0 780.0,322.0 779.0,322.0 778.0,322.0 777.0,322.0 776.0,322.0 775.0,322.0 774.0,322.0 773.0,322.0 772.0,322.0 771.0,322.0 770.0,322.0 769.0,322.0 768.0,322.0 767.0,322.0 766.0,322.0 765.0,322.0 764.0,322.0 763.0,322.0 762.0,322.0 761.0,322.0 760.0,322.0 759.0,322.0 758.0,322.0 757.0,322.0 756.0,322.0 755.0,322.0 754.0,322.0 753.0,322.0 752.0,322.0 751.0,322.0 750.0,322.0 749.0,322.0 748.0,322.0 747.0,322.0 746.0,322.0 745.0,322.0 744.0,322.0 743.0,322.0 742.0,322.0 741.0,322.0 740.0,322.0 739.0,322.0 738.0,322.0 737.0,322.0 736.0,322.0 735.0,322.0 734.0,322.0 733.0,322.0 732.0,322.0 731.0,322.0 730.0,322.0 729.0,322.0 728.0,322.0 727.0,322.0 726.0,322.0 725.0,322.0 724.0,322.0 723.0,322.0 722.0,322.0 721.0,322.0 720.0,322.0 719.0,322.0 718.0,322.0 717.0,322.0 716.0,322.0 715.0,322.0 714.0,322.0 713.0,322.0 712.0,322.0 711.0,322.0 710.0,322.0 709.0,322.0 708.0,322.0 707.0,322.0 706.0,322.0 705.0,322.0 704.0,322.0 703.0,322.0 702.0,322.0 701.0,322.0 700.0,322.0 699.0,322.0 698.0,322.0 697.0,322.0 696.0,322.0 695.0,322.0 694.0,322.0 693.0,322.0 692.0,322.0 691.0,322.0 690.0,322.0 689.0,322.0 688.0,322.0 687.0,322.0 686.0,322.0 685.0,322.0 684.0,322.0 683.0,322.0 682.0,322.0 681.0,322.0 680.0,322.0 679.0,322.0 678.0,322.0 677.0,322.0 676.0,322.0 675.0,322.0 674.0,322.0 673.0,322.0 672.0,322.0 671.0,322.0 670.0,322.0 669.0,322.0 668.0,322.0 667.0,322.0 666.0,322.0 665.0,322.0 664.0,322.0 663.0,322.0 662.0,322.0 661.0,322.0 660.0,322.0 659.0,322.0 658.0,322.0 657.0,322.0 656.0,322.0 655.0,322.0 654.0,322.0 653.0,322.0 652.0,322.0 651.0,322.0 650.0,322.0 649.0,322.0 648.0,322.0 647.0,322.0 646.0,322.0 645.0,322.0 644.0,322.0 643.0,322.0 642.0,322.0 641.0,322.0 640.0,322.0 639.0,322.0 638.0,322.0 637.0,322.0 636.0,322.0 635.0,322.0 634.0,322.0 633.0,322.0 632.0,322.0 631.0,322.0 630.0,322.0 629.0,322.0 628.0,322.0 627.0,322.0 626.0,322.0 625.0,322.0 624.0,322.0 623.0,322.0 622.0,322.0 621.0,322.0 620.0,322.0 619.0,322.0 618.0,322.0 617.0,322.0 616.0,322.0 615.0,322.0 614.0,322.0 613.0,322.0 612.0,322.0 611.0,322.0 610.0,322.0 609.0,322.0 608.0,322.0 607.0,322.0 606.0,322.0 605.0,322.0 604.0,322.0 603.0,322.0 602.0,322.0 601.0,322.0 600.0,322.0 599.0,322.0 598.0,322.0 597.0,322.0 596.0,322.0 595.0,322.0 594.0,322.0 593.0,322.0 592.0,322.0 591.0,322.0 590.0,322.0 589.0,322.0 588.0,322.0 587.0,322.0 586.0,322.0 585.0,322.0 584.0,322.0 583.0,322.0 582.0,322.0 581.0,322.0 580.0,322.0 579.0,322.0 578.0,322.0 577.0,322.0 576.0,322.0 575.0,322.0 574.0,322.0 573.0,322.0 572.0,322.0 571.0,322.0 570.0,322.0 569.0,322.0 568.0,322.0 567.0,322.0 566.0,322.0 565.0,322.0 564.0,322.0 563.0,322.0 562.0,322.0 561.0,322.0 560.0,322.0 559.0,322.0 558.0,322.0 557.0,322.0 556.0,322.0 555.0,322.0 554.0,322.0 553.0,322.0 552.0,322.0 551.0,322.0 550.0,322.0 549.0,322.0 548.0,322.0 547.0,322.0 546.0,322.0 545.0,322.0"/>
<polyline fill="none" stroke="#0c5a0c" stroke-opacity="0.4" stroke-width="3.4" stroke-linejoin="round" points="545.0,323.0 546.0,323.8 547.0,324.7 548.0,325.5 549.0,325.7 550.0,326.0 551.0,326.2 552.0,326.5 553.0,326.7 554.0,327.0 555.0,327.2 556.0,327.3 557.0,327.3 558.0,327.4 559.0,327.5 560.0,327.5 561.0,327.6 562.0,327.7 563.0,327.8 564.0,327.8 565.0,327.9 566.0,328.1 567.0,328.2 568.0,328.4 569.0,328.5 570.0,328.7 571.0,328.9 572.0,329.0 573.0,329.2 574.0,329.3 575.0,329.5 576.0,329.6 577.0,329.6 578.0,329.7 579.0,329.8 580.0,329.9 581.0,329.9 582.0,330.0 583.0,330.1 584.0,330.1 585.0,330.2 586.0,330.1 587.0,330.0 588.0,329.9 589.0,329.8 590.0,329.7 591.0,329.6 592.0,329.5 593.0,329.4 594.0,329.3 595.0,329.2 596.0,329.2 597.0,329.1 598.0,329.1 599.0,329.0 600.0,329.0 601.0,329.0 602.0,328.9 603.0,328.9 604.0,328.8 605.0,328.8 606.0,328.8 607.0,328.8 608.0,328.8 609.0,328.8 610.0,328.8 611.0,328.4 612.0,327.9 613.0,326.8 614.0,325.7 615.0,324.6 616.0,323.5 617.0,322.2 618.0,321.0 619.0,320.2 620.0,319.4 621.0,318.6 622.0,319.2 623.0,319.8 624.0,320.4 625.0,319.9 626.0,319.5 627.0,319.1 628.0,318.6 629.0,318.0 630.0,317.4 631.0,316.8 632.0,314.8 633.0,312.7 634.0,309.7 635.0,306.7 636.0,303.1 637.0,299.6 638.0,296.6 639.0,293.7 640.0,292.9 641.0,292.1 642.0,291.3 643.0,290.9 644.0,290.5 645.0,290.0 646.0,289.6 647.0,289.2 648.0,288.7 649.0,288.2 650.0,287.8 651.0,287.8 652.0,287.8 653.0,287.8 654.0,287.8 655.0,287.6 656.0,287.4 657.0,287.2 658.0,288.4 659.0,289.6 660.0,290.5 661.0,291.3 662.0,290.5 663.0,289.8 664.0,289.0 665.0,288.4 666.0,287.8 667.0,287.2 668.0,286.6 669.0,287.2 670.0,287.8 671.0,288.4 672.0,287.6 673.0,286.8 674.0,286.0 675.0,283.9 676.0,281.9 677.0,281.8 678.0,281.6 679.0,281.4 680.0,281.3 681.0,281.4 682.0,281.4 683.0,281.5 684.0,281.5 685.0,281.6 686.0,281.6 687.0,282.2 688.0,282.8 689.0,283.3 690.0,283.9 691.0,284.5 692.0,285.1 693.0,285.7 694.0,286.3 695.0,286.9 696.0,287.3 697.0,287.7 698.0,288.2 699.0,288.6 700.0,289.0 701.0,289.2 702.0,289.3 703.0,289.5 704.0,289.7 705.0,289.8 706.0,290.0 707.0,290.2 708.0,290.4 709.0,290.6 710.0,290.8 711.0,291.0 712.0,291.1 713.0,291.3 714.0,291.4 715.0,291.6 716.0,291.7 717.0,291.9 718.0,292.0 719.0,292.2 720.0,292.4 721.0,292.5 722.0,292.7 723.0,292.7 724.0,292.7 725.0,292.7 726.0,292.7 727.0,292.7 728.0,292.1 729.0,291.6 730.0,291.0 731.0,290.9 732.0,290.8 733.0,290.8 734.0,290.7 735.0,290.6 736.0,290.6 737.0,290.6 738.0,290.6 739.0,290.6 740.0,290.6 741.0,290.3 742.0,290.1 743.0,289.8 744.0,289.6 745.0,289.3 746.0,288.7 747.0,288.0 748.0,287.4 749.0,286.9 750.0,286.4 751.0,285.8 752.0,285.3 753.0,284.0 754.0,282.8 755.0,281.5 756.0,280.4 757.0,279.2 758.0,278.1 759.0,276.9 760.0,275.8 761.0,275.1 762.0,274.4 763.0,273.8 764.0,273.1 765.0,272.4 766.0,271.9 767.0,271.4 768.0,271.0 769.0,270.5 770.0,270.0 771.0,269.3 772.0,268.7 773.0,268.0 774.0,267.4 775.0,266.7 776.0,265.6 777.0,264.5 778.0,263.4 779.0,262.3 780.0,259.5 781.0,256.8 782.0,254.0 783.0,249.5 784.0,245.0 785.0,240.5 786.0,233.8 787.0,227.0 788.0,221.2 789.0,215.4 790.0,209.5 791.0,203.6 792.0,201.9 793.0,200.3 794.0,199.4 795.0,198.6 796.0,201.1 797.0,203.6 798.0,205.3 799.0,207.0 800.0,200.3 801.0,193.6 802.0,186.8 803.0,180.0 804.0,169.0 805.0,162.5 806.0,163.2 807.0,164.0 808.0,171.5 809.0,167.9 810.0,164.3 811.0,159.6 812.0,154.9 813.0,151.9 814.0,148.9 815.0,150.1 816.0,151.3 817.0,153.1 818.0,154.9 819.0,157.9 820.0,160.8 821.0,160.2 822.0,159.6 823.0,156.1 824.0,152.5 825.0,150.7 826.0,148.9 827.0,148.3 828.0,147.7 829.0,148.3 830.0,148.9 831.0,147.7 832.0,146.5 833.0,151.2 834.0,156.0 835.0,153.7 836.0,151.3 837.0,147.2 838.0,143.0 839.0,140.0 840.0,137.0 841.0,134.1 842.0,131.1 843.0,132.3 844.0,133.5 845.0,135.9 846.0,138.3 847.0,137.1 848.0,135.9 849.0,137.1 850.0,138.3 851.0,138.9 852.0,139.4 853.0,138.2 854.0,137.0 855.0,137.7 856.0,138.3 857.0,140.1 858.0,141.8 859.0,143.0 860.0,144.2 861.0,145.3 862.0,146.5 863.0,148.9 864.0,151.3 865.0,153.1 866.0,154.9 867.0,156.1 868.0,157.2 869.0,159.0 870.0,160.8 871.5,163.0"/>
<polyline fill="none" stroke="#38f238" stroke-width="2.1" stroke-linejoin="round" points="545.0,323.0 546.0,323.8 547.0,324.7 548.0,325.5 549.0,325.7 550.0,326.0 551.0,326.2 552.0,326.5 553.0,326.7 554.0,327.0 555.0,327.2 556.0,327.3 557.0,327.3 558.0,327.4 559.0,327.5 560.0,327.5 561.0,327.6 562.0,327.7 563.0,327.8 564.0,327.8 565.0,327.9 566.0,328.1 567.0,328.2 568.0,328.4 569.0,328.5 570.0,328.7 571.0,328.9 572.0,329.0 573.0,329.2 574.0,329.3 575.0,329.5 576.0,329.6 577.0,329.6 578.0,329.7 579.0,329.8 580.0,329.9 581.0,329.9 582.0,330.0 583.0,330.1 584.0,330.1 585.0,330.2 586.0,330.1 587.0,330.0 588.0,329.9 589.0,329.8 590.0,329.7 591.0,329.6 592.0,329.5 593.0,329.4 594.0,329.3 595.0,329.2 596.0,329.2 597.0,329.1 598.0,329.1 599.0,329.0 600.0,329.0 601.0,329.0 602.0,328.9 603.0,328.9 604.0,328.8 605.0,328.8 606.0,328.8 607.0,328.8 608.0,328.8 609.0,328.8 610.0,328.8 611.0,328.4 612.0,327.9 613.0,326.8 614.0,325.7 615.0,324.6 616.0,323.5 617.0,322.2 618.0,321.0 619.0,320.2 620.0,319.4 621.0,318.6 622.0,319.2 623.0,319.8 624.0,320.4 625.0,319.9 626.0,319.5 627.0,319.1 628.0,318.6 629.0,318.0 630.0,317.4 631.0,316.8 632.0,314.8 633.0,312.7 634.0,309.7 635.0,306.7 636.0,303.1 637.0,299.6 638.0,296.6 639.0,293.7 640.0,292.9 641.0,292.1 642.0,291.3 643.0,290.9 644.0,290.5 645.0,290.0 646.0,289.6 647.0,289.2 648.0,288.7 649.0,288.2 650.0,287.8 651.0,287.8 652.0,287.8 653.0,287.8 654.0,287.8 655.0,287.6 656.0,287.4 657.0,287.2 658.0,288.4 659.0,289.6 660.0,290.5 661.0,291.3 662.0,290.5 663.0,289.8 664.0,289.0 665.0,288.4 666.0,287.8 667.0,287.2 668.0,286.6 669.0,287.2 670.0,287.8 671.0,288.4 672.0,287.6 673.0,286.8 674.0,286.0 675.0,283.9 676.0,281.9 677.0,281.8 678.0,281.6 679.0,281.4 680.0,281.3 681.0,281.4 682.0,281.4 683.0,281.5 684.0,281.5 685.0,281.6 686.0,281.6 687.0,282.2 688.0,282.8 689.0,283.3 690.0,283.9 691.0,284.5 692.0,285.1 693.0,285.7 694.0,286.3 695.0,286.9 696.0,287.3 697.0,287.7 698.0,288.2 699.0,288.6 700.0,289.0 701.0,289.2 702.0,289.3 703.0,289.5 704.0,289.7 705.0,289.8 706.0,290.0 707.0,290.2 708.0,290.4 709.0,290.6 710.0,290.8 711.0,291.0 712.0,291.1 713.0,291.3 714.0,291.4 715.0,291.6 716.0,291.7 717.0,291.9 718.0,292.0 719.0,292.2 720.0,292.4 721.0,292.5 722.0,292.7 723.0,292.7 724.0,292.7 725.0,292.7 726.0,292.7 727.0,292.7 728.0,292.1 729.0,291.6 730.0,291.0 731.0,290.9 732.0,290.8 733.0,290.8 734.0,290.7 735.0,290.6 736.0,290.6 737.0,290.6 738.0,290.6 739.0,290.6 740.0,290.6 741.0,290.3 742.0,290.1 743.0,289.8 744.0,289.6 745.0,289.3 746.0,288.7 747.0,288.0 748.0,287.4 749.0,286.9 750.0,286.4 751.0,285.8 752.0,285.3 753.0,284.0 754.0,282.8 755.0,281.5 756.0,280.4 757.0,279.2 758.0,278.1 759.0,276.9 760.0,275.8 761.0,275.1 762.0,274.4 763.0,273.8 764.0,273.1 765.0,272.4 766.0,271.9 767.0,271.4 768.0,271.0 769.0,270.5 770.0,270.0 771.0,269.3 772.0,268.7 773.0,268.0 774.0,267.4 775.0,266.7 776.0,265.6 777.0,264.5 778.0,263.4 779.0,262.3 780.0,259.5 781.0,256.8 782.0,254.0 783.0,249.5 784.0,245.0 785.0,240.5 786.0,233.8 787.0,227.0 788.0,221.2 789.0,215.4 790.0,209.5 791.0,203.6 792.0,201.9 793.0,200.3 794.0,199.4 795.0,198.6 796.0,201.1 797.0,203.6 798.0,205.3 799.0,207.0 800.0,200.3 801.0,193.6 802.0,186.8 803.0,180.0 804.0,169.0 805.0,162.5 806.0,163.2 807.0,164.0 808.0,171.5 809.0,167.9 810.0,164.3 811.0,159.6 812.0,154.9 813.0,151.9 814.0,148.9 815.0,150.1 816.0,151.3 817.0,153.1 818.0,154.9 819.0,157.9 820.0,160.8 821.0,160.2 822.0,159.6 823.0,156.1 824.0,152.5 825.0,150.7 826.0,148.9 827.0,148.3 828.0,147.7 829.0,148.3 830.0,148.9 831.0,147.7 832.0,146.5 833.0,151.2 834.0,156.0 835.0,153.7 836.0,151.3 837.0,147.2 838.0,143.0 839.0,140.0 840.0,137.0 841.0,134.1 842.0,131.1 843.0,132.3 844.0,133.5 845.0,135.9 846.0,138.3 847.0,137.1 848.0,135.9 849.0,137.1 850.0,138.3 851.0,138.9 852.0,139.4 853.0,138.2 854.0,137.0 855.0,137.7 856.0,138.3 857.0,140.1 858.0,141.8 859.0,143.0 860.0,144.2 861.0,145.3 862.0,146.5 863.0,148.9 864.0,151.3 865.0,153.1 866.0,154.9 867.0,156.1 868.0,157.2 869.0,159.0 870.0,160.8 871.5,163.0"/>
<circle cx="871.3" cy="160" r="15.4" fill="none" stroke="#f3ea6a" stroke-width="2.2"/></g>
</svg>
<div class="s" style="left:71.3px;top:432.8px;background:#9fc5e8;"></div>
<div class="s" style="left:180.0px;top:432.8px;background:#674ea7;"></div>
<div class="s" style="left:274.8px;top:432.8px;background:#bf9000;"></div>
<div class="s" style="left:351.2px;top:432.8px;background:#a64d79;"></div>
<div class="s" style="left:76.7px;top:448.7px;background:#e06666;"></div>
<div class="s" style="left:151.7px;top:448.7px;background:#8e7cc3;"></div>
<div class="s" style="left:226.0px;top:448.7px;background:#073763;"></div>
<div class="s" style="left:278.3px;top:448.7px;background:#4a86e8;"></div>
<div class="s" style="left:349.4px;top:448.7px;background:#34a853;"></div>
<div class="s" style="left:128.4px;top:464.9px;background:#000000;"></div>
<div class="s" style="left:212.4px;top:464.9px;background:#14ee14;box-shadow:0 0 1.5px 0.5px #7dfa7d;"></div>
<div class="s" style="left:282.9px;top:464.9px;background:#999999;"></div>
<div class="s" style="left:515.4px;top:432.6px;background:#000000;"></div>
<div class="s" style="left:580.7px;top:432.6px;background:#34a853;"></div>
<div class="s" style="left:645.4px;top:432.6px;background:#4a86e8;"></div>
<div class="s" style="left:716.5px;top:432.6px;background:#1c4587;"></div>
<div class="s" style="left:782.6px;top:432.6px;background:#bf9000;"></div>
<div class="s" style="left:519.1px;top:448.8px;background:#8e7cc3;"></div>
<div class="s" style="left:586.0px;top:448.8px;background:#cc0000;"></div>
<div class="s" style="left:650.3px;top:448.8px;background:#c9daf8;"></div>
<div class="s" style="left:708.0px;top:448.8px;background:#999999;"></div>
<div class="s" style="left:773.3px;top:448.8px;background:#14ee14;box-shadow:0 0 1.5px 0.5px #7dfa7d;"></div>
<div class="t" style="left:85.6px;top:25.6px;font-size:16.15px;line-height:20px;margin-top:-5px;-webkit-text-stroke:0;color:#1a1a1a;">Bitcoin Spot ETF Cumulative Flow (US$m)</div>
<div class="t" style="left:518.3px;top:25.6px;font-size:16.06px;line-height:20px;margin-top:-4.6px;-webkit-text-stroke:0;color:#1a1a1a;">Ethereum Spot ETF Cumulative Flow (US$m)</div>
<div class="t" style="left:-104.6px;width:200px;text-align:right;top:62.8px;font-size:9.7px;">100,000</div>
<div class="t" style="left:-104.6px;width:200px;text-align:right;top:167.8px;font-size:9.7px;">50,000</div>
<div class="t" style="left:-104.6px;width:200px;text-align:right;top:273.0px;font-size:9.7px;">0</div>
<div class="t" style="left:-104.6px;width:200px;text-align:right;top:378.0px;font-size:9.7px;">(50,000)</div>
<div class="t" style="left:339.5px;width:200px;text-align:right;top:62.8px;font-size:9.7px;">20,000</div>
<div class="t" style="left:339.5px;width:200px;text-align:right;top:125.8px;font-size:9.7px;">15,000</div>
<div class="t" style="left:339.5px;width:200px;text-align:right;top:188.9px;font-size:9.7px;">10,000</div>
<div class="t" style="left:339.5px;width:200px;text-align:right;top:251.9px;font-size:9.7px;">5,000</div>
<div class="t" style="left:339.5px;width:200px;text-align:right;top:315.1px;font-size:9.7px;">0</div>
<div class="t" style="left:339.5px;width:200px;text-align:right;top:378.0px;font-size:9.7px;">(5,000)</div>
<div class="t" style="left:39.7px;width:200px;text-align:center;top:389.2px;font-size:11px;">01 Apr</div>
<div class="t" style="left:39.7px;width:200px;text-align:center;top:400.4px;font-size:11px;">2024</div>
<div class="t" style="left:83.4px;width:200px;text-align:center;top:389.2px;font-size:11px;">01 Jul</div>
<div class="t" style="left:83.4px;width:200px;text-align:center;top:400.4px;font-size:11px;">2024</div>
<div class="t" style="left:127.5px;width:200px;text-align:center;top:389.2px;font-size:11px;">01 Oct</div>
<div class="t" style="left:127.5px;width:200px;text-align:center;top:400.4px;font-size:11px;">2024</div>
<div class="t" style="left:171.2px;width:200px;text-align:center;top:389.2px;font-size:11px;">01 Jan</div>
<div class="t" style="left:171.2px;width:200px;text-align:center;top:400.4px;font-size:11px;">2025</div>
<div class="t" style="left:214.9px;width:200px;text-align:center;top:389.2px;font-size:11px;">01 Apr</div>
<div class="t" style="left:214.9px;width:200px;text-align:center;top:400.4px;font-size:11px;">2025</div>
<div class="t" style="left:258.6px;width:200px;text-align:center;top:389.2px;font-size:11px;">01 Jul</div>
<div class="t" style="left:258.6px;width:200px;text-align:center;top:400.4px;font-size:11px;">2025</div>
<div class="t" style="left:302.5px;width:200px;text-align:center;top:389.2px;font-size:11px;">01 Oct</div>
<div class="t" style="left:302.5px;width:200px;text-align:center;top:400.4px;font-size:11px;">2025</div>
<div class="t" style="left:491.5px;width:200px;text-align:center;top:388.6px;font-size:9.9px;">01 Oct 2024</div>
<div class="t" style="left:553.2px;width:200px;text-align:center;top:388.6px;font-size:9.9px;">01 Jan 2025</div>
<div class="t" style="left:614.2px;width:200px;text-align:center;top:388.6px;font-size:9.9px;">01 Apr 2025</div>
<div class="t" style="left:675.3px;width:200px;text-align:center;top:388.6px;font-size:9.9px;">01 Jul 2025</div>
<div class="t" style="left:736.8px;width:200px;text-align:center;top:388.6px;font-size:9.9px;">01 Oct 2025</div>
<div class="t" style="left:91.6px;top:430.9px;font-size:11px;">Grayscale Mini</div>
<div class="t" style="left:200.0px;top:430.9px;font-size:11px;">Wisdomtree</div>
<div class="t" style="left:295.0px;top:430.9px;font-size:11.9px;">VanEck</div>
<div class="t" style="left:371.4px;top:430.9px;font-size:11px;">Valkyrie</div>
<div class="t" style="left:96.4px;top:446.8px;font-size:11px;">Franklin</div>
<div class="t" style="left:172.0px;top:446.8px;font-size:11px;">Invesco</div>
<div class="t" style="left:246.0px;top:446.8px;font-size:11px;">Ark</div>
<div class="t" style="left:298.6px;top:446.8px;font-size:11px;">Bitwise</div>
<div class="t" style="left:369.5px;top:446.8px;font-size:11px;">Fidelity</div>
<div class="t" style="left:148.6px;top:463.0px;font-size:11px;">Blackrock</div>
<div class="t" style="left:232.8px;top:463.0px;font-size:11px;">TOTAL</div>
<div class="t" style="left:302.9px;top:463.0px;font-size:11px;">Grayscale</div>
<div class="t" style="left:535.5px;top:430.7px;font-size:11px;">ETHA</div>
<div class="t" style="left:600.6px;top:430.7px;font-size:11px;">FETH</div>
<div class="t" style="left:665.7px;top:430.7px;font-size:11.9px;">ETHW</div>
<div class="t" style="left:736.8px;top:430.7px;font-size:11px;">CETH</div>
<div class="t" style="left:802.8px;top:430.7px;font-size:11px;">ETHV</div>
<div class="t" style="left:539.6px;top:446.9px;font-size:11px;">QETH</div>
<div class="t" style="left:605.9px;top:446.9px;font-size:11px;">EZET</div>
<div class="t" style="left:670.3px;top:446.9px;font-size:11px;">ETH</div>
<div class="t" style="left:728.3px;top:446.9px;font-size:11px;">ETHE</div>
<div class="t" style="left:793.7px;top:446.9px;font-size:11px;">TOTAL</div>
</body></html>
